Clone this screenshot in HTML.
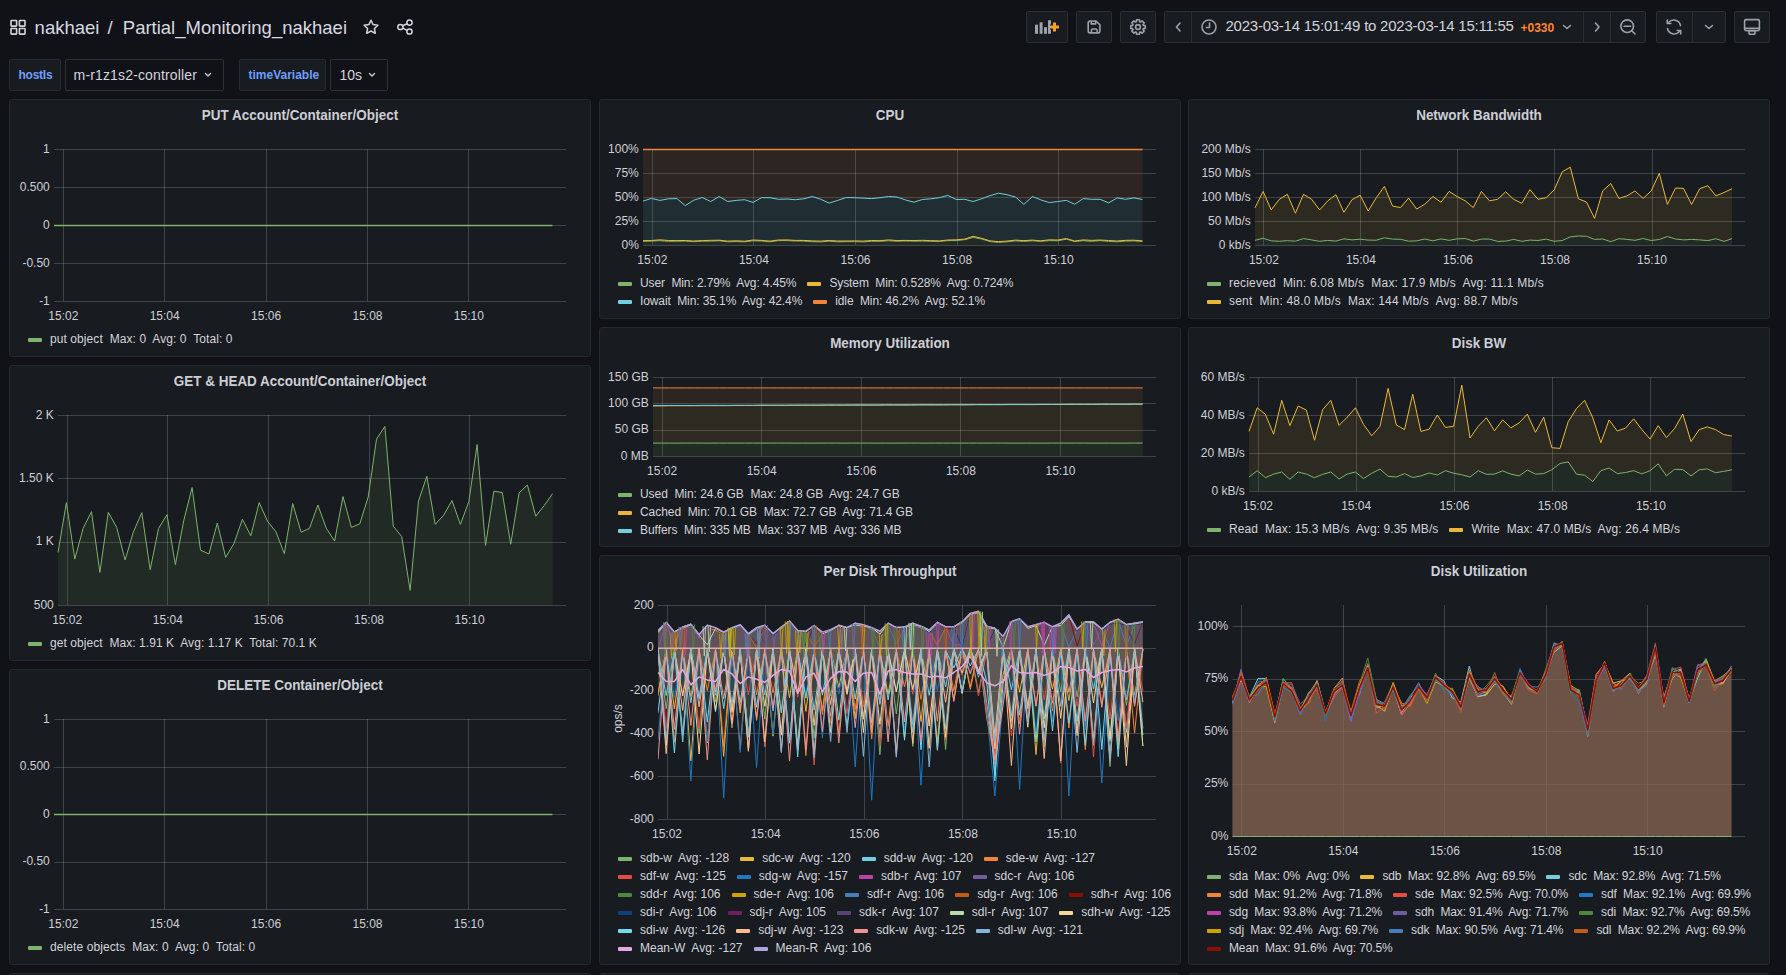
<!DOCTYPE html><html><head><meta charset="utf-8"><style>
*{box-sizing:border-box}
html,body{margin:0;padding:0;background:#111217;width:1786px;height:975px;overflow:hidden;font-family:'Liberation Sans', sans-serif;color:#d3d4dc}
.a{position:absolute}
.pn{position:absolute;background:#181b1f;border:1px solid #24272c;border-radius:3px}
.pt{position:absolute;text-align:center;font-size:15.4px;font-weight:700;line-height:18px;color:#ccced6;white-space:nowrap;transform:scaleX(0.875);transform-origin:50% 50%}
svg{position:absolute;left:0;top:0;overflow:visible}
.ax{font-family:'Liberation Sans', sans-serif;font-size:12px;fill:#cfd0d8}
.lg{position:absolute;font-size:12px;line-height:16px;white-space:pre;color:#d3d4dc}
.li{margin-right:11px}
.li i{display:inline-block;width:14px;height:4px;border-radius:1px;margin-right:8px;vertical-align:1px}
.btn{position:absolute;top:11px;height:32px;background:#181b1f;border:1px solid #2b2e34;border-radius:2px}
.vl{position:absolute;top:59px;height:32px;background:#181b1f;border:1px solid #26292e;border-radius:2px;color:#6e9fff;font-weight:700;font-size:12px;line-height:30px;white-space:nowrap}
.vs{position:absolute;top:59px;height:32px;background:#111217;border:1px solid #2c2f35;border-radius:2px;color:#d3d4dc;font-size:14px;line-height:30px;white-space:nowrap}
</style></head><body>
<svg width="1786" height="60" style="position:absolute;left:0;top:0">
<g fill="none" stroke="#d3d4dc" stroke-width="1.6">
<rect x="11" y="20.5" width="5.6" height="5.6" rx="0.6"/><rect x="19.4" y="20.5" width="5.6" height="5.6" rx="0.6"/>
<rect x="11" y="28.5" width="5.6" height="5.6" rx="0.6"/><rect x="19.4" y="28.5" width="5.6" height="5.6" rx="0.6"/>
</g>
<path d="M371 20.2 L373.1 24.6 L377.9 25.2 L374.4 28.5 L375.3 33.3 L371 31 L366.7 33.3 L367.6 28.5 L364.1 25.2 L368.9 24.6 Z" fill="none" stroke="#d3d4dc" stroke-width="1.5" stroke-linejoin="round"/>
<g fill="none" stroke="#d3d4dc" stroke-width="1.5"><circle cx="400.4" cy="27" r="2.6"/><circle cx="409.5" cy="22.6" r="2.6"/><circle cx="409.5" cy="31.5" r="2.6"/>
<path d="M402.8 25.8 L407.1 23.8 M402.8 28.2 L407.1 30.3"/></g>
</svg>
<div class="a" style="left:34.6px;top:16.6px;font-size:18.5px;line-height:22px;color:#d8d9e0;white-space:nowrap">nakhaei</div>
<div class="a" style="left:107.6px;top:16.6px;font-size:18.5px;line-height:22px;color:#d8d9e0">/</div>
<div class="a" style="left:122.8px;top:16.6px;font-size:18.5px;line-height:22px;color:#d8d9e0;white-space:nowrap">Partial_Monitoring_nakhaei</div>
<div class="btn" style="left:1026px;width:42px"></div>
<div class="btn" style="left:1076px;width:36px"></div>
<div class="btn" style="left:1120px;width:36px"></div>
<div class="btn" style="left:1164px;width:482px"></div>
<div class="btn" style="left:1656px;width:70px"></div>
<div class="btn" style="left:1734px;width:36px"></div>
<svg width="1786" height="60" style="position:absolute;left:0;top:0">
<g stroke="#2b2e34" stroke-width="1" shape-rendering="crispEdges">
<line x1="1191.5" x2="1191.5" y1="12" y2="42"/><line x1="1583.5" x2="1583.5" y1="12" y2="42"/><line x1="1610.5" x2="1610.5" y1="12" y2="42"/><line x1="1692.5" x2="1692.5" y1="12" y2="42"/>
</g>
<g fill="#9ca0aa">
<rect x="1035" y="24.7" width="3" height="9.1"/><rect x="1039.6" y="22.3" width="3" height="11.5"/><rect x="1044" y="27.2" width="3" height="6.6"/><rect x="1048" y="20.2" width="3" height="13.6"/>
</g>
<path d="M1054.5 22.5 V31.5 M1050 27 H1059" stroke="#181b1f" stroke-width="5"/><path d="M1054.5 22.5 V31.5 M1050 27 H1059" stroke="#f7a21f" stroke-width="3"/>
<g fill="none" stroke="#9ca0aa" stroke-width="1.6" stroke-linejoin="round">
<path d="M1090.2 21 H1096 L1099.9 24.9 V30.9 Q1099.9 32.9 1097.9 32.9 H1090.2 Q1088.2 32.9 1088.2 30.9 V23 Q1088.2 21 1090.2 21 Z"/><path d="M1091.2 21 V23.9 H1095.6 V21"/><path d="M1091.4 32.9 V30.3 Q1091.4 29 1092.7 29 H1095.9 Q1097.2 29 1097.2 30.3 V32.9"/>
</g>
<g fill="none" stroke="#9ca0aa" stroke-width="1.6">
<circle cx="1138" cy="27" r="2.4"/>
<path d="M1136.35 21.65 L1136.53 19.75 L1139.47 19.75 L1139.65 21.65 L1140.61 22.05 L1142.09 20.83 L1144.17 22.91 L1142.95 24.39 L1143.35 25.35 L1145.25 25.53 L1145.25 28.47 L1143.35 28.65 L1142.95 29.61 L1144.17 31.09 L1142.09 33.17 L1140.61 31.95 L1139.65 32.35 L1139.47 34.25 L1136.53 34.25 L1136.35 32.35 L1135.39 31.95 L1133.91 33.17 L1131.83 31.09 L1133.05 29.61 L1132.65 28.65 L1130.75 28.47 L1130.75 25.53 L1132.65 25.35 L1133.05 24.39 L1131.83 22.91 L1133.91 20.83 L1135.39 22.05 Z" stroke-linejoin="round"/>
</g>
<g fill="none" stroke="#9ca0aa" stroke-width="1.6" stroke-linecap="round" stroke-linejoin="round">
<path d="M1180 23 L1176.5 27 L1180 31"/>
<circle cx="1209" cy="27" r="7"/><path d="M1209.5 23 V27.5 H1206.5"/>
<path d="M1563.5 25.5 L1567 28.5 L1570.5 25.5"/>
<path d="M1595.5 23 L1599 27 L1595.5 31"/>
<circle cx="1627.2" cy="26.2" r="6.3"/><path d="M1624 26.2 H1630.6 M1631.8 30.8 L1635 34"/>
<path d="M1705.5 25.5 L1709 28.5 L1712.5 25.5"/>
<path d="M1680.5 25.5 A6.8 6.8 0 0 0 1668.6 22.5 M1667.5 28.5 A6.8 6.8 0 0 0 1679.4 31.5"/>
<path d="M1667.3 20 V23.5 H1670.8 M1680.7 34 V30.5 H1677.2"/>
<rect x="1744.6" y="19.6" width="14.8" height="11" rx="1.5"/><path d="M1744.6 28.2 H1759.4"/><rect x="1749" y="30.6" width="6" height="3.6" rx="0.8"/>
</g>
</svg>
<div class="a" style="left:1225.5px;top:16.3px;font-size:15px;line-height:20px;letter-spacing:-0.24px;color:#d3d4dc;white-space:nowrap">2023-03-14 15:01:49 to 2023-03-14 15:11:55</div>
<div class="a" style="left:1520.5px;top:18.5px;font-size:12px;line-height:18px;color:#ff8833;font-weight:700;white-space:nowrap">+0330</div>
<div class="vl" style="left:9px;width:52px;padding-left:8.5px;letter-spacing:-0.25px">hostIs</div>
<div class="vs" style="left:65px;width:159px;padding-left:7.6px;letter-spacing:0.15px">m-r1z1s2-controller</div>
<div class="vl" style="left:239px;width:87px;padding-left:8.5px">timeVariable</div>
<div class="vs" style="left:330px;width:58px;padding-left:8.5px">10s</div>
<svg width="400" height="100" style="position:absolute;left:0;top:0"><g fill="none" stroke="#c8c9d0" stroke-width="1.4" stroke-linecap="round" stroke-linejoin="round">
<path d="M205.5 73.5 L208 76 L210.5 73.5"/><path d="M369.5 73.5 L372 76 L374.5 73.5"/></g></svg>
<div class="pn" style="left:9px;top:99px;width:582px;height:258px"></div>
<div class="pt" style="left:9px;top:105.8px;width:582px">PUT Account/Container/Object</div>
<svg width="1786" height="975"><g stroke="rgba(204,204,220,0.22)" stroke-width="1"><line x1="54" x2="566" y1="149.5" y2="149.5" /><line x1="54" x2="566" y1="187.5" y2="187.5" /><line x1="54" x2="566" y1="225.5" y2="225.5" /><line x1="54" x2="566" y1="263.5" y2="263.5" /><line x1="54" x2="566" y1="301.5" y2="301.5" /><line x1="63.5" x2="63.5" y1="149" y2="301" /><line x1="164.5" x2="164.5" y1="149" y2="301" /><line x1="266.5" x2="266.5" y1="149" y2="301" /><line x1="367.5" x2="367.5" y1="149" y2="301" /><line x1="468.5" x2="468.5" y1="149" y2="301" /></g><g class="ax"><text x="49.8" y="152.5" text-anchor="end">1</text><text x="49.8" y="190.5" text-anchor="end">0.500</text><text x="49.8" y="228.5" text-anchor="end">0</text><text x="49.8" y="266.5" text-anchor="end">-0.50</text><text x="49.8" y="304.5" text-anchor="end">-1</text><text x="63.3" y="319.9" text-anchor="middle">15:02</text><text x="164.7" y="319.9" text-anchor="middle">15:04</text><text x="266.1" y="319.9" text-anchor="middle">15:06</text><text x="367.5" y="319.9" text-anchor="middle">15:08</text><text x="468.8" y="319.9" text-anchor="middle">15:10</text></g><path d="M54 225.5 L62.4 225.5 L70.9 225.5 L79.3 225.5 L87.8 225.5 L96.2 225.5 L104.7 225.5 L113.1 225.5 L121.6 225.5 L130 225.5 L138.5 225.5 L146.9 225.5 L155.4 225.5 L163.8 225.5 L172.3 225.5 L180.7 225.5 L189.2 225.5 L197.6 225.5 L206.1 225.5 L214.5 225.5 L223 225.5 L231.4 225.5 L239.9 225.5 L248.3 225.5 L256.8 225.5 L265.2 225.5 L273.7 225.5 L282.1 225.5 L290.6 225.5 L299 225.5 L307.5 225.5 L315.9 225.5 L324.4 225.5 L332.8 225.5 L341.3 225.5 L349.7 225.5 L358.2 225.5 L366.6 225.5 L375.1 225.5 L383.5 225.5 L392 225.5 L400.4 225.5 L408.9 225.5 L417.3 225.5 L425.7 225.5 L434.2 225.5 L442.6 225.5 L451.1 225.5 L459.5 225.5 L468 225.5 L476.4 225.5 L484.9 225.5 L493.3 225.5 L501.8 225.5 L510.2 225.5 L518.7 225.5 L527.1 225.5 L535.6 225.5 L544 225.5 L552.5 225.5" fill="none" stroke="#7EB26D" stroke-width="1.5" stroke-linejoin="round"/></svg>
<div class="lg" style="left:28px;top:330.5px;letter-spacing:0.08px"><span class="li"><i style="background:#7EB26D"></i>put object  Max: 0  Avg: 0  Total: 0</span></div>
<div class="pn" style="left:9px;top:365px;width:582px;height:296px"></div>
<div class="pt" style="left:9px;top:371.8px;width:582px">GET &amp; HEAD Account/Container/Object</div>
<svg width="1786" height="975"><g stroke="rgba(204,204,220,0.22)" stroke-width="1"><line x1="58" x2="566" y1="415.5" y2="415.5" /><line x1="58" x2="566" y1="478.5" y2="478.5" /><line x1="58" x2="566" y1="542.5" y2="542.5" /><line x1="58" x2="566" y1="605.5" y2="605.5" /><line x1="67.5" x2="67.5" y1="415" y2="605" /><line x1="167.5" x2="167.5" y1="415" y2="605" /><line x1="268.5" x2="268.5" y1="415" y2="605" /><line x1="369.5" x2="369.5" y1="415" y2="605" /><line x1="469.5" x2="469.5" y1="415" y2="605" /></g><g class="ax"><text x="53.8" y="418.5" text-anchor="end">2 K</text><text x="53.8" y="481.8" text-anchor="end">1.50 K</text><text x="53.8" y="545.2" text-anchor="end">1 K</text><text x="53.8" y="608.5" text-anchor="end">500</text><text x="67.2" y="623.9" text-anchor="middle">15:02</text><text x="167.8" y="623.9" text-anchor="middle">15:04</text><text x="268.4" y="623.9" text-anchor="middle">15:06</text><text x="369" y="623.9" text-anchor="middle">15:08</text><text x="469.6" y="623.9" text-anchor="middle">15:10</text></g><path d="M58 552.5 L66.4 502.6 L74.8 559.1 L83.1 528.3 L91.5 511.7 L99.9 572.4 L108.3 512.3 L116.7 527.4 L125.1 560 L133.4 531.9 L141.8 512.6 L150.2 569.7 L158.6 528.3 L167 514.7 L175.4 564.6 L183.7 520.7 L192.1 487.5 L200.5 550.1 L208.9 554 L217.3 523.1 L225.7 557.3 L234 543.4 L242.4 519.2 L250.8 535.8 L259.2 502.6 L267.6 521.3 L276 531.9 L284.3 553.7 L292.7 503.5 L301.1 532.2 L309.5 528.3 L317.9 505 L326.3 528.3 L334.6 541 L343 496.5 L351.4 527.4 L359.8 523.8 L368.2 497.1 L376.5 439.1 L384.9 426.4 L393.3 526.2 L401.7 536.5 L410.1 590.3 L418.5 501.1 L426.8 476.3 L435.2 524.4 L443.6 515.3 L452 500.5 L460.4 524.4 L468.8 501.7 L477.1 444.5 L485.5 545.5 L493.9 491.1 L502.3 492.6 L510.7 544.3 L519.1 492.9 L527.4 485 L535.8 516.2 L544.2 505.6 L552.6 493.5 L552.6 605.5 L544.2 605.5 L535.8 605.5 L527.4 605.5 L519.1 605.5 L510.7 605.5 L502.3 605.5 L493.9 605.5 L485.5 605.5 L477.1 605.5 L468.8 605.5 L460.4 605.5 L452 605.5 L443.6 605.5 L435.2 605.5 L426.8 605.5 L418.5 605.5 L410.1 605.5 L401.7 605.5 L393.3 605.5 L384.9 605.5 L376.5 605.5 L368.2 605.5 L359.8 605.5 L351.4 605.5 L343 605.5 L334.6 605.5 L326.3 605.5 L317.9 605.5 L309.5 605.5 L301.1 605.5 L292.7 605.5 L284.3 605.5 L276 605.5 L267.6 605.5 L259.2 605.5 L250.8 605.5 L242.4 605.5 L234 605.5 L225.7 605.5 L217.3 605.5 L208.9 605.5 L200.5 605.5 L192.1 605.5 L183.7 605.5 L175.4 605.5 L167 605.5 L158.6 605.5 L150.2 605.5 L141.8 605.5 L133.4 605.5 L125.1 605.5 L116.7 605.5 L108.3 605.5 L99.9 605.5 L91.5 605.5 L83.1 605.5 L74.8 605.5 L66.4 605.5 L58 605.5 Z" fill="#7EB26D" fill-opacity="0.1" stroke="none"/><path d="M58 552.5 L66.4 502.6 L74.8 559.1 L83.1 528.3 L91.5 511.7 L99.9 572.4 L108.3 512.3 L116.7 527.4 L125.1 560 L133.4 531.9 L141.8 512.6 L150.2 569.7 L158.6 528.3 L167 514.7 L175.4 564.6 L183.7 520.7 L192.1 487.5 L200.5 550.1 L208.9 554 L217.3 523.1 L225.7 557.3 L234 543.4 L242.4 519.2 L250.8 535.8 L259.2 502.6 L267.6 521.3 L276 531.9 L284.3 553.7 L292.7 503.5 L301.1 532.2 L309.5 528.3 L317.9 505 L326.3 528.3 L334.6 541 L343 496.5 L351.4 527.4 L359.8 523.8 L368.2 497.1 L376.5 439.1 L384.9 426.4 L393.3 526.2 L401.7 536.5 L410.1 590.3 L418.5 501.1 L426.8 476.3 L435.2 524.4 L443.6 515.3 L452 500.5 L460.4 524.4 L468.8 501.7 L477.1 444.5 L485.5 545.5 L493.9 491.1 L502.3 492.6 L510.7 544.3 L519.1 492.9 L527.4 485 L535.8 516.2 L544.2 505.6 L552.6 493.5" fill="none" stroke="#7EB26D" stroke-width="1" stroke-linejoin="round"/></svg>
<div class="lg" style="left:28px;top:634.5px;letter-spacing:0.06px"><span class="li"><i style="background:#7EB26D"></i>get object  Max: 1.91 K  Avg: 1.17 K  Total: 70.1 K</span></div>
<div class="pn" style="left:9px;top:669px;width:582px;height:296px"></div>
<div class="pt" style="left:9px;top:675.8px;width:582px">DELETE Container/Object</div>
<svg width="1786" height="975"><g stroke="rgba(204,204,220,0.22)" stroke-width="1"><line x1="54" x2="566" y1="719.5" y2="719.5" /><line x1="54" x2="566" y1="767.5" y2="767.5" /><line x1="54" x2="566" y1="814.5" y2="814.5" /><line x1="54" x2="566" y1="862.5" y2="862.5" /><line x1="54" x2="566" y1="909.5" y2="909.5" /><line x1="63.5" x2="63.5" y1="719" y2="909" /><line x1="164.5" x2="164.5" y1="719" y2="909" /><line x1="266.5" x2="266.5" y1="719" y2="909" /><line x1="367.5" x2="367.5" y1="719" y2="909" /><line x1="468.5" x2="468.5" y1="719" y2="909" /></g><g class="ax"><text x="49.8" y="722.5" text-anchor="end">1</text><text x="49.8" y="770" text-anchor="end">0.500</text><text x="49.8" y="817.5" text-anchor="end">0</text><text x="49.8" y="865" text-anchor="end">-0.50</text><text x="49.8" y="912.5" text-anchor="end">-1</text><text x="63.3" y="927.9" text-anchor="middle">15:02</text><text x="164.7" y="927.9" text-anchor="middle">15:04</text><text x="266.1" y="927.9" text-anchor="middle">15:06</text><text x="367.5" y="927.9" text-anchor="middle">15:08</text><text x="468.8" y="927.9" text-anchor="middle">15:10</text></g><path d="M54 814.5 L62.4 814.5 L70.9 814.5 L79.3 814.5 L87.8 814.5 L96.2 814.5 L104.7 814.5 L113.1 814.5 L121.6 814.5 L130 814.5 L138.5 814.5 L146.9 814.5 L155.4 814.5 L163.8 814.5 L172.3 814.5 L180.7 814.5 L189.2 814.5 L197.6 814.5 L206.1 814.5 L214.5 814.5 L223 814.5 L231.4 814.5 L239.9 814.5 L248.3 814.5 L256.8 814.5 L265.2 814.5 L273.7 814.5 L282.1 814.5 L290.6 814.5 L299 814.5 L307.5 814.5 L315.9 814.5 L324.4 814.5 L332.8 814.5 L341.3 814.5 L349.7 814.5 L358.2 814.5 L366.6 814.5 L375.1 814.5 L383.5 814.5 L392 814.5 L400.4 814.5 L408.9 814.5 L417.3 814.5 L425.7 814.5 L434.2 814.5 L442.6 814.5 L451.1 814.5 L459.5 814.5 L468 814.5 L476.4 814.5 L484.9 814.5 L493.3 814.5 L501.8 814.5 L510.2 814.5 L518.7 814.5 L527.1 814.5 L535.6 814.5 L544 814.5 L552.5 814.5" fill="none" stroke="#7EB26D" stroke-width="1.5" stroke-linejoin="round"/></svg>
<div class="lg" style="left:28px;top:938.5px;letter-spacing:0.09px"><span class="li"><i style="background:#7EB26D"></i>delete objects  Max: 0  Avg: 0  Total: 0</span></div>
<div class="pn" style="left:599px;top:99px;width:582px;height:220px"></div>
<div class="pt" style="left:599px;top:105.8px;width:582px">CPU</div>
<svg width="1786" height="975"><g stroke="rgba(204,204,220,0.22)" stroke-width="1"><line x1="643" x2="1156" y1="149.5" y2="149.5" /><line x1="643" x2="1156" y1="173.5" y2="173.5" /><line x1="643" x2="1156" y1="197.5" y2="197.5" /><line x1="643" x2="1156" y1="221.5" y2="221.5" /><line x1="643" x2="1156" y1="245.5" y2="245.5" /><line x1="652.5" x2="652.5" y1="149" y2="245" /><line x1="753.5" x2="753.5" y1="149" y2="245" /><line x1="855.5" x2="855.5" y1="149" y2="245" /><line x1="957.5" x2="957.5" y1="149" y2="245" /><line x1="1058.5" x2="1058.5" y1="149" y2="245" /></g><g class="ax"><text x="638.8" y="152.5" text-anchor="end">100%</text><text x="638.8" y="176.5" text-anchor="end">75%</text><text x="638.8" y="200.5" text-anchor="end">50%</text><text x="638.8" y="224.5" text-anchor="end">25%</text><text x="638.8" y="248.5" text-anchor="end">0%</text><text x="652.3" y="263.9" text-anchor="middle">15:02</text><text x="753.9" y="263.9" text-anchor="middle">15:04</text><text x="855.5" y="263.9" text-anchor="middle">15:06</text><text x="957.1" y="263.9" text-anchor="middle">15:08</text><text x="1058.6" y="263.9" text-anchor="middle">15:10</text></g><path d="M643 241.3 L651.5 241.1 L659.9 240.7 L668.4 241.3 L676.9 241.2 L685.3 241.1 L693.8 241.7 L702.3 241.2 L710.7 241.1 L719.2 240.8 L727.7 241.8 L736.1 241.5 L744.6 241.8 L753 240.8 L761.5 241 L770 241.8 L778.4 240.6 L786.9 240.6 L795.4 241 L803.8 241.1 L812.3 241.7 L820.8 241.9 L829.2 241.2 L837.7 241.8 L846.2 241.6 L854.6 241.6 L863.1 241.9 L871.6 241.3 L880 241.3 L888.5 240.8 L897 241.2 L905.4 241 L913.9 241.2 L922.4 241 L930.8 241.3 L939.3 241.5 L947.8 240.6 L956.2 240.6 L964.7 239.7 L973.1 237.4 L981.6 239 L990.1 241.6 L998.5 242.4 L1007 241.8 L1015.5 240.9 L1023.9 241.4 L1032.4 240.8 L1040.9 241.4 L1049.3 240.6 L1057.8 240.8 L1066.3 239.2 L1074.7 241.6 L1083.2 240.7 L1091.7 241.3 L1100.1 240.6 L1108.6 241.4 L1117.1 241.8 L1125.5 241.1 L1134 240.9 L1142.5 241.5 L1142.5 245.5 L1134 245.5 L1125.5 245.5 L1117.1 245.5 L1108.6 245.5 L1100.1 245.5 L1091.7 245.5 L1083.2 245.5 L1074.7 245.5 L1066.3 245.5 L1057.8 245.5 L1049.3 245.5 L1040.9 245.5 L1032.4 245.5 L1023.9 245.5 L1015.5 245.5 L1007 245.5 L998.5 245.5 L990.1 245.5 L981.6 245.5 L973.1 245.5 L964.7 245.5 L956.2 245.5 L947.8 245.5 L939.3 245.5 L930.8 245.5 L922.4 245.5 L913.9 245.5 L905.4 245.5 L897 245.5 L888.5 245.5 L880 245.5 L871.6 245.5 L863.1 245.5 L854.6 245.5 L846.2 245.5 L837.7 245.5 L829.2 245.5 L820.8 245.5 L812.3 245.5 L803.8 245.5 L795.4 245.5 L786.9 245.5 L778.4 245.5 L770 245.5 L761.5 245.5 L753 245.5 L744.6 245.5 L736.1 245.5 L727.7 245.5 L719.2 245.5 L710.7 245.5 L702.3 245.5 L693.8 245.5 L685.3 245.5 L676.9 245.5 L668.4 245.5 L659.9 245.5 L651.5 245.5 L643 245.5 Z" fill="#7EB26D" fill-opacity="0.1" stroke="none"/><path d="M643 240.7 L651.5 240.5 L659.9 239.8 L668.4 240.5 L676.9 240.6 L685.3 240.5 L693.8 241 L702.3 240.6 L710.7 240.3 L719.2 240.2 L727.7 241.1 L736.1 240.8 L744.6 241.2 L753 240 L761.5 240.4 L770 241.1 L778.4 240 L786.9 239.9 L795.4 240.4 L803.8 240.4 L812.3 240.9 L820.8 241.1 L829.2 240.5 L837.7 241 L846.2 241 L854.6 240.9 L863.1 241.1 L871.6 240.5 L880 240.7 L888.5 239.9 L897 240.6 L905.4 240.4 L913.9 240.5 L922.4 240.3 L930.8 240.6 L939.3 240.9 L947.8 240 L956.2 239.8 L964.7 239.1 L973.1 236.3 L981.6 238.3 L990.1 240.9 L998.5 241.6 L1007 241.1 L1015.5 240.1 L1023.9 240.6 L1032.4 240.1 L1040.9 240.8 L1049.3 239.8 L1057.8 240 L1066.3 238.5 L1074.7 241 L1083.2 239.9 L1091.7 240.4 L1100.1 240 L1108.6 240.5 L1117.1 241 L1125.5 240.3 L1134 240.2 L1142.5 240.9 L1142.5 241.5 L1134 240.9 L1125.5 241.1 L1117.1 241.8 L1108.6 241.4 L1100.1 240.6 L1091.7 241.3 L1083.2 240.7 L1074.7 241.6 L1066.3 239.2 L1057.8 240.8 L1049.3 240.6 L1040.9 241.4 L1032.4 240.8 L1023.9 241.4 L1015.5 240.9 L1007 241.8 L998.5 242.4 L990.1 241.6 L981.6 239 L973.1 237.4 L964.7 239.7 L956.2 240.6 L947.8 240.6 L939.3 241.5 L930.8 241.3 L922.4 241 L913.9 241.2 L905.4 241 L897 241.2 L888.5 240.8 L880 241.3 L871.6 241.3 L863.1 241.9 L854.6 241.6 L846.2 241.6 L837.7 241.8 L829.2 241.2 L820.8 241.9 L812.3 241.7 L803.8 241.1 L795.4 241 L786.9 240.6 L778.4 240.6 L770 241.8 L761.5 241 L753 240.8 L744.6 241.8 L736.1 241.5 L727.7 241.8 L719.2 240.8 L710.7 241.1 L702.3 241.2 L693.8 241.7 L685.3 241.1 L676.9 241.2 L668.4 241.3 L659.9 240.7 L651.5 241.1 L643 241.3 Z" fill="#EAB839" fill-opacity="0.1" stroke="none"/><path d="M643 201.1 L651.5 198.4 L659.9 200.4 L668.4 198.8 L676.9 198.6 L685.3 205.6 L693.8 200.2 L702.3 197.5 L710.7 201.5 L719.2 196.5 L727.7 201.5 L736.1 200.4 L744.6 199.7 L753 202.4 L761.5 197.7 L770 197.7 L778.4 199.3 L786.9 199 L795.4 199.7 L803.8 198.8 L812.3 196.5 L820.8 199.3 L829.2 203.1 L837.7 200.4 L846.2 197.5 L854.6 197.7 L863.1 198.1 L871.6 198.6 L880 197.7 L888.5 196.5 L897 197 L905.4 199.9 L913.9 202.2 L922.4 199.5 L930.8 198.8 L939.3 197.7 L947.8 195.4 L956.2 199.5 L964.7 199.3 L973.1 201.5 L981.6 198.8 L990.1 195.6 L998.5 193.2 L1007 194.7 L1015.5 197 L1023.9 204.4 L1032.4 196.5 L1040.9 199.9 L1049.3 202.6 L1057.8 201.5 L1066.3 200.4 L1074.7 204.2 L1083.2 198.6 L1091.7 199.3 L1100.1 199.3 L1108.6 202.9 L1117.1 197.9 L1125.5 199.3 L1134 197.9 L1142.5 199.5 L1142.5 240.9 L1134 240.2 L1125.5 240.3 L1117.1 241 L1108.6 240.5 L1100.1 240 L1091.7 240.4 L1083.2 239.9 L1074.7 241 L1066.3 238.5 L1057.8 240 L1049.3 239.8 L1040.9 240.8 L1032.4 240.1 L1023.9 240.6 L1015.5 240.1 L1007 241.1 L998.5 241.6 L990.1 240.9 L981.6 238.3 L973.1 236.3 L964.7 239.1 L956.2 239.8 L947.8 240 L939.3 240.9 L930.8 240.6 L922.4 240.3 L913.9 240.5 L905.4 240.4 L897 240.6 L888.5 239.9 L880 240.7 L871.6 240.5 L863.1 241.1 L854.6 240.9 L846.2 241 L837.7 241 L829.2 240.5 L820.8 241.1 L812.3 240.9 L803.8 240.4 L795.4 240.4 L786.9 239.9 L778.4 240 L770 241.1 L761.5 240.4 L753 240 L744.6 241.2 L736.1 240.8 L727.7 241.1 L719.2 240.2 L710.7 240.3 L702.3 240.6 L693.8 241 L685.3 240.5 L676.9 240.6 L668.4 240.5 L659.9 239.8 L651.5 240.5 L643 240.7 Z" fill="#6ED0E0" fill-opacity="0.1" stroke="none"/><path d="M643 149.5 L651.5 149.5 L659.9 149.5 L668.4 149.5 L676.9 149.5 L685.3 149.5 L693.8 149.5 L702.3 149.5 L710.7 149.5 L719.2 149.5 L727.7 149.5 L736.1 149.5 L744.6 149.5 L753 149.5 L761.5 149.5 L770 149.5 L778.4 149.5 L786.9 149.5 L795.4 149.5 L803.8 149.5 L812.3 149.5 L820.8 149.5 L829.2 149.5 L837.7 149.5 L846.2 149.5 L854.6 149.5 L863.1 149.5 L871.6 149.5 L880 149.5 L888.5 149.5 L897 149.5 L905.4 149.5 L913.9 149.5 L922.4 149.5 L930.8 149.5 L939.3 149.5 L947.8 149.5 L956.2 149.5 L964.7 149.5 L973.1 149.5 L981.6 149.5 L990.1 149.5 L998.5 149.5 L1007 149.5 L1015.5 149.5 L1023.9 149.5 L1032.4 149.5 L1040.9 149.5 L1049.3 149.5 L1057.8 149.5 L1066.3 149.5 L1074.7 149.5 L1083.2 149.5 L1091.7 149.5 L1100.1 149.5 L1108.6 149.5 L1117.1 149.5 L1125.5 149.5 L1134 149.5 L1142.5 149.5 L1142.5 199.5 L1134 197.9 L1125.5 199.3 L1117.1 197.9 L1108.6 202.9 L1100.1 199.3 L1091.7 199.3 L1083.2 198.6 L1074.7 204.2 L1066.3 200.4 L1057.8 201.5 L1049.3 202.6 L1040.9 199.9 L1032.4 196.5 L1023.9 204.4 L1015.5 197 L1007 194.7 L998.5 193.2 L990.1 195.6 L981.6 198.8 L973.1 201.5 L964.7 199.3 L956.2 199.5 L947.8 195.4 L939.3 197.7 L930.8 198.8 L922.4 199.5 L913.9 202.2 L905.4 199.9 L897 197 L888.5 196.5 L880 197.7 L871.6 198.6 L863.1 198.1 L854.6 197.7 L846.2 197.5 L837.7 200.4 L829.2 203.1 L820.8 199.3 L812.3 196.5 L803.8 198.8 L795.4 199.7 L786.9 199 L778.4 199.3 L770 197.7 L761.5 197.7 L753 202.4 L744.6 199.7 L736.1 200.4 L727.7 201.5 L719.2 196.5 L710.7 201.5 L702.3 197.5 L693.8 200.2 L685.3 205.6 L676.9 198.6 L668.4 198.8 L659.9 200.4 L651.5 198.4 L643 201.1 Z" fill="#EF843C" fill-opacity="0.1" stroke="none"/><path d="M643 241.3 L651.5 241.1 L659.9 240.7 L668.4 241.3 L676.9 241.2 L685.3 241.1 L693.8 241.7 L702.3 241.2 L710.7 241.1 L719.2 240.8 L727.7 241.8 L736.1 241.5 L744.6 241.8 L753 240.8 L761.5 241 L770 241.8 L778.4 240.6 L786.9 240.6 L795.4 241 L803.8 241.1 L812.3 241.7 L820.8 241.9 L829.2 241.2 L837.7 241.8 L846.2 241.6 L854.6 241.6 L863.1 241.9 L871.6 241.3 L880 241.3 L888.5 240.8 L897 241.2 L905.4 241 L913.9 241.2 L922.4 241 L930.8 241.3 L939.3 241.5 L947.8 240.6 L956.2 240.6 L964.7 239.7 L973.1 237.4 L981.6 239 L990.1 241.6 L998.5 242.4 L1007 241.8 L1015.5 240.9 L1023.9 241.4 L1032.4 240.8 L1040.9 241.4 L1049.3 240.6 L1057.8 240.8 L1066.3 239.2 L1074.7 241.6 L1083.2 240.7 L1091.7 241.3 L1100.1 240.6 L1108.6 241.4 L1117.1 241.8 L1125.5 241.1 L1134 240.9 L1142.5 241.5" fill="none" stroke="#7EB26D" stroke-width="1" stroke-linejoin="round"/><path d="M643 240.7 L651.5 240.5 L659.9 239.8 L668.4 240.5 L676.9 240.6 L685.3 240.5 L693.8 241 L702.3 240.6 L710.7 240.3 L719.2 240.2 L727.7 241.1 L736.1 240.8 L744.6 241.2 L753 240 L761.5 240.4 L770 241.1 L778.4 240 L786.9 239.9 L795.4 240.4 L803.8 240.4 L812.3 240.9 L820.8 241.1 L829.2 240.5 L837.7 241 L846.2 241 L854.6 240.9 L863.1 241.1 L871.6 240.5 L880 240.7 L888.5 239.9 L897 240.6 L905.4 240.4 L913.9 240.5 L922.4 240.3 L930.8 240.6 L939.3 240.9 L947.8 240 L956.2 239.8 L964.7 239.1 L973.1 236.3 L981.6 238.3 L990.1 240.9 L998.5 241.6 L1007 241.1 L1015.5 240.1 L1023.9 240.6 L1032.4 240.1 L1040.9 240.8 L1049.3 239.8 L1057.8 240 L1066.3 238.5 L1074.7 241 L1083.2 239.9 L1091.7 240.4 L1100.1 240 L1108.6 240.5 L1117.1 241 L1125.5 240.3 L1134 240.2 L1142.5 240.9" fill="none" stroke="#EAB839" stroke-width="1" stroke-linejoin="round"/><path d="M643 201.1 L651.5 198.4 L659.9 200.4 L668.4 198.8 L676.9 198.6 L685.3 205.6 L693.8 200.2 L702.3 197.5 L710.7 201.5 L719.2 196.5 L727.7 201.5 L736.1 200.4 L744.6 199.7 L753 202.4 L761.5 197.7 L770 197.7 L778.4 199.3 L786.9 199 L795.4 199.7 L803.8 198.8 L812.3 196.5 L820.8 199.3 L829.2 203.1 L837.7 200.4 L846.2 197.5 L854.6 197.7 L863.1 198.1 L871.6 198.6 L880 197.7 L888.5 196.5 L897 197 L905.4 199.9 L913.9 202.2 L922.4 199.5 L930.8 198.8 L939.3 197.7 L947.8 195.4 L956.2 199.5 L964.7 199.3 L973.1 201.5 L981.6 198.8 L990.1 195.6 L998.5 193.2 L1007 194.7 L1015.5 197 L1023.9 204.4 L1032.4 196.5 L1040.9 199.9 L1049.3 202.6 L1057.8 201.5 L1066.3 200.4 L1074.7 204.2 L1083.2 198.6 L1091.7 199.3 L1100.1 199.3 L1108.6 202.9 L1117.1 197.9 L1125.5 199.3 L1134 197.9 L1142.5 199.5" fill="none" stroke="#6ED0E0" stroke-width="1" stroke-linejoin="round"/><path d="M643 149.5 L651.5 149.5 L659.9 149.5 L668.4 149.5 L676.9 149.5 L685.3 149.5 L693.8 149.5 L702.3 149.5 L710.7 149.5 L719.2 149.5 L727.7 149.5 L736.1 149.5 L744.6 149.5 L753 149.5 L761.5 149.5 L770 149.5 L778.4 149.5 L786.9 149.5 L795.4 149.5 L803.8 149.5 L812.3 149.5 L820.8 149.5 L829.2 149.5 L837.7 149.5 L846.2 149.5 L854.6 149.5 L863.1 149.5 L871.6 149.5 L880 149.5 L888.5 149.5 L897 149.5 L905.4 149.5 L913.9 149.5 L922.4 149.5 L930.8 149.5 L939.3 149.5 L947.8 149.5 L956.2 149.5 L964.7 149.5 L973.1 149.5 L981.6 149.5 L990.1 149.5 L998.5 149.5 L1007 149.5 L1015.5 149.5 L1023.9 149.5 L1032.4 149.5 L1040.9 149.5 L1049.3 149.5 L1057.8 149.5 L1066.3 149.5 L1074.7 149.5 L1083.2 149.5 L1091.7 149.5 L1100.1 149.5 L1108.6 149.5 L1117.1 149.5 L1125.5 149.5 L1134 149.5 L1142.5 149.5" fill="none" stroke="#EF843C" stroke-width="1.5" stroke-linejoin="round"/></svg>
<div class="lg" style="left:618px;top:275px;letter-spacing:-0.1px"><span class="li"><i style="background:#7EB26D"></i>User  Min: 2.79%  Avg: 4.45%</span><span class="li"><i style="background:#EAB839"></i>System  Min: 0.528%  Avg: 0.724%</span></div>
<div class="lg" style="left:618px;top:293px;letter-spacing:-0.1px"><span class="li"><i style="background:#6ED0E0"></i>Iowait  Min: 35.1%  Avg: 42.4%</span><span class="li"><i style="background:#EF843C"></i>idle  Min: 46.2%  Avg: 52.1%</span></div>
<div class="pn" style="left:1188px;top:99px;width:582px;height:220px"></div>
<div class="pt" style="left:1188px;top:105.8px;width:582px">Network Bandwidth</div>
<svg width="1786" height="975"><g stroke="rgba(204,204,220,0.22)" stroke-width="1"><line x1="1255" x2="1745" y1="149.5" y2="149.5" /><line x1="1255" x2="1745" y1="173.5" y2="173.5" /><line x1="1255" x2="1745" y1="197.5" y2="197.5" /><line x1="1255" x2="1745" y1="221.5" y2="221.5" /><line x1="1255" x2="1745" y1="245.5" y2="245.5" /><line x1="1263.5" x2="1263.5" y1="149" y2="245" /><line x1="1360.5" x2="1360.5" y1="149" y2="245" /><line x1="1457.5" x2="1457.5" y1="149" y2="245" /><line x1="1554.5" x2="1554.5" y1="149" y2="245" /><line x1="1652.5" x2="1652.5" y1="149" y2="245" /></g><g class="ax"><text x="1250.8" y="152.5" text-anchor="end">200 Mb/s</text><text x="1250.8" y="176.5" text-anchor="end">150 Mb/s</text><text x="1250.8" y="200.5" text-anchor="end">100 Mb/s</text><text x="1250.8" y="224.5" text-anchor="end">50 Mb/s</text><text x="1250.8" y="248.5" text-anchor="end">0 kb/s</text><text x="1263.9" y="263.9" text-anchor="middle">15:02</text><text x="1360.9" y="263.9" text-anchor="middle">15:04</text><text x="1458" y="263.9" text-anchor="middle">15:06</text><text x="1555" y="263.9" text-anchor="middle">15:08</text><text x="1652" y="263.9" text-anchor="middle">15:10</text></g><path d="M1255 240.3 L1263.1 238.3 L1271.2 240.8 L1279.3 241.3 L1287.3 240.7 L1295.4 241.2 L1303.5 238.6 L1311.6 239.9 L1319.7 241.3 L1327.8 240.4 L1335.9 241.1 L1343.9 238.8 L1352 239.9 L1360.1 239.2 L1368.2 240.1 L1376.3 240.2 L1384.4 237.8 L1392.5 239.1 L1400.5 239.3 L1408.6 241.2 L1416.7 240.8 L1424.8 239 L1432.9 240.8 L1441 238.9 L1449.1 240.3 L1457.1 238.9 L1465.2 238.5 L1473.3 241.1 L1481.4 239.1 L1489.5 239.1 L1497.6 241.4 L1505.7 241.1 L1513.7 239.4 L1521.8 241.3 L1529.9 240.1 L1538 240.5 L1546.1 239.1 L1554.2 241.3 L1562.3 240.5 L1570.3 236.9 L1578.4 236 L1586.5 236.3 L1594.6 239.4 L1602.7 239 L1610.8 241.7 L1618.9 238.7 L1626.9 239.4 L1635 240.3 L1643.1 238.5 L1651.2 240.5 L1659.3 239.5 L1667.4 236.5 L1675.5 239 L1683.5 239.9 L1691.6 239.4 L1699.7 239.9 L1707.8 240.6 L1715.9 238.7 L1724 241.4 L1732.1 238.6 L1732.1 245.5 L1724 245.5 L1715.9 245.5 L1707.8 245.5 L1699.7 245.5 L1691.6 245.5 L1683.5 245.5 L1675.5 245.5 L1667.4 245.5 L1659.3 245.5 L1651.2 245.5 L1643.1 245.5 L1635 245.5 L1626.9 245.5 L1618.9 245.5 L1610.8 245.5 L1602.7 245.5 L1594.6 245.5 L1586.5 245.5 L1578.4 245.5 L1570.3 245.5 L1562.3 245.5 L1554.2 245.5 L1546.1 245.5 L1538 245.5 L1529.9 245.5 L1521.8 245.5 L1513.7 245.5 L1505.7 245.5 L1497.6 245.5 L1489.5 245.5 L1481.4 245.5 L1473.3 245.5 L1465.2 245.5 L1457.1 245.5 L1449.1 245.5 L1441 245.5 L1432.9 245.5 L1424.8 245.5 L1416.7 245.5 L1408.6 245.5 L1400.5 245.5 L1392.5 245.5 L1384.4 245.5 L1376.3 245.5 L1368.2 245.5 L1360.1 245.5 L1352 245.5 L1343.9 245.5 L1335.9 245.5 L1327.8 245.5 L1319.7 245.5 L1311.6 245.5 L1303.5 245.5 L1295.4 245.5 L1287.3 245.5 L1279.3 245.5 L1271.2 245.5 L1263.1 245.5 L1255 245.5 Z" fill="#7EB26D" fill-opacity="0.1" stroke="none"/><path d="M1255 207.8 L1263.1 191.4 L1271.2 209.9 L1279.3 199.3 L1287.3 194.3 L1295.4 213.2 L1303.5 194.3 L1311.6 199.3 L1319.7 209.9 L1327.8 200.8 L1335.9 194.7 L1343.9 212.3 L1352 199.7 L1360.1 195.2 L1368.2 211 L1376.3 197.7 L1384.4 186.4 L1392.5 206 L1400.5 207.6 L1408.6 198.1 L1416.7 209 L1424.8 204.2 L1432.9 196.5 L1441 202.2 L1449.1 191.4 L1457.1 196.5 L1465.2 200.8 L1473.3 207.6 L1481.4 191.4 L1489.5 200.8 L1497.6 199.3 L1505.7 191.8 L1513.7 199.3 L1521.8 203.3 L1529.9 189.6 L1538 199.3 L1546.1 197.7 L1554.2 189.8 L1562.3 171.7 L1570.3 167.2 L1578.4 198.8 L1586.5 202 L1594.6 218.4 L1602.7 190.9 L1610.8 183.5 L1618.9 198.4 L1626.9 195.9 L1635 190.9 L1643.1 198.4 L1651.2 190.9 L1659.3 173.3 L1667.4 204.4 L1675.5 188 L1683.5 188.4 L1691.6 204.4 L1699.7 188.7 L1707.8 185.7 L1715.9 195.9 L1724 192.5 L1732.1 188.7 L1732.1 238.6 L1724 241.4 L1715.9 238.7 L1707.8 240.6 L1699.7 239.9 L1691.6 239.4 L1683.5 239.9 L1675.5 239 L1667.4 236.5 L1659.3 239.5 L1651.2 240.5 L1643.1 238.5 L1635 240.3 L1626.9 239.4 L1618.9 238.7 L1610.8 241.7 L1602.7 239 L1594.6 239.4 L1586.5 236.3 L1578.4 236 L1570.3 236.9 L1562.3 240.5 L1554.2 241.3 L1546.1 239.1 L1538 240.5 L1529.9 240.1 L1521.8 241.3 L1513.7 239.4 L1505.7 241.1 L1497.6 241.4 L1489.5 239.1 L1481.4 239.1 L1473.3 241.1 L1465.2 238.5 L1457.1 238.9 L1449.1 240.3 L1441 238.9 L1432.9 240.8 L1424.8 239 L1416.7 240.8 L1408.6 241.2 L1400.5 239.3 L1392.5 239.1 L1384.4 237.8 L1376.3 240.2 L1368.2 240.1 L1360.1 239.2 L1352 239.9 L1343.9 238.8 L1335.9 241.1 L1327.8 240.4 L1319.7 241.3 L1311.6 239.9 L1303.5 238.6 L1295.4 241.2 L1287.3 240.7 L1279.3 241.3 L1271.2 240.8 L1263.1 238.3 L1255 240.3 Z" fill="#EAB839" fill-opacity="0.1" stroke="none"/><path d="M1255 240.3 L1263.1 238.3 L1271.2 240.8 L1279.3 241.3 L1287.3 240.7 L1295.4 241.2 L1303.5 238.6 L1311.6 239.9 L1319.7 241.3 L1327.8 240.4 L1335.9 241.1 L1343.9 238.8 L1352 239.9 L1360.1 239.2 L1368.2 240.1 L1376.3 240.2 L1384.4 237.8 L1392.5 239.1 L1400.5 239.3 L1408.6 241.2 L1416.7 240.8 L1424.8 239 L1432.9 240.8 L1441 238.9 L1449.1 240.3 L1457.1 238.9 L1465.2 238.5 L1473.3 241.1 L1481.4 239.1 L1489.5 239.1 L1497.6 241.4 L1505.7 241.1 L1513.7 239.4 L1521.8 241.3 L1529.9 240.1 L1538 240.5 L1546.1 239.1 L1554.2 241.3 L1562.3 240.5 L1570.3 236.9 L1578.4 236 L1586.5 236.3 L1594.6 239.4 L1602.7 239 L1610.8 241.7 L1618.9 238.7 L1626.9 239.4 L1635 240.3 L1643.1 238.5 L1651.2 240.5 L1659.3 239.5 L1667.4 236.5 L1675.5 239 L1683.5 239.9 L1691.6 239.4 L1699.7 239.9 L1707.8 240.6 L1715.9 238.7 L1724 241.4 L1732.1 238.6" fill="none" stroke="#7EB26D" stroke-width="1" stroke-linejoin="round"/><path d="M1255 207.8 L1263.1 191.4 L1271.2 209.9 L1279.3 199.3 L1287.3 194.3 L1295.4 213.2 L1303.5 194.3 L1311.6 199.3 L1319.7 209.9 L1327.8 200.8 L1335.9 194.7 L1343.9 212.3 L1352 199.7 L1360.1 195.2 L1368.2 211 L1376.3 197.7 L1384.4 186.4 L1392.5 206 L1400.5 207.6 L1408.6 198.1 L1416.7 209 L1424.8 204.2 L1432.9 196.5 L1441 202.2 L1449.1 191.4 L1457.1 196.5 L1465.2 200.8 L1473.3 207.6 L1481.4 191.4 L1489.5 200.8 L1497.6 199.3 L1505.7 191.8 L1513.7 199.3 L1521.8 203.3 L1529.9 189.6 L1538 199.3 L1546.1 197.7 L1554.2 189.8 L1562.3 171.7 L1570.3 167.2 L1578.4 198.8 L1586.5 202 L1594.6 218.4 L1602.7 190.9 L1610.8 183.5 L1618.9 198.4 L1626.9 195.9 L1635 190.9 L1643.1 198.4 L1651.2 190.9 L1659.3 173.3 L1667.4 204.4 L1675.5 188 L1683.5 188.4 L1691.6 204.4 L1699.7 188.7 L1707.8 185.7 L1715.9 195.9 L1724 192.5 L1732.1 188.7" fill="none" stroke="#EAB839" stroke-width="1" stroke-linejoin="round"/></svg>
<div class="lg" style="left:1207px;top:275px;letter-spacing:0.19px"><span class="li"><i style="background:#7EB26D"></i>recieved  Min: 6.08 Mb/s  Max: 17.9 Mb/s  Avg: 11.1 Mb/s</span></div>
<div class="lg" style="left:1207px;top:293px;letter-spacing:0.19px"><span class="li"><i style="background:#EAB839"></i>sent  Min: 48.0 Mb/s  Max: 144 Mb/s  Avg: 88.7 Mb/s</span></div>
<div class="pn" style="left:599px;top:327px;width:582px;height:220px"></div>
<div class="pt" style="left:599px;top:333.8px;width:582px">Memory Utilization</div>
<svg width="1786" height="975"><g stroke="rgba(204,204,220,0.22)" stroke-width="1"><line x1="653" x2="1156" y1="377.5" y2="377.5" /><line x1="653" x2="1156" y1="403.5" y2="403.5" /><line x1="653" x2="1156" y1="430.5" y2="430.5" /><line x1="653" x2="1156" y1="456.5" y2="456.5" /><line x1="662.5" x2="662.5" y1="377" y2="456" /><line x1="761.5" x2="761.5" y1="377" y2="456" /><line x1="861.5" x2="861.5" y1="377" y2="456" /><line x1="960.5" x2="960.5" y1="377" y2="456" /><line x1="1060.5" x2="1060.5" y1="377" y2="456" /></g><g class="ax"><text x="648.8" y="380.5" text-anchor="end">150 GB</text><text x="648.8" y="406.8" text-anchor="end">100 GB</text><text x="648.8" y="433.2" text-anchor="end">50 GB</text><text x="648.8" y="459.5" text-anchor="end">0 MB</text><text x="662.1" y="474.9" text-anchor="middle">15:02</text><text x="761.7" y="474.9" text-anchor="middle">15:04</text><text x="861.3" y="474.9" text-anchor="middle">15:06</text><text x="960.9" y="474.9" text-anchor="middle">15:08</text><text x="1060.5" y="474.9" text-anchor="middle">15:10</text></g><path d="M653 443.1 L661.3 443.1 L669.6 443.1 L677.9 443.1 L686.2 443.1 L694.5 443.1 L702.8 443.1 L711.1 443.1 L719.4 443.1 L727.7 443.1 L736 443.1 L744.3 443.1 L752.6 443.1 L760.9 443.1 L769.2 443.1 L777.5 443.1 L785.8 443.1 L794.1 443.1 L802.4 443.1 L810.7 443.1 L819 443.1 L827.3 443.1 L835.6 443.1 L843.9 443.1 L852.2 443.1 L860.5 443.1 L868.8 443.1 L877.1 443.1 L885.4 443.1 L893.7 443.1 L902 443.1 L910.3 443.1 L918.6 443.1 L926.9 443.1 L935.2 443.1 L943.5 443.1 L951.8 443.1 L960.1 443.1 L968.4 443.1 L976.7 443.1 L985 443.1 L993.3 443.1 L1001.6 443.1 L1009.9 443.1 L1018.2 443.1 L1026.5 443.1 L1034.8 443.1 L1043.1 443.1 L1051.4 443.1 L1059.7 443.1 L1068 443.1 L1076.3 443.1 L1084.6 443.1 L1092.9 443.1 L1101.2 443.1 L1109.5 443.1 L1117.8 443.1 L1126.1 443.1 L1134.4 443.1 L1142.7 443.1 L1142.7 456.5 L1134.4 456.5 L1126.1 456.5 L1117.8 456.5 L1109.5 456.5 L1101.2 456.5 L1092.9 456.5 L1084.6 456.5 L1076.3 456.5 L1068 456.5 L1059.7 456.5 L1051.4 456.5 L1043.1 456.5 L1034.8 456.5 L1026.5 456.5 L1018.2 456.5 L1009.9 456.5 L1001.6 456.5 L993.3 456.5 L985 456.5 L976.7 456.5 L968.4 456.5 L960.1 456.5 L951.8 456.5 L943.5 456.5 L935.2 456.5 L926.9 456.5 L918.6 456.5 L910.3 456.5 L902 456.5 L893.7 456.5 L885.4 456.5 L877.1 456.5 L868.8 456.5 L860.5 456.5 L852.2 456.5 L843.9 456.5 L835.6 456.5 L827.3 456.5 L819 456.5 L810.7 456.5 L802.4 456.5 L794.1 456.5 L785.8 456.5 L777.5 456.5 L769.2 456.5 L760.9 456.5 L752.6 456.5 L744.3 456.5 L736 456.5 L727.7 456.5 L719.4 456.5 L711.1 456.5 L702.8 456.5 L694.5 456.5 L686.2 456.5 L677.9 456.5 L669.6 456.5 L661.3 456.5 L653 456.5 Z" fill="#7EB26D" fill-opacity="0.1" stroke="none"/><path d="M653 405.8 L661.3 405.8 L669.6 405.7 L677.9 405.7 L686.2 405.7 L694.5 405.7 L702.8 405.6 L711.1 405.6 L719.4 405.6 L727.7 405.6 L736 405.5 L744.3 405.5 L752.6 405.5 L760.9 405.4 L769.2 405.4 L777.5 405.4 L785.8 405.4 L794.1 405.3 L802.4 405.3 L810.7 405.3 L819 405.3 L827.3 405.2 L835.6 405.2 L843.9 405.2 L852.2 405.1 L860.5 405.1 L868.8 405.1 L877.1 405.1 L885.4 405 L893.7 405 L902 405 L910.3 405 L918.6 404.9 L926.9 404.9 L935.2 404.9 L943.5 404.9 L951.8 404.8 L960.1 404.8 L968.4 404.8 L976.7 404.7 L985 404.7 L993.3 404.7 L1001.6 404.7 L1009.9 404.6 L1018.2 404.6 L1026.5 404.6 L1034.8 404.6 L1043.1 404.5 L1051.4 404.5 L1059.7 404.5 L1068 404.4 L1076.3 404.4 L1084.6 404.4 L1092.9 404.4 L1101.2 404.3 L1109.5 404.3 L1117.8 404.3 L1126.1 404.3 L1134.4 404.2 L1142.7 404.2 L1142.7 443.1 L1134.4 443.1 L1126.1 443.1 L1117.8 443.1 L1109.5 443.1 L1101.2 443.1 L1092.9 443.1 L1084.6 443.1 L1076.3 443.1 L1068 443.1 L1059.7 443.1 L1051.4 443.1 L1043.1 443.1 L1034.8 443.1 L1026.5 443.1 L1018.2 443.1 L1009.9 443.1 L1001.6 443.1 L993.3 443.1 L985 443.1 L976.7 443.1 L968.4 443.1 L960.1 443.1 L951.8 443.1 L943.5 443.1 L935.2 443.1 L926.9 443.1 L918.6 443.1 L910.3 443.1 L902 443.1 L893.7 443.1 L885.4 443.1 L877.1 443.1 L868.8 443.1 L860.5 443.1 L852.2 443.1 L843.9 443.1 L835.6 443.1 L827.3 443.1 L819 443.1 L810.7 443.1 L802.4 443.1 L794.1 443.1 L785.8 443.1 L777.5 443.1 L769.2 443.1 L760.9 443.1 L752.6 443.1 L744.3 443.1 L736 443.1 L727.7 443.1 L719.4 443.1 L711.1 443.1 L702.8 443.1 L694.5 443.1 L686.2 443.1 L677.9 443.1 L669.6 443.1 L661.3 443.1 L653 443.1 Z" fill="#EAB839" fill-opacity="0.1" stroke="none"/><path d="M653 405.6 L661.3 405.6 L669.6 405.5 L677.9 405.5 L686.2 405.5 L694.5 405.5 L702.8 405.4 L711.1 405.4 L719.4 405.4 L727.7 405.4 L736 405.3 L744.3 405.3 L752.6 405.3 L760.9 405.2 L769.2 405.2 L777.5 405.2 L785.8 405.2 L794.1 405.1 L802.4 405.1 L810.7 405.1 L819 405.1 L827.3 405 L835.6 405 L843.9 405 L852.2 404.9 L860.5 404.9 L868.8 404.9 L877.1 404.9 L885.4 404.8 L893.7 404.8 L902 404.8 L910.3 404.8 L918.6 404.7 L926.9 404.7 L935.2 404.7 L943.5 404.7 L951.8 404.6 L960.1 404.6 L968.4 404.6 L976.7 404.5 L985 404.5 L993.3 404.5 L1001.6 404.5 L1009.9 404.4 L1018.2 404.4 L1026.5 404.4 L1034.8 404.4 L1043.1 404.3 L1051.4 404.3 L1059.7 404.3 L1068 404.2 L1076.3 404.2 L1084.6 404.2 L1092.9 404.2 L1101.2 404.1 L1109.5 404.1 L1117.8 404.1 L1126.1 404.1 L1134.4 404 L1142.7 404 L1142.7 404.2 L1134.4 404.2 L1126.1 404.3 L1117.8 404.3 L1109.5 404.3 L1101.2 404.3 L1092.9 404.4 L1084.6 404.4 L1076.3 404.4 L1068 404.4 L1059.7 404.5 L1051.4 404.5 L1043.1 404.5 L1034.8 404.6 L1026.5 404.6 L1018.2 404.6 L1009.9 404.6 L1001.6 404.7 L993.3 404.7 L985 404.7 L976.7 404.7 L968.4 404.8 L960.1 404.8 L951.8 404.8 L943.5 404.9 L935.2 404.9 L926.9 404.9 L918.6 404.9 L910.3 405 L902 405 L893.7 405 L885.4 405 L877.1 405.1 L868.8 405.1 L860.5 405.1 L852.2 405.1 L843.9 405.2 L835.6 405.2 L827.3 405.2 L819 405.3 L810.7 405.3 L802.4 405.3 L794.1 405.3 L785.8 405.4 L777.5 405.4 L769.2 405.4 L760.9 405.4 L752.6 405.5 L744.3 405.5 L736 405.5 L727.7 405.6 L719.4 405.6 L711.1 405.6 L702.8 405.6 L694.5 405.7 L686.2 405.7 L677.9 405.7 L669.6 405.7 L661.3 405.8 L653 405.8 Z" fill="#6ED0E0" fill-opacity="0.1" stroke="none"/><path d="M653 387.9 L661.3 387.9 L669.6 387.9 L677.9 387.9 L686.2 387.9 L694.5 387.9 L702.8 387.9 L711.1 387.9 L719.4 387.9 L727.7 387.9 L736 387.9 L744.3 387.9 L752.6 387.9 L760.9 387.9 L769.2 387.9 L777.5 387.9 L785.8 387.9 L794.1 387.9 L802.4 387.9 L810.7 387.9 L819 387.9 L827.3 387.9 L835.6 387.9 L843.9 387.9 L852.2 387.9 L860.5 387.9 L868.8 387.9 L877.1 387.9 L885.4 387.9 L893.7 387.9 L902 387.9 L910.3 387.9 L918.6 387.9 L926.9 387.9 L935.2 387.9 L943.5 387.9 L951.8 387.9 L960.1 387.9 L968.4 387.9 L976.7 387.9 L985 387.9 L993.3 387.9 L1001.6 387.9 L1009.9 387.9 L1018.2 387.9 L1026.5 387.9 L1034.8 387.9 L1043.1 387.9 L1051.4 387.9 L1059.7 387.9 L1068 387.9 L1076.3 387.9 L1084.6 387.9 L1092.9 387.9 L1101.2 387.9 L1109.5 387.9 L1117.8 387.9 L1126.1 387.9 L1134.4 387.9 L1142.7 387.9 L1142.7 404 L1134.4 404 L1126.1 404.1 L1117.8 404.1 L1109.5 404.1 L1101.2 404.1 L1092.9 404.2 L1084.6 404.2 L1076.3 404.2 L1068 404.2 L1059.7 404.3 L1051.4 404.3 L1043.1 404.3 L1034.8 404.4 L1026.5 404.4 L1018.2 404.4 L1009.9 404.4 L1001.6 404.5 L993.3 404.5 L985 404.5 L976.7 404.5 L968.4 404.6 L960.1 404.6 L951.8 404.6 L943.5 404.7 L935.2 404.7 L926.9 404.7 L918.6 404.7 L910.3 404.8 L902 404.8 L893.7 404.8 L885.4 404.8 L877.1 404.9 L868.8 404.9 L860.5 404.9 L852.2 404.9 L843.9 405 L835.6 405 L827.3 405 L819 405.1 L810.7 405.1 L802.4 405.1 L794.1 405.1 L785.8 405.2 L777.5 405.2 L769.2 405.2 L760.9 405.2 L752.6 405.3 L744.3 405.3 L736 405.3 L727.7 405.4 L719.4 405.4 L711.1 405.4 L702.8 405.4 L694.5 405.5 L686.2 405.5 L677.9 405.5 L669.6 405.5 L661.3 405.6 L653 405.6 Z" fill="#EF843C" fill-opacity="0.1" stroke="none"/><path d="M653 443.1 L661.3 443.1 L669.6 443.1 L677.9 443.1 L686.2 443.1 L694.5 443.1 L702.8 443.1 L711.1 443.1 L719.4 443.1 L727.7 443.1 L736 443.1 L744.3 443.1 L752.6 443.1 L760.9 443.1 L769.2 443.1 L777.5 443.1 L785.8 443.1 L794.1 443.1 L802.4 443.1 L810.7 443.1 L819 443.1 L827.3 443.1 L835.6 443.1 L843.9 443.1 L852.2 443.1 L860.5 443.1 L868.8 443.1 L877.1 443.1 L885.4 443.1 L893.7 443.1 L902 443.1 L910.3 443.1 L918.6 443.1 L926.9 443.1 L935.2 443.1 L943.5 443.1 L951.8 443.1 L960.1 443.1 L968.4 443.1 L976.7 443.1 L985 443.1 L993.3 443.1 L1001.6 443.1 L1009.9 443.1 L1018.2 443.1 L1026.5 443.1 L1034.8 443.1 L1043.1 443.1 L1051.4 443.1 L1059.7 443.1 L1068 443.1 L1076.3 443.1 L1084.6 443.1 L1092.9 443.1 L1101.2 443.1 L1109.5 443.1 L1117.8 443.1 L1126.1 443.1 L1134.4 443.1 L1142.7 443.1" fill="none" stroke="#7EB26D" stroke-width="1" stroke-linejoin="round"/><path d="M653 405.8 L661.3 405.8 L669.6 405.7 L677.9 405.7 L686.2 405.7 L694.5 405.7 L702.8 405.6 L711.1 405.6 L719.4 405.6 L727.7 405.6 L736 405.5 L744.3 405.5 L752.6 405.5 L760.9 405.4 L769.2 405.4 L777.5 405.4 L785.8 405.4 L794.1 405.3 L802.4 405.3 L810.7 405.3 L819 405.3 L827.3 405.2 L835.6 405.2 L843.9 405.2 L852.2 405.1 L860.5 405.1 L868.8 405.1 L877.1 405.1 L885.4 405 L893.7 405 L902 405 L910.3 405 L918.6 404.9 L926.9 404.9 L935.2 404.9 L943.5 404.9 L951.8 404.8 L960.1 404.8 L968.4 404.8 L976.7 404.7 L985 404.7 L993.3 404.7 L1001.6 404.7 L1009.9 404.6 L1018.2 404.6 L1026.5 404.6 L1034.8 404.6 L1043.1 404.5 L1051.4 404.5 L1059.7 404.5 L1068 404.4 L1076.3 404.4 L1084.6 404.4 L1092.9 404.4 L1101.2 404.3 L1109.5 404.3 L1117.8 404.3 L1126.1 404.3 L1134.4 404.2 L1142.7 404.2" fill="none" stroke="#EAB839" stroke-width="1" stroke-linejoin="round"/><path d="M653 405.6 L661.3 405.6 L669.6 405.5 L677.9 405.5 L686.2 405.5 L694.5 405.5 L702.8 405.4 L711.1 405.4 L719.4 405.4 L727.7 405.4 L736 405.3 L744.3 405.3 L752.6 405.3 L760.9 405.2 L769.2 405.2 L777.5 405.2 L785.8 405.2 L794.1 405.1 L802.4 405.1 L810.7 405.1 L819 405.1 L827.3 405 L835.6 405 L843.9 405 L852.2 404.9 L860.5 404.9 L868.8 404.9 L877.1 404.9 L885.4 404.8 L893.7 404.8 L902 404.8 L910.3 404.8 L918.6 404.7 L926.9 404.7 L935.2 404.7 L943.5 404.7 L951.8 404.6 L960.1 404.6 L968.4 404.6 L976.7 404.5 L985 404.5 L993.3 404.5 L1001.6 404.5 L1009.9 404.4 L1018.2 404.4 L1026.5 404.4 L1034.8 404.4 L1043.1 404.3 L1051.4 404.3 L1059.7 404.3 L1068 404.2 L1076.3 404.2 L1084.6 404.2 L1092.9 404.2 L1101.2 404.1 L1109.5 404.1 L1117.8 404.1 L1126.1 404.1 L1134.4 404 L1142.7 404" fill="none" stroke="#6ED0E0" stroke-width="1" stroke-linejoin="round"/><path d="M653 387.9 L661.3 387.9 L669.6 387.9 L677.9 387.9 L686.2 387.9 L694.5 387.9 L702.8 387.9 L711.1 387.9 L719.4 387.9 L727.7 387.9 L736 387.9 L744.3 387.9 L752.6 387.9 L760.9 387.9 L769.2 387.9 L777.5 387.9 L785.8 387.9 L794.1 387.9 L802.4 387.9 L810.7 387.9 L819 387.9 L827.3 387.9 L835.6 387.9 L843.9 387.9 L852.2 387.9 L860.5 387.9 L868.8 387.9 L877.1 387.9 L885.4 387.9 L893.7 387.9 L902 387.9 L910.3 387.9 L918.6 387.9 L926.9 387.9 L935.2 387.9 L943.5 387.9 L951.8 387.9 L960.1 387.9 L968.4 387.9 L976.7 387.9 L985 387.9 L993.3 387.9 L1001.6 387.9 L1009.9 387.9 L1018.2 387.9 L1026.5 387.9 L1034.8 387.9 L1043.1 387.9 L1051.4 387.9 L1059.7 387.9 L1068 387.9 L1076.3 387.9 L1084.6 387.9 L1092.9 387.9 L1101.2 387.9 L1109.5 387.9 L1117.8 387.9 L1126.1 387.9 L1134.4 387.9 L1142.7 387.9" fill="none" stroke="#EF843C" stroke-width="1" stroke-linejoin="round"/></svg>
<div class="lg" style="left:618px;top:486px;letter-spacing:-0.05px"><span class="li"><i style="background:#7EB26D"></i>Used  Min: 24.6 GB  Max: 24.8 GB  Avg: 24.7 GB</span></div>
<div class="lg" style="left:618px;top:504px;letter-spacing:-0.05px"><span class="li"><i style="background:#EAB839"></i>Cached  Min: 70.1 GB  Max: 72.7 GB  Avg: 71.4 GB</span></div>
<div class="lg" style="left:618px;top:522px;letter-spacing:-0.05px"><span class="li"><i style="background:#6ED0E0"></i>Buffers  Min: 335 MB  Max: 337 MB  Avg: 336 MB</span></div>
<div class="pn" style="left:1188px;top:327px;width:582px;height:220px"></div>
<div class="pt" style="left:1188px;top:333.8px;width:582px">Disk BW</div>
<svg width="1786" height="975"><g stroke="rgba(204,204,220,0.22)" stroke-width="1"><line x1="1249" x2="1745" y1="377.5" y2="377.5" /><line x1="1249" x2="1745" y1="415.5" y2="415.5" /><line x1="1249" x2="1745" y1="453.5" y2="453.5" /><line x1="1249" x2="1745" y1="491.5" y2="491.5" /><line x1="1258.5" x2="1258.5" y1="377" y2="491" /><line x1="1356.5" x2="1356.5" y1="377" y2="491" /><line x1="1454.5" x2="1454.5" y1="377" y2="491" /><line x1="1552.5" x2="1552.5" y1="377" y2="491" /><line x1="1650.5" x2="1650.5" y1="377" y2="491" /></g><g class="ax"><text x="1244.8" y="380.5" text-anchor="end">60 MB/s</text><text x="1244.8" y="418.5" text-anchor="end">40 MB/s</text><text x="1244.8" y="456.5" text-anchor="end">20 MB/s</text><text x="1244.8" y="494.5" text-anchor="end">0 kB/s</text><text x="1258" y="509.9" text-anchor="middle">15:02</text><text x="1356.2" y="509.9" text-anchor="middle">15:04</text><text x="1454.4" y="509.9" text-anchor="middle">15:06</text><text x="1552.7" y="509.9" text-anchor="middle">15:08</text><text x="1650.9" y="509.9" text-anchor="middle">15:10</text></g><path d="M1249 477 L1257.2 470.7 L1265.4 477.7 L1273.6 474.1 L1281.7 472 L1289.9 479.3 L1298.1 472 L1306.3 474.1 L1314.5 477.7 L1322.7 474.3 L1330.8 472 L1339 479 L1347.2 474.1 L1355.4 472 L1363.6 478.6 L1371.8 473.2 L1380 469.1 L1388.1 476.3 L1396.3 477 L1404.5 473.6 L1412.7 477.5 L1420.9 475.9 L1429.1 473 L1437.3 475 L1445.4 470.7 L1453.6 473.2 L1461.8 474.8 L1470 477 L1478.2 470.7 L1486.4 474.3 L1494.5 474.1 L1502.7 470.9 L1510.9 474.1 L1519.1 475.9 L1527.3 470 L1535.5 474.1 L1543.7 473.6 L1551.8 469.8 L1560 463.5 L1568.2 461.9 L1576.4 474.1 L1584.6 475.2 L1592.8 481.5 L1600.9 470.7 L1609.1 468 L1617.3 473.6 L1625.5 472.5 L1633.7 470.7 L1641.9 473.9 L1650.1 470.7 L1658.2 463.9 L1666.4 475.9 L1674.6 469.3 L1682.8 469.6 L1691 475.9 L1699.2 469.8 L1707.3 468.9 L1715.5 472.7 L1723.7 471.4 L1731.9 469.8 L1731.9 491.5 L1723.7 491.5 L1715.5 491.5 L1707.3 491.5 L1699.2 491.5 L1691 491.5 L1682.8 491.5 L1674.6 491.5 L1666.4 491.5 L1658.2 491.5 L1650.1 491.5 L1641.9 491.5 L1633.7 491.5 L1625.5 491.5 L1617.3 491.5 L1609.1 491.5 L1600.9 491.5 L1592.8 491.5 L1584.6 491.5 L1576.4 491.5 L1568.2 491.5 L1560 491.5 L1551.8 491.5 L1543.7 491.5 L1535.5 491.5 L1527.3 491.5 L1519.1 491.5 L1510.9 491.5 L1502.7 491.5 L1494.5 491.5 L1486.4 491.5 L1478.2 491.5 L1470 491.5 L1461.8 491.5 L1453.6 491.5 L1445.4 491.5 L1437.3 491.5 L1429.1 491.5 L1420.9 491.5 L1412.7 491.5 L1404.5 491.5 L1396.3 491.5 L1388.1 491.5 L1380 491.5 L1371.8 491.5 L1363.6 491.5 L1355.4 491.5 L1347.2 491.5 L1339 491.5 L1330.8 491.5 L1322.7 491.5 L1314.5 491.5 L1306.3 491.5 L1298.1 491.5 L1289.9 491.5 L1281.7 491.5 L1273.6 491.5 L1265.4 491.5 L1257.2 491.5 L1249 491.5 Z" fill="#7EB26D" fill-opacity="0.1" stroke="none"/><path d="M1249 431.4 L1257.2 407.8 L1265.4 414.3 L1273.6 434.2 L1281.7 400.3 L1289.9 425.6 L1298.1 406 L1306.3 410 L1314.5 440.2 L1322.7 409.6 L1330.8 400.3 L1339 425.4 L1347.2 417.2 L1355.4 407.8 L1363.6 424.5 L1371.8 435.7 L1380 426.3 L1388.1 388.4 L1396.3 424.9 L1404.5 429.6 L1412.7 394.2 L1420.9 431.4 L1429.1 429.2 L1437.3 415 L1445.4 427.4 L1453.6 426.3 L1461.8 385.2 L1470 438 L1478.2 426.3 L1486.4 417.7 L1494.5 430.8 L1502.7 419.9 L1510.9 427.8 L1519.1 422.9 L1527.3 414.1 L1535.5 432.3 L1543.7 417.2 L1551.8 447.7 L1560 448.4 L1568.2 421.7 L1576.4 408.7 L1584.6 400.3 L1592.8 417.9 L1600.9 442.7 L1609.1 419.9 L1617.3 431 L1625.5 428.1 L1633.7 418.8 L1641.9 429.6 L1650.1 439.1 L1658.2 425.6 L1666.4 437.5 L1674.6 428.5 L1682.8 414.1 L1691 441.6 L1699.2 429.6 L1707.3 426.9 L1715.5 429.6 L1723.7 434.6 L1731.9 436 L1731.9 469.8 L1723.7 471.4 L1715.5 472.7 L1707.3 468.9 L1699.2 469.8 L1691 475.9 L1682.8 469.6 L1674.6 469.3 L1666.4 475.9 L1658.2 463.9 L1650.1 470.7 L1641.9 473.9 L1633.7 470.7 L1625.5 472.5 L1617.3 473.6 L1609.1 468 L1600.9 470.7 L1592.8 481.5 L1584.6 475.2 L1576.4 474.1 L1568.2 461.9 L1560 463.5 L1551.8 469.8 L1543.7 473.6 L1535.5 474.1 L1527.3 470 L1519.1 475.9 L1510.9 474.1 L1502.7 470.9 L1494.5 474.1 L1486.4 474.3 L1478.2 470.7 L1470 477 L1461.8 474.8 L1453.6 473.2 L1445.4 470.7 L1437.3 475 L1429.1 473 L1420.9 475.9 L1412.7 477.5 L1404.5 473.6 L1396.3 477 L1388.1 476.3 L1380 469.1 L1371.8 473.2 L1363.6 478.6 L1355.4 472 L1347.2 474.1 L1339 479 L1330.8 472 L1322.7 474.3 L1314.5 477.7 L1306.3 474.1 L1298.1 472 L1289.9 479.3 L1281.7 472 L1273.6 474.1 L1265.4 477.7 L1257.2 470.7 L1249 477 Z" fill="#EAB839" fill-opacity="0.1" stroke="none"/><path d="M1249 477 L1257.2 470.7 L1265.4 477.7 L1273.6 474.1 L1281.7 472 L1289.9 479.3 L1298.1 472 L1306.3 474.1 L1314.5 477.7 L1322.7 474.3 L1330.8 472 L1339 479 L1347.2 474.1 L1355.4 472 L1363.6 478.6 L1371.8 473.2 L1380 469.1 L1388.1 476.3 L1396.3 477 L1404.5 473.6 L1412.7 477.5 L1420.9 475.9 L1429.1 473 L1437.3 475 L1445.4 470.7 L1453.6 473.2 L1461.8 474.8 L1470 477 L1478.2 470.7 L1486.4 474.3 L1494.5 474.1 L1502.7 470.9 L1510.9 474.1 L1519.1 475.9 L1527.3 470 L1535.5 474.1 L1543.7 473.6 L1551.8 469.8 L1560 463.5 L1568.2 461.9 L1576.4 474.1 L1584.6 475.2 L1592.8 481.5 L1600.9 470.7 L1609.1 468 L1617.3 473.6 L1625.5 472.5 L1633.7 470.7 L1641.9 473.9 L1650.1 470.7 L1658.2 463.9 L1666.4 475.9 L1674.6 469.3 L1682.8 469.6 L1691 475.9 L1699.2 469.8 L1707.3 468.9 L1715.5 472.7 L1723.7 471.4 L1731.9 469.8" fill="none" stroke="#7EB26D" stroke-width="1" stroke-linejoin="round"/><path d="M1249 431.4 L1257.2 407.8 L1265.4 414.3 L1273.6 434.2 L1281.7 400.3 L1289.9 425.6 L1298.1 406 L1306.3 410 L1314.5 440.2 L1322.7 409.6 L1330.8 400.3 L1339 425.4 L1347.2 417.2 L1355.4 407.8 L1363.6 424.5 L1371.8 435.7 L1380 426.3 L1388.1 388.4 L1396.3 424.9 L1404.5 429.6 L1412.7 394.2 L1420.9 431.4 L1429.1 429.2 L1437.3 415 L1445.4 427.4 L1453.6 426.3 L1461.8 385.2 L1470 438 L1478.2 426.3 L1486.4 417.7 L1494.5 430.8 L1502.7 419.9 L1510.9 427.8 L1519.1 422.9 L1527.3 414.1 L1535.5 432.3 L1543.7 417.2 L1551.8 447.7 L1560 448.4 L1568.2 421.7 L1576.4 408.7 L1584.6 400.3 L1592.8 417.9 L1600.9 442.7 L1609.1 419.9 L1617.3 431 L1625.5 428.1 L1633.7 418.8 L1641.9 429.6 L1650.1 439.1 L1658.2 425.6 L1666.4 437.5 L1674.6 428.5 L1682.8 414.1 L1691 441.6 L1699.2 429.6 L1707.3 426.9 L1715.5 429.6 L1723.7 434.6 L1731.9 436" fill="none" stroke="#EAB839" stroke-width="1" stroke-linejoin="round"/></svg>
<div class="lg" style="left:1207px;top:521px;letter-spacing:0.1px"><span class="li"><i style="background:#7EB26D"></i>Read  Max: 15.3 MB/s  Avg: 9.35 MB/s</span><span class="li"><i style="background:#EAB839"></i>Write  Max: 47.0 MB/s  Avg: 26.4 MB/s</span></div>
<div class="pn" style="left:599px;top:555px;width:582px;height:410px"></div>
<div class="pt" style="left:599px;top:561.8px;width:582px">Per Disk Throughput</div>
<svg width="1786" height="975"><g stroke="rgba(204,204,220,0.22)" stroke-width="1"><line x1="658" x2="1156" y1="605.5" y2="605.5" /><line x1="658" x2="1156" y1="648.5" y2="648.5" /><line x1="658" x2="1156" y1="691.5" y2="691.5" /><line x1="658" x2="1156" y1="733.5" y2="733.5" /><line x1="658" x2="1156" y1="776.5" y2="776.5" /><line x1="658" x2="1156" y1="819.5" y2="819.5" /><line x1="667.5" x2="667.5" y1="605" y2="819" /><line x1="765.5" x2="765.5" y1="605" y2="819" /><line x1="864.5" x2="864.5" y1="605" y2="819" /><line x1="962.5" x2="962.5" y1="605" y2="819" /><line x1="1061.5" x2="1061.5" y1="605" y2="819" /></g><g class="ax"><text x="653.8" y="608.5" text-anchor="end">200</text><text x="653.8" y="651.3" text-anchor="end">0</text><text x="653.8" y="694.1" text-anchor="end">-200</text><text x="653.8" y="736.9" text-anchor="end">-400</text><text x="653.8" y="779.7" text-anchor="end">-600</text><text x="653.8" y="822.5" text-anchor="end">-800</text><text x="667" y="837.9" text-anchor="middle">15:02</text><text x="765.7" y="837.9" text-anchor="middle">15:04</text><text x="864.3" y="837.9" text-anchor="middle">15:06</text><text x="962.9" y="837.9" text-anchor="middle">15:08</text><text x="1061.5" y="837.9" text-anchor="middle">15:10</text></g><clipPath id="cp6"><rect x="658" y="605.5" width="498" height="214.0"/></clipPath><g clip-path="url(#cp6)"><path d="M658 649.8 L666.2 708.7 L674.4 648.4 L682.7 733.9 L690.9 649.2 L699.1 733.4 L707.3 648.9 L715.5 701.5 L723.7 649.9 L732 728 L740.2 648.6 L748.4 736 L756.6 649.3 L764.8 719.1 L773 648.8 L781.3 712.2 L789.5 650.1 L797.7 745.6 L805.9 650.6 L814.1 738.2 L822.4 650.8 L830.6 695.7 L838.8 650.6 L847 694.7 L855.2 650.7 L863.4 705.6 L871.7 650.6 L879.9 754.7 L888.1 650.4 L896.3 713.9 L904.5 649.4 L912.8 746.4 L921 648.3 L929.2 747.8 L937.4 649.3 L945.6 749.5 L953.8 648.4 L962.1 691.3 L970.3 648.6 L978.5 692.7 L986.7 650.2 L994.9 763.8 L1003.1 648.6 L1011.4 721.6 L1019.6 649.3 L1027.8 719.4 L1036 650.5 L1044.2 746.8 L1052.5 650.4 L1060.7 691.4 L1068.9 648.8 L1077.1 696.8 L1085.3 650.6 L1093.5 745.5 L1101.8 648.6 L1110 766.5 L1118.2 649 L1126.4 705.3 L1134.6 648.8 L1142.9 746.1 L1142.9 648.3 L1134.6 648.3 L1126.4 648.3 L1118.2 648.3 L1110 648.3 L1101.8 648.3 L1093.5 648.3 L1085.3 648.3 L1077.1 648.3 L1068.9 648.3 L1060.7 648.3 L1052.5 648.3 L1044.2 648.3 L1036 648.3 L1027.8 648.3 L1019.6 648.3 L1011.4 648.3 L1003.1 648.3 L994.9 648.3 L986.7 648.3 L978.5 648.3 L970.3 648.3 L962.1 648.3 L953.8 648.3 L945.6 648.3 L937.4 648.3 L929.2 648.3 L921 648.3 L912.8 648.3 L904.5 648.3 L896.3 648.3 L888.1 648.3 L879.9 648.3 L871.7 648.3 L863.4 648.3 L855.2 648.3 L847 648.3 L838.8 648.3 L830.6 648.3 L822.4 648.3 L814.1 648.3 L805.9 648.3 L797.7 648.3 L789.5 648.3 L781.3 648.3 L773 648.3 L764.8 648.3 L756.6 648.3 L748.4 648.3 L740.2 648.3 L732 648.3 L723.7 648.3 L715.5 648.3 L707.3 648.3 L699.1 648.3 L690.9 648.3 L682.7 648.3 L674.4 648.3 L666.2 648.3 L658 648.3 Z" fill="#7EB26D" fill-opacity="0.05" stroke="none"/><path d="M658 693.7 L666.2 649.3 L674.4 709 L682.7 649.8 L690.9 760.9 L699.1 648.4 L707.3 742.8 L715.5 648.7 L723.7 756.4 L732 649.7 L740.2 712.9 L748.4 649 L756.6 718.1 L764.8 649.4 L773 736.1 L781.3 648.6 L789.5 697.7 L797.7 649.5 L805.9 711.4 L814.1 650.5 L822.4 710.9 L830.6 649.2 L838.8 687.5 L847 649.5 L855.2 718.6 L863.4 649.5 L871.7 732.8 L879.9 650.8 L888.1 694.2 L896.3 648.7 L904.5 737.9 L912.8 648.5 L921 721.5 L929.2 650.5 L937.4 743.1 L945.6 648.4 L953.8 700.3 L962.1 648.8 L970.3 687.1 L978.5 649.5 L986.7 713.9 L994.9 756.4 L1003.1 674.5 L1011.4 648.5 L1019.6 692.3 L1027.8 649 L1036 754.6 L1044.2 650.1 L1052.5 689.2 L1060.7 650.7 L1068.9 700.6 L1077.1 650.2 L1085.3 726.6 L1093.5 650.1 L1101.8 687.7 L1110 649.7 L1118.2 749.1 L1126.4 649.8 L1134.6 695.1 L1142.9 649.4 L1142.9 648.3 L1134.6 648.3 L1126.4 648.3 L1118.2 648.3 L1110 648.3 L1101.8 648.3 L1093.5 648.3 L1085.3 648.3 L1077.1 648.3 L1068.9 648.3 L1060.7 648.3 L1052.5 648.3 L1044.2 648.3 L1036 648.3 L1027.8 648.3 L1019.6 648.3 L1011.4 648.3 L1003.1 648.3 L994.9 648.3 L986.7 648.3 L978.5 648.3 L970.3 648.3 L962.1 648.3 L953.8 648.3 L945.6 648.3 L937.4 648.3 L929.2 648.3 L921 648.3 L912.8 648.3 L904.5 648.3 L896.3 648.3 L888.1 648.3 L879.9 648.3 L871.7 648.3 L863.4 648.3 L855.2 648.3 L847 648.3 L838.8 648.3 L830.6 648.3 L822.4 648.3 L814.1 648.3 L805.9 648.3 L797.7 648.3 L789.5 648.3 L781.3 648.3 L773 648.3 L764.8 648.3 L756.6 648.3 L748.4 648.3 L740.2 648.3 L732 648.3 L723.7 648.3 L715.5 648.3 L707.3 648.3 L699.1 648.3 L690.9 648.3 L682.7 648.3 L674.4 648.3 L666.2 648.3 L658 648.3 Z" fill="#EAB839" fill-opacity="0.05" stroke="none"/><path d="M658 650 L666.2 695.6 L674.4 650.4 L682.7 742 L690.9 648.9 L699.1 697.4 L707.3 649.4 L715.5 711.8 L723.7 650.1 L732 707.2 L740.2 650.3 L748.4 736.7 L756.6 648.5 L764.8 746.4 L773 649.8 L781.3 712.8 L789.5 649.4 L797.7 757 L805.9 649.8 L814.1 710.2 L822.4 650 L830.6 716.2 L838.8 649.8 L847 726.5 L855.2 649.6 L863.4 718.4 L871.7 648.8 L879.9 737.2 L888.1 650.5 L896.3 691.5 L904.5 649.4 L912.8 732.5 L921 649 L929.2 695.4 L937.4 649.8 L945.6 686.9 L953.8 648.5 L962.1 693.3 L970.3 649 L978.5 674 L986.7 650 L994.9 780.8 L1003.1 649.1 L1011.4 689.7 L1019.6 649.1 L1027.8 705.7 L1036 649.8 L1044.2 718.7 L1052.5 649.6 L1060.7 760.5 L1068.9 649.2 L1077.1 721.3 L1085.3 648.3 L1093.5 689.2 L1101.8 648.5 L1110 741.5 L1118.2 648.9 L1126.4 732.4 L1134.6 648.5 L1142.9 735.1 L1142.9 648.3 L1134.6 648.3 L1126.4 648.3 L1118.2 648.3 L1110 648.3 L1101.8 648.3 L1093.5 648.3 L1085.3 648.3 L1077.1 648.3 L1068.9 648.3 L1060.7 648.3 L1052.5 648.3 L1044.2 648.3 L1036 648.3 L1027.8 648.3 L1019.6 648.3 L1011.4 648.3 L1003.1 648.3 L994.9 648.3 L986.7 648.3 L978.5 648.3 L970.3 648.3 L962.1 648.3 L953.8 648.3 L945.6 648.3 L937.4 648.3 L929.2 648.3 L921 648.3 L912.8 648.3 L904.5 648.3 L896.3 648.3 L888.1 648.3 L879.9 648.3 L871.7 648.3 L863.4 648.3 L855.2 648.3 L847 648.3 L838.8 648.3 L830.6 648.3 L822.4 648.3 L814.1 648.3 L805.9 648.3 L797.7 648.3 L789.5 648.3 L781.3 648.3 L773 648.3 L764.8 648.3 L756.6 648.3 L748.4 648.3 L740.2 648.3 L732 648.3 L723.7 648.3 L715.5 648.3 L707.3 648.3 L699.1 648.3 L690.9 648.3 L682.7 648.3 L674.4 648.3 L666.2 648.3 L658 648.3 Z" fill="#6ED0E0" fill-opacity="0.05" stroke="none"/><path d="M658 695.9 L666.2 648.9 L674.4 742.2 L682.7 649.8 L690.9 696.4 L699.1 650.1 L707.3 690.5 L715.5 650.5 L723.7 746.6 L732 649.9 L740.2 749.4 L748.4 649.1 L756.6 694.7 L764.8 650.4 L773 692.9 L781.3 649.3 L789.5 743.2 L797.7 650.1 L805.9 755.6 L814.1 649.2 L822.4 714.4 L830.6 650.6 L838.8 734.3 L847 650.1 L855.2 709.7 L863.4 650.2 L871.7 739.1 L879.9 649.2 L888.1 726.3 L896.3 650.6 L904.5 686.8 L912.8 649.5 L921 699.3 L929.2 649.5 L937.4 748.6 L945.6 649.8 L953.8 690.8 L962.1 648.5 L970.3 689.5 L978.5 649.4 L986.7 718.1 L994.9 759.9 L1003.1 696.6 L1011.4 650.2 L1019.6 723.7 L1027.8 649.2 L1036 706.3 L1044.2 650 L1052.5 711.1 L1060.7 649.4 L1068.9 728.1 L1077.1 649 L1085.3 749.7 L1093.5 650.2 L1101.8 704.7 L1110 650.2 L1118.2 739.6 L1126.4 648.8 L1134.6 733.1 L1142.9 649.3 L1142.9 648.3 L1134.6 648.3 L1126.4 648.3 L1118.2 648.3 L1110 648.3 L1101.8 648.3 L1093.5 648.3 L1085.3 648.3 L1077.1 648.3 L1068.9 648.3 L1060.7 648.3 L1052.5 648.3 L1044.2 648.3 L1036 648.3 L1027.8 648.3 L1019.6 648.3 L1011.4 648.3 L1003.1 648.3 L994.9 648.3 L986.7 648.3 L978.5 648.3 L970.3 648.3 L962.1 648.3 L953.8 648.3 L945.6 648.3 L937.4 648.3 L929.2 648.3 L921 648.3 L912.8 648.3 L904.5 648.3 L896.3 648.3 L888.1 648.3 L879.9 648.3 L871.7 648.3 L863.4 648.3 L855.2 648.3 L847 648.3 L838.8 648.3 L830.6 648.3 L822.4 648.3 L814.1 648.3 L805.9 648.3 L797.7 648.3 L789.5 648.3 L781.3 648.3 L773 648.3 L764.8 648.3 L756.6 648.3 L748.4 648.3 L740.2 648.3 L732 648.3 L723.7 648.3 L715.5 648.3 L707.3 648.3 L699.1 648.3 L690.9 648.3 L682.7 648.3 L674.4 648.3 L666.2 648.3 L658 648.3 Z" fill="#EF843C" fill-opacity="0.05" stroke="none"/><path d="M658 649.5 L666.2 728.5 L674.4 650.8 L682.7 694 L690.9 650.7 L699.1 729 L707.3 650.5 L715.5 688.8 L723.7 649.9 L732 724.3 L740.2 649.9 L748.4 694.9 L756.6 649 L764.8 746.6 L773 649.5 L781.3 735.3 L789.5 649.6 L797.7 697.2 L805.9 650.3 L814.1 765 L822.4 648.3 L830.6 723.1 L838.8 648.5 L847 713.9 L855.2 649.9 L863.4 707 L871.7 649.2 L879.9 744.4 L888.1 648.5 L896.3 755.4 L904.5 650.3 L912.8 694.2 L921 650.5 L929.2 724.7 L937.4 650.2 L945.6 739.8 L953.8 649 L962.1 674.9 L970.3 649.4 L978.5 696 L986.7 648.8 L994.9 761.6 L1003.1 648.6 L1011.4 736 L1019.6 650.8 L1027.8 716.1 L1036 650.4 L1044.2 700.1 L1052.5 649.4 L1060.7 763.1 L1068.9 649.7 L1077.1 706.3 L1085.3 648.8 L1093.5 757 L1101.8 650.6 L1110 718.9 L1118.2 648.9 L1126.4 728.2 L1134.6 650.6 L1142.9 690.7 L1142.9 648.3 L1134.6 648.3 L1126.4 648.3 L1118.2 648.3 L1110 648.3 L1101.8 648.3 L1093.5 648.3 L1085.3 648.3 L1077.1 648.3 L1068.9 648.3 L1060.7 648.3 L1052.5 648.3 L1044.2 648.3 L1036 648.3 L1027.8 648.3 L1019.6 648.3 L1011.4 648.3 L1003.1 648.3 L994.9 648.3 L986.7 648.3 L978.5 648.3 L970.3 648.3 L962.1 648.3 L953.8 648.3 L945.6 648.3 L937.4 648.3 L929.2 648.3 L921 648.3 L912.8 648.3 L904.5 648.3 L896.3 648.3 L888.1 648.3 L879.9 648.3 L871.7 648.3 L863.4 648.3 L855.2 648.3 L847 648.3 L838.8 648.3 L830.6 648.3 L822.4 648.3 L814.1 648.3 L805.9 648.3 L797.7 648.3 L789.5 648.3 L781.3 648.3 L773 648.3 L764.8 648.3 L756.6 648.3 L748.4 648.3 L740.2 648.3 L732 648.3 L723.7 648.3 L715.5 648.3 L707.3 648.3 L699.1 648.3 L690.9 648.3 L682.7 648.3 L674.4 648.3 L666.2 648.3 L658 648.3 Z" fill="#E24D42" fill-opacity="0.05" stroke="none"/><path d="M658 739.6 L666.2 648.5 L674.4 697.9 L682.7 648.4 L690.9 781 L699.1 650.6 L707.3 741.8 L715.5 649.7 L723.7 798.1 L732 649.7 L740.2 752.6 L748.4 648.9 L756.6 767.6 L764.8 649.8 L773 734.4 L781.3 648.9 L789.5 743.7 L797.7 649 L805.9 694.9 L814.1 650.6 L822.4 738.1 L830.6 649.8 L838.8 694.1 L847 649.4 L855.2 766.9 L863.4 648.4 L871.7 800.2 L879.9 650.4 L888.1 739.3 L896.3 649.5 L904.5 731.7 L912.8 650.4 L921 785.3 L929.2 649.8 L937.4 690.8 L945.6 649.1 L953.8 667.6 L962.1 648.3 L970.3 673.8 L978.5 649.4 L986.7 711.5 L994.9 796 L1003.1 698.9 L1011.4 648.9 L1019.6 789.5 L1027.8 648.8 L1036 734.3 L1044.2 649.8 L1052.5 721.9 L1060.7 648.7 L1068.9 796 L1077.1 648.8 L1085.3 729.9 L1093.5 649.3 L1101.8 783.1 L1110 650.7 L1118.2 720.6 L1126.4 650.1 L1134.6 699.4 L1142.9 649.8 L1142.9 648.3 L1134.6 648.3 L1126.4 648.3 L1118.2 648.3 L1110 648.3 L1101.8 648.3 L1093.5 648.3 L1085.3 648.3 L1077.1 648.3 L1068.9 648.3 L1060.7 648.3 L1052.5 648.3 L1044.2 648.3 L1036 648.3 L1027.8 648.3 L1019.6 648.3 L1011.4 648.3 L1003.1 648.3 L994.9 648.3 L986.7 648.3 L978.5 648.3 L970.3 648.3 L962.1 648.3 L953.8 648.3 L945.6 648.3 L937.4 648.3 L929.2 648.3 L921 648.3 L912.8 648.3 L904.5 648.3 L896.3 648.3 L888.1 648.3 L879.9 648.3 L871.7 648.3 L863.4 648.3 L855.2 648.3 L847 648.3 L838.8 648.3 L830.6 648.3 L822.4 648.3 L814.1 648.3 L805.9 648.3 L797.7 648.3 L789.5 648.3 L781.3 648.3 L773 648.3 L764.8 648.3 L756.6 648.3 L748.4 648.3 L740.2 648.3 L732 648.3 L723.7 648.3 L715.5 648.3 L707.3 648.3 L699.1 648.3 L690.9 648.3 L682.7 648.3 L674.4 648.3 L666.2 648.3 L658 648.3 Z" fill="#1F78C1" fill-opacity="0.05" stroke="none"/><path d="M658 630.3 L666.2 623.5 L674.4 643.8 L682.7 627 L690.9 624.1 L699.1 638.3 L707.3 626.7 L715.5 627.5 L723.7 632.7 L732 628.4 L740.2 626.2 L748.4 634 L756.6 629.7 L764.8 625.3 L773 634.6 L781.3 628 L789.5 621.1 L797.7 631.5 L805.9 631.4 L814.1 625.5 L822.4 633.3 L830.6 630 L838.8 625.7 L847 628 L855.2 624.4 L863.4 625.3 L871.7 629.1 L879.9 630.9 L888.1 625.5 L896.3 627.8 L904.5 627.2 L912.8 625.1 L921 628.1 L929.2 630.6 L937.4 622.3 L945.6 627.6 L953.8 645 L962.1 644.5 L970.3 614.2 L978.5 613.2 L986.7 626.8 L994.9 627.8 L1003.1 637 L1011.4 621.4 L1019.6 618.5 L1027.8 626.6 L1036 626.9 L1044.2 622.6 L1052.5 628.2 L1060.7 623 L1068.9 616.7 L1077.1 630.8 L1085.3 621.4 L1093.5 622.2 L1101.8 646.1 L1110 622.1 L1118.2 620.7 L1126.4 624.5 L1134.6 623.8 L1142.9 622.3 L1142.9 648.3 L1134.6 648.3 L1126.4 648.3 L1118.2 648.3 L1110 648.3 L1101.8 648.3 L1093.5 648.3 L1085.3 648.3 L1077.1 648.3 L1068.9 648.3 L1060.7 648.3 L1052.5 648.3 L1044.2 648.3 L1036 648.3 L1027.8 648.3 L1019.6 648.3 L1011.4 648.3 L1003.1 648.3 L994.9 648.3 L986.7 648.3 L978.5 648.3 L970.3 648.3 L962.1 648.3 L953.8 648.3 L945.6 648.3 L937.4 648.3 L929.2 648.3 L921 648.3 L912.8 648.3 L904.5 648.3 L896.3 648.3 L888.1 648.3 L879.9 648.3 L871.7 648.3 L863.4 648.3 L855.2 648.3 L847 648.3 L838.8 648.3 L830.6 648.3 L822.4 648.3 L814.1 648.3 L805.9 648.3 L797.7 648.3 L789.5 648.3 L781.3 648.3 L773 648.3 L764.8 648.3 L756.6 648.3 L748.4 648.3 L740.2 648.3 L732 648.3 L723.7 648.3 L715.5 648.3 L707.3 648.3 L699.1 648.3 L690.9 648.3 L682.7 648.3 L674.4 648.3 L666.2 648.3 L658 648.3 Z" fill="#BA43A9" fill-opacity="0.1" stroke="none"/><path d="M658 648 L666.2 623.9 L674.4 632.6 L682.7 626.8 L690.9 624.2 L699.1 635.2 L707.3 625.7 L715.5 627.8 L723.7 633.3 L732 627.5 L740.2 624.6 L748.4 635.5 L756.6 629 L764.8 625.6 L773 634.4 L781.3 628.7 L789.5 621.2 L797.7 631.2 L805.9 631.7 L814.1 625.4 L822.4 632.5 L830.6 631.5 L838.8 625.3 L847 629.5 L855.2 623.1 L863.4 624.8 L871.7 627.4 L879.9 632 L888.1 625.2 L896.3 643.3 L904.5 629.4 L912.8 625.3 L921 626.6 L929.2 630 L937.4 622.7 L945.6 627.7 L953.8 626.4 L962.1 621.8 L970.3 613.1 L978.5 611.2 L986.7 628.2 L994.9 629.1 L1003.1 638.3 L1011.4 621.4 L1019.6 619.1 L1027.8 627.7 L1036 625.1 L1044.2 622.6 L1052.5 628.5 L1060.7 623.1 L1068.9 616.7 L1077.1 629.2 L1085.3 623.3 L1093.5 644.9 L1101.8 629 L1110 622.2 L1118.2 620.2 L1126.4 624.5 L1134.6 623.2 L1142.9 621.3 L1142.9 648.3 L1134.6 648.3 L1126.4 648.3 L1118.2 648.3 L1110 648.3 L1101.8 648.3 L1093.5 648.3 L1085.3 648.3 L1077.1 648.3 L1068.9 648.3 L1060.7 648.3 L1052.5 648.3 L1044.2 648.3 L1036 648.3 L1027.8 648.3 L1019.6 648.3 L1011.4 648.3 L1003.1 648.3 L994.9 648.3 L986.7 648.3 L978.5 648.3 L970.3 648.3 L962.1 648.3 L953.8 648.3 L945.6 648.3 L937.4 648.3 L929.2 648.3 L921 648.3 L912.8 648.3 L904.5 648.3 L896.3 648.3 L888.1 648.3 L879.9 648.3 L871.7 648.3 L863.4 648.3 L855.2 648.3 L847 648.3 L838.8 648.3 L830.6 648.3 L822.4 648.3 L814.1 648.3 L805.9 648.3 L797.7 648.3 L789.5 648.3 L781.3 648.3 L773 648.3 L764.8 648.3 L756.6 648.3 L748.4 648.3 L740.2 648.3 L732 648.3 L723.7 648.3 L715.5 648.3 L707.3 648.3 L699.1 648.3 L690.9 648.3 L682.7 648.3 L674.4 648.3 L666.2 648.3 L658 648.3 Z" fill="#705DA0" fill-opacity="0.1" stroke="none"/><path d="M658 633.4 L666.2 623.3 L674.4 632.8 L682.7 626.6 L690.9 624.7 L699.1 635.4 L707.3 625.2 L715.5 627.8 L723.7 632.1 L732 627.6 L740.2 626 L748.4 634.5 L756.6 628.2 L764.8 625.8 L773 633.6 L781.3 627.9 L789.5 620.7 L797.7 631.8 L805.9 632 L814.1 625.8 L822.4 633.6 L830.6 631.3 L838.8 625.5 L847 627.4 L855.2 624.5 L863.4 625.7 L871.7 627.8 L879.9 647.5 L888.1 622.8 L896.3 627.6 L904.5 643.8 L912.8 623.3 L921 626.8 L929.2 631.2 L937.4 644.2 L945.6 627.4 L953.8 626.5 L962.1 621.9 L970.3 614 L978.5 611.3 L986.7 625.8 L994.9 628.6 L1003.1 636.2 L1011.4 622.6 L1019.6 619.1 L1027.8 627.4 L1036 625.6 L1044.2 622.1 L1052.5 627.1 L1060.7 624.8 L1068.9 616.3 L1077.1 628.9 L1085.3 623 L1093.5 622.5 L1101.8 630.6 L1110 622.6 L1118.2 619.4 L1126.4 625.9 L1134.6 623.9 L1142.9 624.2 L1142.9 648.3 L1134.6 648.3 L1126.4 648.3 L1118.2 648.3 L1110 648.3 L1101.8 648.3 L1093.5 648.3 L1085.3 648.3 L1077.1 648.3 L1068.9 648.3 L1060.7 648.3 L1052.5 648.3 L1044.2 648.3 L1036 648.3 L1027.8 648.3 L1019.6 648.3 L1011.4 648.3 L1003.1 648.3 L994.9 648.3 L986.7 648.3 L978.5 648.3 L970.3 648.3 L962.1 648.3 L953.8 648.3 L945.6 648.3 L937.4 648.3 L929.2 648.3 L921 648.3 L912.8 648.3 L904.5 648.3 L896.3 648.3 L888.1 648.3 L879.9 648.3 L871.7 648.3 L863.4 648.3 L855.2 648.3 L847 648.3 L838.8 648.3 L830.6 648.3 L822.4 648.3 L814.1 648.3 L805.9 648.3 L797.7 648.3 L789.5 648.3 L781.3 648.3 L773 648.3 L764.8 648.3 L756.6 648.3 L748.4 648.3 L740.2 648.3 L732 648.3 L723.7 648.3 L715.5 648.3 L707.3 648.3 L699.1 648.3 L690.9 648.3 L682.7 648.3 L674.4 648.3 L666.2 648.3 L658 648.3 Z" fill="#508642" fill-opacity="0.1" stroke="none"/><path d="M658 632.3 L666.2 623.2 L674.4 631.7 L682.7 626.9 L690.9 624.2 L699.1 635.1 L707.3 627.3 L715.5 630.3 L723.7 634.1 L732 627.7 L740.2 626.3 L748.4 633.4 L756.6 627.6 L764.8 628.1 L773 633.4 L781.3 628.7 L789.5 621.3 L797.7 631 L805.9 631.6 L814.1 627 L822.4 631.8 L830.6 631.9 L838.8 624.9 L847 627.8 L855.2 623.1 L863.4 625.4 L871.7 628.4 L879.9 630.8 L888.1 623.2 L896.3 628.9 L904.5 627.2 L912.8 622.9 L921 627.8 L929.2 631.3 L937.4 623 L945.6 626.8 L953.8 626.9 L962.1 623.1 L970.3 613.2 L978.5 613 L986.7 626.3 L994.9 628 L1003.1 636.5 L1011.4 623.2 L1019.6 619.4 L1027.8 627.8 L1036 624.6 L1044.2 622.4 L1052.5 627.3 L1060.7 624.5 L1068.9 615.3 L1077.1 629.8 L1085.3 623.1 L1093.5 622.1 L1101.8 628.8 L1110 623.1 L1118.2 619.2 L1126.4 624.5 L1134.6 622.9 L1142.9 622.5 L1142.9 648.3 L1134.6 648.3 L1126.4 648.3 L1118.2 648.3 L1110 648.3 L1101.8 648.3 L1093.5 648.3 L1085.3 648.3 L1077.1 648.3 L1068.9 648.3 L1060.7 648.3 L1052.5 648.3 L1044.2 648.3 L1036 648.3 L1027.8 648.3 L1019.6 648.3 L1011.4 648.3 L1003.1 648.3 L994.9 648.3 L986.7 648.3 L978.5 648.3 L970.3 648.3 L962.1 648.3 L953.8 648.3 L945.6 648.3 L937.4 648.3 L929.2 648.3 L921 648.3 L912.8 648.3 L904.5 648.3 L896.3 648.3 L888.1 648.3 L879.9 648.3 L871.7 648.3 L863.4 648.3 L855.2 648.3 L847 648.3 L838.8 648.3 L830.6 648.3 L822.4 648.3 L814.1 648.3 L805.9 648.3 L797.7 648.3 L789.5 648.3 L781.3 648.3 L773 648.3 L764.8 648.3 L756.6 648.3 L748.4 648.3 L740.2 648.3 L732 648.3 L723.7 648.3 L715.5 648.3 L707.3 648.3 L699.1 648.3 L690.9 648.3 L682.7 648.3 L674.4 648.3 L666.2 648.3 L658 648.3 Z" fill="#CCA300" fill-opacity="0.1" stroke="none"/><path d="M658 632.3 L666.2 622.4 L674.4 632.5 L682.7 627.3 L690.9 624 L699.1 636.1 L707.3 626.7 L715.5 628.3 L723.7 632.3 L732 627.6 L740.2 625.9 L748.4 633.5 L756.6 627.3 L764.8 625.2 L773 634.4 L781.3 627 L789.5 623 L797.7 632.8 L805.9 631.7 L814.1 626.3 L822.4 633.9 L830.6 629.3 L838.8 626.3 L847 627.4 L855.2 624.2 L863.4 624.6 L871.7 630.2 L879.9 632.1 L888.1 623.2 L896.3 629 L904.5 626.7 L912.8 623.3 L921 626.9 L929.2 631.9 L937.4 623 L945.6 627.7 L953.8 626.4 L962.1 622.4 L970.3 613.8 L978.5 611.9 L986.7 626 L994.9 628.1 L1003.1 636.9 L1011.4 622.5 L1019.6 619.9 L1027.8 627.2 L1036 624.3 L1044.2 623.2 L1052.5 626.6 L1060.7 624 L1068.9 647.2 L1077.1 629.2 L1085.3 622.2 L1093.5 622.4 L1101.8 629.3 L1110 647.7 L1118.2 619.6 L1126.4 645.9 L1134.6 624.4 L1142.9 622.4 L1142.9 648.3 L1134.6 648.3 L1126.4 648.3 L1118.2 648.3 L1110 648.3 L1101.8 648.3 L1093.5 648.3 L1085.3 648.3 L1077.1 648.3 L1068.9 648.3 L1060.7 648.3 L1052.5 648.3 L1044.2 648.3 L1036 648.3 L1027.8 648.3 L1019.6 648.3 L1011.4 648.3 L1003.1 648.3 L994.9 648.3 L986.7 648.3 L978.5 648.3 L970.3 648.3 L962.1 648.3 L953.8 648.3 L945.6 648.3 L937.4 648.3 L929.2 648.3 L921 648.3 L912.8 648.3 L904.5 648.3 L896.3 648.3 L888.1 648.3 L879.9 648.3 L871.7 648.3 L863.4 648.3 L855.2 648.3 L847 648.3 L838.8 648.3 L830.6 648.3 L822.4 648.3 L814.1 648.3 L805.9 648.3 L797.7 648.3 L789.5 648.3 L781.3 648.3 L773 648.3 L764.8 648.3 L756.6 648.3 L748.4 648.3 L740.2 648.3 L732 648.3 L723.7 648.3 L715.5 648.3 L707.3 648.3 L699.1 648.3 L690.9 648.3 L682.7 648.3 L674.4 648.3 L666.2 648.3 L658 648.3 Z" fill="#447EBC" fill-opacity="0.1" stroke="none"/><path d="M658 630.4 L666.2 622 L674.4 632.9 L682.7 627.4 L690.9 624 L699.1 634.6 L707.3 625.2 L715.5 629.5 L723.7 632 L732 628.1 L740.2 625.1 L748.4 634 L756.6 648.1 L764.8 625.2 L773 633.3 L781.3 626.9 L789.5 621.4 L797.7 630.7 L805.9 631.7 L814.1 646.7 L822.4 634.1 L830.6 631.2 L838.8 625.2 L847 627.7 L855.2 624 L863.4 626.9 L871.7 627.5 L879.9 633.2 L888.1 623.6 L896.3 628.2 L904.5 627.6 L912.8 622.9 L921 627.3 L929.2 630.8 L937.4 645.8 L945.6 628 L953.8 626.6 L962.1 621.8 L970.3 614.6 L978.5 612.9 L986.7 627.4 L994.9 629.1 L1003.1 637.3 L1011.4 621.8 L1019.6 618.9 L1027.8 626.6 L1036 624.3 L1044.2 622.3 L1052.5 626.5 L1060.7 622.9 L1068.9 614.7 L1077.1 630.3 L1085.3 623.1 L1093.5 622.7 L1101.8 628.9 L1110 622.3 L1118.2 622.2 L1126.4 624.7 L1134.6 624 L1142.9 622 L1142.9 648.3 L1134.6 648.3 L1126.4 648.3 L1118.2 648.3 L1110 648.3 L1101.8 648.3 L1093.5 648.3 L1085.3 648.3 L1077.1 648.3 L1068.9 648.3 L1060.7 648.3 L1052.5 648.3 L1044.2 648.3 L1036 648.3 L1027.8 648.3 L1019.6 648.3 L1011.4 648.3 L1003.1 648.3 L994.9 648.3 L986.7 648.3 L978.5 648.3 L970.3 648.3 L962.1 648.3 L953.8 648.3 L945.6 648.3 L937.4 648.3 L929.2 648.3 L921 648.3 L912.8 648.3 L904.5 648.3 L896.3 648.3 L888.1 648.3 L879.9 648.3 L871.7 648.3 L863.4 648.3 L855.2 648.3 L847 648.3 L838.8 648.3 L830.6 648.3 L822.4 648.3 L814.1 648.3 L805.9 648.3 L797.7 648.3 L789.5 648.3 L781.3 648.3 L773 648.3 L764.8 648.3 L756.6 648.3 L748.4 648.3 L740.2 648.3 L732 648.3 L723.7 648.3 L715.5 648.3 L707.3 648.3 L699.1 648.3 L690.9 648.3 L682.7 648.3 L674.4 648.3 L666.2 648.3 L658 648.3 Z" fill="#C15C17" fill-opacity="0.1" stroke="none"/><path d="M658 631.6 L666.2 623.1 L674.4 632.7 L682.7 628.1 L690.9 624.5 L699.1 635.5 L707.3 626.2 L715.5 627.6 L723.7 632.5 L732 628.4 L740.2 624.4 L748.4 634.5 L756.6 627.5 L764.8 626 L773 633.7 L781.3 626.9 L789.5 622.6 L797.7 631.1 L805.9 633.1 L814.1 627.1 L822.4 634.3 L830.6 630.2 L838.8 625 L847 628.5 L855.2 623.5 L863.4 627.1 L871.7 627.4 L879.9 631.8 L888.1 624.8 L896.3 627.8 L904.5 627.8 L912.8 624.5 L921 626.6 L929.2 630.3 L937.4 623.1 L945.6 628.1 L953.8 628.9 L962.1 621.6 L970.3 613.5 L978.5 612.2 L986.7 627.3 L994.9 629.8 L1003.1 637.9 L1011.4 622.8 L1019.6 618.4 L1027.8 626.5 L1036 625 L1044.2 622 L1052.5 626.5 L1060.7 624.2 L1068.9 614.8 L1077.1 646 L1085.3 621.5 L1093.5 621.6 L1101.8 629.1 L1110 622.8 L1118.2 618.9 L1126.4 624.6 L1134.6 624 L1142.9 623.8 L1142.9 648.3 L1134.6 648.3 L1126.4 648.3 L1118.2 648.3 L1110 648.3 L1101.8 648.3 L1093.5 648.3 L1085.3 648.3 L1077.1 648.3 L1068.9 648.3 L1060.7 648.3 L1052.5 648.3 L1044.2 648.3 L1036 648.3 L1027.8 648.3 L1019.6 648.3 L1011.4 648.3 L1003.1 648.3 L994.9 648.3 L986.7 648.3 L978.5 648.3 L970.3 648.3 L962.1 648.3 L953.8 648.3 L945.6 648.3 L937.4 648.3 L929.2 648.3 L921 648.3 L912.8 648.3 L904.5 648.3 L896.3 648.3 L888.1 648.3 L879.9 648.3 L871.7 648.3 L863.4 648.3 L855.2 648.3 L847 648.3 L838.8 648.3 L830.6 648.3 L822.4 648.3 L814.1 648.3 L805.9 648.3 L797.7 648.3 L789.5 648.3 L781.3 648.3 L773 648.3 L764.8 648.3 L756.6 648.3 L748.4 648.3 L740.2 648.3 L732 648.3 L723.7 648.3 L715.5 648.3 L707.3 648.3 L699.1 648.3 L690.9 648.3 L682.7 648.3 L674.4 648.3 L666.2 648.3 L658 648.3 Z" fill="#890F02" fill-opacity="0.1" stroke="none"/><path d="M658 631.6 L666.2 623.5 L674.4 632.5 L682.7 628 L690.9 625.5 L699.1 634.3 L707.3 626.7 L715.5 627.6 L723.7 632.7 L732 628 L740.2 625 L748.4 634.9 L756.6 628.2 L764.8 625.5 L773 636.3 L781.3 627.6 L789.5 622 L797.7 630.4 L805.9 645.2 L814.1 625.9 L822.4 632.7 L830.6 629.4 L838.8 626.4 L847 628.4 L855.2 625.3 L863.4 626.2 L871.7 627.9 L879.9 631.2 L888.1 623.2 L896.3 628.2 L904.5 627.2 L912.8 623.9 L921 625.7 L929.2 633.2 L937.4 622 L945.6 626.8 L953.8 627.3 L962.1 646.8 L970.3 613.4 L978.5 611 L986.7 647 L994.9 629.4 L1003.1 637.9 L1011.4 623.5 L1019.6 619.1 L1027.8 628 L1036 624.3 L1044.2 622.7 L1052.5 626.6 L1060.7 623 L1068.9 614.9 L1077.1 629.1 L1085.3 621.4 L1093.5 621.9 L1101.8 630.4 L1110 624.1 L1118.2 622.9 L1126.4 625.9 L1134.6 624.7 L1142.9 623.8 L1142.9 648.3 L1134.6 648.3 L1126.4 648.3 L1118.2 648.3 L1110 648.3 L1101.8 648.3 L1093.5 648.3 L1085.3 648.3 L1077.1 648.3 L1068.9 648.3 L1060.7 648.3 L1052.5 648.3 L1044.2 648.3 L1036 648.3 L1027.8 648.3 L1019.6 648.3 L1011.4 648.3 L1003.1 648.3 L994.9 648.3 L986.7 648.3 L978.5 648.3 L970.3 648.3 L962.1 648.3 L953.8 648.3 L945.6 648.3 L937.4 648.3 L929.2 648.3 L921 648.3 L912.8 648.3 L904.5 648.3 L896.3 648.3 L888.1 648.3 L879.9 648.3 L871.7 648.3 L863.4 648.3 L855.2 648.3 L847 648.3 L838.8 648.3 L830.6 648.3 L822.4 648.3 L814.1 648.3 L805.9 648.3 L797.7 648.3 L789.5 648.3 L781.3 648.3 L773 648.3 L764.8 648.3 L756.6 648.3 L748.4 648.3 L740.2 648.3 L732 648.3 L723.7 648.3 L715.5 648.3 L707.3 648.3 L699.1 648.3 L690.9 648.3 L682.7 648.3 L674.4 648.3 L666.2 648.3 L658 648.3 Z" fill="#0A437C" fill-opacity="0.1" stroke="none"/><path d="M658 630.3 L666.2 622.1 L674.4 632 L682.7 628.3 L690.9 625.1 L699.1 634.6 L707.3 627.3 L715.5 628.9 L723.7 634.1 L732 627.8 L740.2 624.4 L748.4 633.6 L756.6 643.6 L764.8 625.3 L773 635.1 L781.3 626.7 L789.5 622 L797.7 631.1 L805.9 631.7 L814.1 625.8 L822.4 632.2 L830.6 630.4 L838.8 627.2 L847 628.2 L855.2 623.8 L863.4 624.4 L871.7 627.4 L879.9 632 L888.1 624.1 L896.3 627.5 L904.5 629.3 L912.8 625.4 L921 626.1 L929.2 629.9 L937.4 621.9 L945.6 626.8 L953.8 627.5 L962.1 621.4 L970.3 614 L978.5 611.8 L986.7 626.4 L994.9 628.6 L1003.1 637.4 L1011.4 622.6 L1019.6 618.8 L1027.8 627 L1036 624.6 L1044.2 622.3 L1052.5 627.9 L1060.7 623.1 L1068.9 614.6 L1077.1 631.1 L1085.3 623.1 L1093.5 622 L1101.8 629.8 L1110 622.9 L1118.2 619.8 L1126.4 626.5 L1134.6 643.8 L1142.9 621.5 L1142.9 648.3 L1134.6 648.3 L1126.4 648.3 L1118.2 648.3 L1110 648.3 L1101.8 648.3 L1093.5 648.3 L1085.3 648.3 L1077.1 648.3 L1068.9 648.3 L1060.7 648.3 L1052.5 648.3 L1044.2 648.3 L1036 648.3 L1027.8 648.3 L1019.6 648.3 L1011.4 648.3 L1003.1 648.3 L994.9 648.3 L986.7 648.3 L978.5 648.3 L970.3 648.3 L962.1 648.3 L953.8 648.3 L945.6 648.3 L937.4 648.3 L929.2 648.3 L921 648.3 L912.8 648.3 L904.5 648.3 L896.3 648.3 L888.1 648.3 L879.9 648.3 L871.7 648.3 L863.4 648.3 L855.2 648.3 L847 648.3 L838.8 648.3 L830.6 648.3 L822.4 648.3 L814.1 648.3 L805.9 648.3 L797.7 648.3 L789.5 648.3 L781.3 648.3 L773 648.3 L764.8 648.3 L756.6 648.3 L748.4 648.3 L740.2 648.3 L732 648.3 L723.7 648.3 L715.5 648.3 L707.3 648.3 L699.1 648.3 L690.9 648.3 L682.7 648.3 L674.4 648.3 L666.2 648.3 L658 648.3 Z" fill="#6D1F62" fill-opacity="0.1" stroke="none"/><path d="M658 630.4 L666.2 623.1 L674.4 633 L682.7 628 L690.9 625.6 L699.1 634.3 L707.3 624.9 L715.5 645.7 L723.7 634.1 L732 628.5 L740.2 625.7 L748.4 634 L756.6 627.7 L764.8 643.3 L773 634.8 L781.3 626.9 L789.5 623.2 L797.7 630.7 L805.9 632.7 L814.1 625.4 L822.4 632.5 L830.6 631.9 L838.8 625.7 L847 628 L855.2 624.1 L863.4 625.9 L871.7 628.2 L879.9 631.2 L888.1 623.3 L896.3 629.6 L904.5 627.7 L912.8 623.4 L921 627.2 L929.2 630 L937.4 622.1 L945.6 626.7 L953.8 626.8 L962.1 622.2 L970.3 613.3 L978.5 611.4 L986.7 626.6 L994.9 628.2 L1003.1 637 L1011.4 622.8 L1019.6 619.6 L1027.8 627.3 L1036 624.7 L1044.2 622 L1052.5 628 L1060.7 622.9 L1068.9 614.8 L1077.1 629.5 L1085.3 623.7 L1093.5 624.8 L1101.8 628.9 L1110 623 L1118.2 620.1 L1126.4 625.2 L1134.6 625.2 L1142.9 621.9 L1142.9 648.3 L1134.6 648.3 L1126.4 648.3 L1118.2 648.3 L1110 648.3 L1101.8 648.3 L1093.5 648.3 L1085.3 648.3 L1077.1 648.3 L1068.9 648.3 L1060.7 648.3 L1052.5 648.3 L1044.2 648.3 L1036 648.3 L1027.8 648.3 L1019.6 648.3 L1011.4 648.3 L1003.1 648.3 L994.9 648.3 L986.7 648.3 L978.5 648.3 L970.3 648.3 L962.1 648.3 L953.8 648.3 L945.6 648.3 L937.4 648.3 L929.2 648.3 L921 648.3 L912.8 648.3 L904.5 648.3 L896.3 648.3 L888.1 648.3 L879.9 648.3 L871.7 648.3 L863.4 648.3 L855.2 648.3 L847 648.3 L838.8 648.3 L830.6 648.3 L822.4 648.3 L814.1 648.3 L805.9 648.3 L797.7 648.3 L789.5 648.3 L781.3 648.3 L773 648.3 L764.8 648.3 L756.6 648.3 L748.4 648.3 L740.2 648.3 L732 648.3 L723.7 648.3 L715.5 648.3 L707.3 648.3 L699.1 648.3 L690.9 648.3 L682.7 648.3 L674.4 648.3 L666.2 648.3 L658 648.3 Z" fill="#584477" fill-opacity="0.1" stroke="none"/><path d="M658 632.3 L666.2 623.1 L674.4 631.8 L682.7 628.3 L690.9 624.9 L699.1 635.1 L707.3 644.7 L715.5 628.3 L723.7 632.5 L732 628.4 L740.2 624.8 L748.4 634.7 L756.6 628.3 L764.8 625.2 L773 633.8 L781.3 627.1 L789.5 621 L797.7 630.5 L805.9 631.6 L814.1 625.2 L822.4 634 L830.6 630.5 L838.8 625.8 L847 627.6 L855.2 625.1 L863.4 626.3 L871.7 627.5 L879.9 634.1 L888.1 623.6 L896.3 627.3 L904.5 627.2 L912.8 624.8 L921 626.3 L929.2 631.6 L937.4 623 L945.6 626.5 L953.8 626.8 L962.1 622.2 L970.3 614.4 L978.5 612.4 L986.7 627.8 L994.9 628.8 L1003.1 647.4 L1011.4 621.9 L1019.6 618.8 L1027.8 628.4 L1036 625.4 L1044.2 645.3 L1052.5 626.4 L1060.7 625.7 L1068.9 616.5 L1077.1 629 L1085.3 622.2 L1093.5 622.6 L1101.8 629.1 L1110 622.5 L1118.2 619 L1126.4 624.4 L1134.6 623.9 L1142.9 622.2 L1142.9 648.3 L1134.6 648.3 L1126.4 648.3 L1118.2 648.3 L1110 648.3 L1101.8 648.3 L1093.5 648.3 L1085.3 648.3 L1077.1 648.3 L1068.9 648.3 L1060.7 648.3 L1052.5 648.3 L1044.2 648.3 L1036 648.3 L1027.8 648.3 L1019.6 648.3 L1011.4 648.3 L1003.1 648.3 L994.9 648.3 L986.7 648.3 L978.5 648.3 L970.3 648.3 L962.1 648.3 L953.8 648.3 L945.6 648.3 L937.4 648.3 L929.2 648.3 L921 648.3 L912.8 648.3 L904.5 648.3 L896.3 648.3 L888.1 648.3 L879.9 648.3 L871.7 648.3 L863.4 648.3 L855.2 648.3 L847 648.3 L838.8 648.3 L830.6 648.3 L822.4 648.3 L814.1 648.3 L805.9 648.3 L797.7 648.3 L789.5 648.3 L781.3 648.3 L773 648.3 L764.8 648.3 L756.6 648.3 L748.4 648.3 L740.2 648.3 L732 648.3 L723.7 648.3 L715.5 648.3 L707.3 648.3 L699.1 648.3 L690.9 648.3 L682.7 648.3 L674.4 648.3 L666.2 648.3 L658 648.3 Z" fill="#B7DBAB" fill-opacity="0.1" stroke="none"/><path d="M658 650 L666.2 745.2 L674.4 650.4 L682.7 696 L690.9 649.9 L699.1 754 L707.3 650.8 L715.5 710.7 L723.7 649.8 L732 712.4 L740.2 649.7 L748.4 750.1 L756.6 650.3 L764.8 706.3 L773 649.9 L781.3 734.5 L789.5 648.5 L797.7 748.9 L805.9 649 L814.1 755 L822.4 650.5 L830.6 732.5 L838.8 648.7 L847 693.8 L855.2 649.6 L863.4 732.5 L871.7 650.2 L879.9 724.3 L888.1 650.3 L896.3 691.6 L904.5 648.8 L912.8 689.6 L921 649.6 L929.2 726.1 L937.4 650.7 L945.6 737.2 L953.8 648.3 L962.1 693.4 L970.3 648.4 L978.5 670.8 L986.7 648.7 L994.9 736.6 L1003.1 648.8 L1011.4 728.8 L1019.6 650.3 L1027.8 727.2 L1036 649.1 L1044.2 727.9 L1052.5 649.8 L1060.7 718.3 L1068.9 648.8 L1077.1 732.6 L1085.3 648.4 L1093.5 703 L1101.8 648.5 L1110 739.3 L1118.2 648.5 L1126.4 765.6 L1134.6 649.1 L1142.9 746.1 L1142.9 648.3 L1134.6 648.3 L1126.4 648.3 L1118.2 648.3 L1110 648.3 L1101.8 648.3 L1093.5 648.3 L1085.3 648.3 L1077.1 648.3 L1068.9 648.3 L1060.7 648.3 L1052.5 648.3 L1044.2 648.3 L1036 648.3 L1027.8 648.3 L1019.6 648.3 L1011.4 648.3 L1003.1 648.3 L994.9 648.3 L986.7 648.3 L978.5 648.3 L970.3 648.3 L962.1 648.3 L953.8 648.3 L945.6 648.3 L937.4 648.3 L929.2 648.3 L921 648.3 L912.8 648.3 L904.5 648.3 L896.3 648.3 L888.1 648.3 L879.9 648.3 L871.7 648.3 L863.4 648.3 L855.2 648.3 L847 648.3 L838.8 648.3 L830.6 648.3 L822.4 648.3 L814.1 648.3 L805.9 648.3 L797.7 648.3 L789.5 648.3 L781.3 648.3 L773 648.3 L764.8 648.3 L756.6 648.3 L748.4 648.3 L740.2 648.3 L732 648.3 L723.7 648.3 L715.5 648.3 L707.3 648.3 L699.1 648.3 L690.9 648.3 L682.7 648.3 L674.4 648.3 L666.2 648.3 L658 648.3 Z" fill="#F4D598" fill-opacity="0.05" stroke="none"/><path d="M658 712.7 L666.2 650.2 L674.4 753 L682.7 650.5 L690.9 702.7 L699.1 649.4 L707.3 722.2 L715.5 650.7 L723.7 708.7 L732 650.5 L740.2 702.5 L748.4 650.4 L756.6 707.1 L764.8 650.4 L773 710.8 L781.3 648.6 L789.5 742.9 L797.7 649.2 L805.9 698.2 L814.1 650.5 L822.4 695.2 L830.6 649.9 L838.8 720.2 L847 649.3 L855.2 699.1 L863.4 650.6 L871.7 723 L879.9 650.6 L888.1 699.8 L896.3 649.9 L904.5 740.2 L912.8 648.6 L921 749.7 L929.2 649.2 L937.4 750.3 L945.6 650.2 L953.8 667.8 L962.1 648.8 L970.3 665.9 L978.5 649.4 L986.7 681.6 L994.9 775.7 L1003.1 684.2 L1011.4 650.3 L1019.6 715.1 L1027.8 650.5 L1036 741.9 L1044.2 648.8 L1052.5 730.9 L1060.7 649.5 L1068.9 723.2 L1077.1 648.8 L1085.3 745.4 L1093.5 648.6 L1101.8 749.5 L1110 650 L1118.2 756.7 L1126.4 650.4 L1134.6 704.4 L1142.9 649.1 L1142.9 648.3 L1134.6 648.3 L1126.4 648.3 L1118.2 648.3 L1110 648.3 L1101.8 648.3 L1093.5 648.3 L1085.3 648.3 L1077.1 648.3 L1068.9 648.3 L1060.7 648.3 L1052.5 648.3 L1044.2 648.3 L1036 648.3 L1027.8 648.3 L1019.6 648.3 L1011.4 648.3 L1003.1 648.3 L994.9 648.3 L986.7 648.3 L978.5 648.3 L970.3 648.3 L962.1 648.3 L953.8 648.3 L945.6 648.3 L937.4 648.3 L929.2 648.3 L921 648.3 L912.8 648.3 L904.5 648.3 L896.3 648.3 L888.1 648.3 L879.9 648.3 L871.7 648.3 L863.4 648.3 L855.2 648.3 L847 648.3 L838.8 648.3 L830.6 648.3 L822.4 648.3 L814.1 648.3 L805.9 648.3 L797.7 648.3 L789.5 648.3 L781.3 648.3 L773 648.3 L764.8 648.3 L756.6 648.3 L748.4 648.3 L740.2 648.3 L732 648.3 L723.7 648.3 L715.5 648.3 L707.3 648.3 L699.1 648.3 L690.9 648.3 L682.7 648.3 L674.4 648.3 L666.2 648.3 L658 648.3 Z" fill="#70DBED" fill-opacity="0.05" stroke="none"/><path d="M658 648.8 L666.2 753.6 L674.4 649.6 L682.7 710.3 L690.9 648.9 L699.1 706.8 L707.3 650.6 L715.5 692 L723.7 650.5 L732 723.6 L740.2 650.9 L748.4 751.3 L756.6 649.4 L764.8 742 L773 649 L781.3 751.3 L789.5 650 L797.7 692.5 L805.9 648.7 L814.1 725.5 L822.4 649.5 L830.6 704.4 L838.8 650.1 L847 690.5 L855.2 649.3 L863.4 719.3 L871.7 650 L879.9 703.2 L888.1 649.2 L896.3 753.2 L904.5 648.9 L912.8 743.5 L921 649.4 L929.2 748.4 L937.4 650.3 L945.6 702.2 L953.8 648.9 L962.1 673.1 L970.3 648.5 L978.5 672.6 L986.7 649.5 L994.9 748.8 L1003.1 649.2 L1011.4 765.5 L1019.6 649.5 L1027.8 708.8 L1036 650.2 L1044.2 758.5 L1052.5 649.4 L1060.7 760.9 L1068.9 649 L1077.1 735.7 L1085.3 649.1 L1093.5 739.9 L1101.8 648.5 L1110 758.4 L1118.2 650.6 L1126.4 747.2 L1134.6 648.7 L1142.9 702.2 L1142.9 648.3 L1134.6 648.3 L1126.4 648.3 L1118.2 648.3 L1110 648.3 L1101.8 648.3 L1093.5 648.3 L1085.3 648.3 L1077.1 648.3 L1068.9 648.3 L1060.7 648.3 L1052.5 648.3 L1044.2 648.3 L1036 648.3 L1027.8 648.3 L1019.6 648.3 L1011.4 648.3 L1003.1 648.3 L994.9 648.3 L986.7 648.3 L978.5 648.3 L970.3 648.3 L962.1 648.3 L953.8 648.3 L945.6 648.3 L937.4 648.3 L929.2 648.3 L921 648.3 L912.8 648.3 L904.5 648.3 L896.3 648.3 L888.1 648.3 L879.9 648.3 L871.7 648.3 L863.4 648.3 L855.2 648.3 L847 648.3 L838.8 648.3 L830.6 648.3 L822.4 648.3 L814.1 648.3 L805.9 648.3 L797.7 648.3 L789.5 648.3 L781.3 648.3 L773 648.3 L764.8 648.3 L756.6 648.3 L748.4 648.3 L740.2 648.3 L732 648.3 L723.7 648.3 L715.5 648.3 L707.3 648.3 L699.1 648.3 L690.9 648.3 L682.7 648.3 L674.4 648.3 L666.2 648.3 L658 648.3 Z" fill="#F9BA8F" fill-opacity="0.05" stroke="none"/><path d="M658 759.4 L666.2 649.4 L674.4 729.3 L682.7 649.3 L690.9 725.5 L699.1 649.5 L707.3 759.8 L715.5 649.6 L723.7 698.6 L732 650.4 L740.2 709.2 L748.4 649 L756.6 720.3 L764.8 649.2 L773 707.5 L781.3 649.6 L789.5 761.1 L797.7 649.1 L805.9 749.6 L814.1 648.6 L822.4 731.5 L830.6 648.6 L838.8 743 L847 650.3 L855.2 727.7 L863.4 649.7 L871.7 730.2 L879.9 650.5 L888.1 741.8 L896.3 648.8 L904.5 721.9 L912.8 649.2 L921 742.1 L929.2 650.1 L937.4 721.2 L945.6 648.8 L953.8 701.5 L962.1 649 L970.3 673.6 L978.5 649 L986.7 702.9 L994.9 760.6 L1003.1 705.1 L1011.4 649.4 L1019.6 734.2 L1027.8 649.4 L1036 705.6 L1044.2 648.4 L1052.5 703.2 L1060.7 648.6 L1068.9 692.3 L1077.1 649.3 L1085.3 720.8 L1093.5 650.1 L1101.8 707.3 L1110 648.3 L1118.2 741.2 L1126.4 649.9 L1134.6 706.3 L1142.9 649.3 L1142.9 648.3 L1134.6 648.3 L1126.4 648.3 L1118.2 648.3 L1110 648.3 L1101.8 648.3 L1093.5 648.3 L1085.3 648.3 L1077.1 648.3 L1068.9 648.3 L1060.7 648.3 L1052.5 648.3 L1044.2 648.3 L1036 648.3 L1027.8 648.3 L1019.6 648.3 L1011.4 648.3 L1003.1 648.3 L994.9 648.3 L986.7 648.3 L978.5 648.3 L970.3 648.3 L962.1 648.3 L953.8 648.3 L945.6 648.3 L937.4 648.3 L929.2 648.3 L921 648.3 L912.8 648.3 L904.5 648.3 L896.3 648.3 L888.1 648.3 L879.9 648.3 L871.7 648.3 L863.4 648.3 L855.2 648.3 L847 648.3 L838.8 648.3 L830.6 648.3 L822.4 648.3 L814.1 648.3 L805.9 648.3 L797.7 648.3 L789.5 648.3 L781.3 648.3 L773 648.3 L764.8 648.3 L756.6 648.3 L748.4 648.3 L740.2 648.3 L732 648.3 L723.7 648.3 L715.5 648.3 L707.3 648.3 L699.1 648.3 L690.9 648.3 L682.7 648.3 L674.4 648.3 L666.2 648.3 L658 648.3 Z" fill="#F29191" fill-opacity="0.05" stroke="none"/><path d="M658 649.1 L666.2 740.3 L674.4 648.8 L682.7 735.4 L690.9 648.9 L699.1 699 L707.3 650.8 L715.5 695.2 L723.7 650.7 L732 703.7 L740.2 649.1 L748.4 737.4 L756.6 649.5 L764.8 694.8 L773 650.1 L781.3 752.6 L789.5 649 L797.7 750.8 L805.9 650.6 L814.1 757.6 L822.4 650.7 L830.6 741.5 L838.8 650.4 L847 732.5 L855.2 650.6 L863.4 756.4 L871.7 648.3 L879.9 704.3 L888.1 649 L896.3 757.2 L904.5 649.6 L912.8 724.8 L921 648.5 L929.2 766.9 L937.4 649.9 L945.6 729 L953.8 648.3 L962.1 691.7 L970.3 649 L978.5 677.3 L986.7 648.9 L994.9 741.8 L1003.1 649.4 L1011.4 716.1 L1019.6 649.2 L1027.8 723.3 L1036 649.8 L1044.2 740.9 L1052.5 650.4 L1060.7 706.3 L1068.9 650.7 L1077.1 752.5 L1085.3 650.2 L1093.5 742.5 L1101.8 649.6 L1110 761.3 L1118.2 650.9 L1126.4 700 L1134.6 650.5 L1142.9 728.6 L1142.9 648.3 L1134.6 648.3 L1126.4 648.3 L1118.2 648.3 L1110 648.3 L1101.8 648.3 L1093.5 648.3 L1085.3 648.3 L1077.1 648.3 L1068.9 648.3 L1060.7 648.3 L1052.5 648.3 L1044.2 648.3 L1036 648.3 L1027.8 648.3 L1019.6 648.3 L1011.4 648.3 L1003.1 648.3 L994.9 648.3 L986.7 648.3 L978.5 648.3 L970.3 648.3 L962.1 648.3 L953.8 648.3 L945.6 648.3 L937.4 648.3 L929.2 648.3 L921 648.3 L912.8 648.3 L904.5 648.3 L896.3 648.3 L888.1 648.3 L879.9 648.3 L871.7 648.3 L863.4 648.3 L855.2 648.3 L847 648.3 L838.8 648.3 L830.6 648.3 L822.4 648.3 L814.1 648.3 L805.9 648.3 L797.7 648.3 L789.5 648.3 L781.3 648.3 L773 648.3 L764.8 648.3 L756.6 648.3 L748.4 648.3 L740.2 648.3 L732 648.3 L723.7 648.3 L715.5 648.3 L707.3 648.3 L699.1 648.3 L690.9 648.3 L682.7 648.3 L674.4 648.3 L666.2 648.3 L658 648.3 Z" fill="#82B5D8" fill-opacity="0.05" stroke="none"/><path d="M658 672.5 L666.2 681.4 L674.4 681.4 L682.7 669.5 L690.9 684.9 L699.1 676.9 L707.3 679.9 L715.5 681.4 L723.7 669.5 L732 673.9 L740.2 683.5 L748.4 676.9 L756.6 679.3 L764.8 682.3 L773 675.4 L781.3 669.5 L789.5 671 L797.7 693.3 L805.9 676.9 L814.1 673.3 L822.4 691.8 L830.6 678.4 L838.8 671.6 L847 671.9 L855.2 681.4 L863.4 673.3 L871.7 672.5 L879.9 694.2 L888.1 671 L896.3 669.5 L904.5 672.5 L912.8 673.9 L921 673.9 L929.2 676.9 L937.4 676.3 L945.6 677.8 L953.8 672.5 L962.1 666.5 L970.3 656.1 L978.5 671 L986.7 682.9 L994.9 685.8 L1003.1 681.4 L1011.4 665.6 L1019.6 672.5 L1027.8 673.3 L1036 672.5 L1044.2 675.4 L1052.5 672.5 L1060.7 666.5 L1068.9 667.4 L1077.1 671 L1085.3 669.5 L1093.5 677.5 L1101.8 672.5 L1110 670.4 L1118.2 669.5 L1126.4 671.9 L1134.6 668 L1142.9 666.5 L1142.9 648.3 L1134.6 648.3 L1126.4 648.3 L1118.2 648.3 L1110 648.3 L1101.8 648.3 L1093.5 648.3 L1085.3 648.3 L1077.1 648.3 L1068.9 648.3 L1060.7 648.3 L1052.5 648.3 L1044.2 648.3 L1036 648.3 L1027.8 648.3 L1019.6 648.3 L1011.4 648.3 L1003.1 648.3 L994.9 648.3 L986.7 648.3 L978.5 648.3 L970.3 648.3 L962.1 648.3 L953.8 648.3 L945.6 648.3 L937.4 648.3 L929.2 648.3 L921 648.3 L912.8 648.3 L904.5 648.3 L896.3 648.3 L888.1 648.3 L879.9 648.3 L871.7 648.3 L863.4 648.3 L855.2 648.3 L847 648.3 L838.8 648.3 L830.6 648.3 L822.4 648.3 L814.1 648.3 L805.9 648.3 L797.7 648.3 L789.5 648.3 L781.3 648.3 L773 648.3 L764.8 648.3 L756.6 648.3 L748.4 648.3 L740.2 648.3 L732 648.3 L723.7 648.3 L715.5 648.3 L707.3 648.3 L699.1 648.3 L690.9 648.3 L682.7 648.3 L674.4 648.3 L666.2 648.3 L658 648.3 Z" fill="#E5A8E2" fill-opacity="0.05" stroke="none"/><path d="M658 630.6 L666.2 622.3 L674.4 632.1 L682.7 627.1 L690.9 624.1 L699.1 634.5 L707.3 625.3 L715.5 627.6 L723.7 632.1 L732 627.6 L740.2 624.7 L748.4 633.6 L756.6 627.6 L764.8 625.3 L773 633.6 L781.3 627.1 L789.5 621.1 L797.7 630.6 L805.9 631.2 L814.1 625.6 L822.4 632.1 L830.6 629.7 L838.8 625.3 L847 627.6 L855.2 623.2 L863.4 624.7 L871.7 627.6 L879.9 631.2 L888.1 623.2 L896.3 627.6 L904.5 627.1 L912.8 623.2 L921 626.2 L929.2 630 L937.4 622.3 L945.6 626.8 L953.8 626.8 L962.1 621.7 L970.3 613.4 L978.5 611.3 L986.7 626.2 L994.9 628.2 L1003.1 636.6 L1011.4 621.7 L1019.6 618.7 L1027.8 626.8 L1036 624.7 L1044.2 622.3 L1052.5 626.8 L1060.7 623.2 L1068.9 614.9 L1077.1 629.1 L1085.3 621.7 L1093.5 621.7 L1101.8 629.1 L1110 622.3 L1118.2 619.3 L1126.4 624.7 L1134.6 623.2 L1142.9 621.7 L1142.9 648.3 L1134.6 648.3 L1126.4 648.3 L1118.2 648.3 L1110 648.3 L1101.8 648.3 L1093.5 648.3 L1085.3 648.3 L1077.1 648.3 L1068.9 648.3 L1060.7 648.3 L1052.5 648.3 L1044.2 648.3 L1036 648.3 L1027.8 648.3 L1019.6 648.3 L1011.4 648.3 L1003.1 648.3 L994.9 648.3 L986.7 648.3 L978.5 648.3 L970.3 648.3 L962.1 648.3 L953.8 648.3 L945.6 648.3 L937.4 648.3 L929.2 648.3 L921 648.3 L912.8 648.3 L904.5 648.3 L896.3 648.3 L888.1 648.3 L879.9 648.3 L871.7 648.3 L863.4 648.3 L855.2 648.3 L847 648.3 L838.8 648.3 L830.6 648.3 L822.4 648.3 L814.1 648.3 L805.9 648.3 L797.7 648.3 L789.5 648.3 L781.3 648.3 L773 648.3 L764.8 648.3 L756.6 648.3 L748.4 648.3 L740.2 648.3 L732 648.3 L723.7 648.3 L715.5 648.3 L707.3 648.3 L699.1 648.3 L690.9 648.3 L682.7 648.3 L674.4 648.3 L666.2 648.3 L658 648.3 Z" fill="#AEA2E0" fill-opacity="0.1" stroke="none"/><path d="M658 649.8 L666.2 708.7 L674.4 648.4 L682.7 733.9 L690.9 649.2 L699.1 733.4 L707.3 648.9 L715.5 701.5 L723.7 649.9 L732 728 L740.2 648.6 L748.4 736 L756.6 649.3 L764.8 719.1 L773 648.8 L781.3 712.2 L789.5 650.1 L797.7 745.6 L805.9 650.6 L814.1 738.2 L822.4 650.8 L830.6 695.7 L838.8 650.6 L847 694.7 L855.2 650.7 L863.4 705.6 L871.7 650.6 L879.9 754.7 L888.1 650.4 L896.3 713.9 L904.5 649.4 L912.8 746.4 L921 648.3 L929.2 747.8 L937.4 649.3 L945.6 749.5 L953.8 648.4 L962.1 691.3 L970.3 648.6 L978.5 692.7 L986.7 650.2 L994.9 763.8 L1003.1 648.6 L1011.4 721.6 L1019.6 649.3 L1027.8 719.4 L1036 650.5 L1044.2 746.8 L1052.5 650.4 L1060.7 691.4 L1068.9 648.8 L1077.1 696.8 L1085.3 650.6 L1093.5 745.5 L1101.8 648.6 L1110 766.5 L1118.2 649 L1126.4 705.3 L1134.6 648.8 L1142.9 746.1" fill="none" stroke="#7EB26D" stroke-width="1" stroke-linejoin="round"/><path d="M658 693.7 L666.2 649.3 L674.4 709 L682.7 649.8 L690.9 760.9 L699.1 648.4 L707.3 742.8 L715.5 648.7 L723.7 756.4 L732 649.7 L740.2 712.9 L748.4 649 L756.6 718.1 L764.8 649.4 L773 736.1 L781.3 648.6 L789.5 697.7 L797.7 649.5 L805.9 711.4 L814.1 650.5 L822.4 710.9 L830.6 649.2 L838.8 687.5 L847 649.5 L855.2 718.6 L863.4 649.5 L871.7 732.8 L879.9 650.8 L888.1 694.2 L896.3 648.7 L904.5 737.9 L912.8 648.5 L921 721.5 L929.2 650.5 L937.4 743.1 L945.6 648.4 L953.8 700.3 L962.1 648.8 L970.3 687.1 L978.5 649.5 L986.7 713.9 L994.9 756.4 L1003.1 674.5 L1011.4 648.5 L1019.6 692.3 L1027.8 649 L1036 754.6 L1044.2 650.1 L1052.5 689.2 L1060.7 650.7 L1068.9 700.6 L1077.1 650.2 L1085.3 726.6 L1093.5 650.1 L1101.8 687.7 L1110 649.7 L1118.2 749.1 L1126.4 649.8 L1134.6 695.1 L1142.9 649.4" fill="none" stroke="#EAB839" stroke-width="1" stroke-linejoin="round"/><path d="M658 650 L666.2 695.6 L674.4 650.4 L682.7 742 L690.9 648.9 L699.1 697.4 L707.3 649.4 L715.5 711.8 L723.7 650.1 L732 707.2 L740.2 650.3 L748.4 736.7 L756.6 648.5 L764.8 746.4 L773 649.8 L781.3 712.8 L789.5 649.4 L797.7 757 L805.9 649.8 L814.1 710.2 L822.4 650 L830.6 716.2 L838.8 649.8 L847 726.5 L855.2 649.6 L863.4 718.4 L871.7 648.8 L879.9 737.2 L888.1 650.5 L896.3 691.5 L904.5 649.4 L912.8 732.5 L921 649 L929.2 695.4 L937.4 649.8 L945.6 686.9 L953.8 648.5 L962.1 693.3 L970.3 649 L978.5 674 L986.7 650 L994.9 780.8 L1003.1 649.1 L1011.4 689.7 L1019.6 649.1 L1027.8 705.7 L1036 649.8 L1044.2 718.7 L1052.5 649.6 L1060.7 760.5 L1068.9 649.2 L1077.1 721.3 L1085.3 648.3 L1093.5 689.2 L1101.8 648.5 L1110 741.5 L1118.2 648.9 L1126.4 732.4 L1134.6 648.5 L1142.9 735.1" fill="none" stroke="#6ED0E0" stroke-width="1" stroke-linejoin="round"/><path d="M658 695.9 L666.2 648.9 L674.4 742.2 L682.7 649.8 L690.9 696.4 L699.1 650.1 L707.3 690.5 L715.5 650.5 L723.7 746.6 L732 649.9 L740.2 749.4 L748.4 649.1 L756.6 694.7 L764.8 650.4 L773 692.9 L781.3 649.3 L789.5 743.2 L797.7 650.1 L805.9 755.6 L814.1 649.2 L822.4 714.4 L830.6 650.6 L838.8 734.3 L847 650.1 L855.2 709.7 L863.4 650.2 L871.7 739.1 L879.9 649.2 L888.1 726.3 L896.3 650.6 L904.5 686.8 L912.8 649.5 L921 699.3 L929.2 649.5 L937.4 748.6 L945.6 649.8 L953.8 690.8 L962.1 648.5 L970.3 689.5 L978.5 649.4 L986.7 718.1 L994.9 759.9 L1003.1 696.6 L1011.4 650.2 L1019.6 723.7 L1027.8 649.2 L1036 706.3 L1044.2 650 L1052.5 711.1 L1060.7 649.4 L1068.9 728.1 L1077.1 649 L1085.3 749.7 L1093.5 650.2 L1101.8 704.7 L1110 650.2 L1118.2 739.6 L1126.4 648.8 L1134.6 733.1 L1142.9 649.3" fill="none" stroke="#EF843C" stroke-width="1" stroke-linejoin="round"/><path d="M658 649.5 L666.2 728.5 L674.4 650.8 L682.7 694 L690.9 650.7 L699.1 729 L707.3 650.5 L715.5 688.8 L723.7 649.9 L732 724.3 L740.2 649.9 L748.4 694.9 L756.6 649 L764.8 746.6 L773 649.5 L781.3 735.3 L789.5 649.6 L797.7 697.2 L805.9 650.3 L814.1 765 L822.4 648.3 L830.6 723.1 L838.8 648.5 L847 713.9 L855.2 649.9 L863.4 707 L871.7 649.2 L879.9 744.4 L888.1 648.5 L896.3 755.4 L904.5 650.3 L912.8 694.2 L921 650.5 L929.2 724.7 L937.4 650.2 L945.6 739.8 L953.8 649 L962.1 674.9 L970.3 649.4 L978.5 696 L986.7 648.8 L994.9 761.6 L1003.1 648.6 L1011.4 736 L1019.6 650.8 L1027.8 716.1 L1036 650.4 L1044.2 700.1 L1052.5 649.4 L1060.7 763.1 L1068.9 649.7 L1077.1 706.3 L1085.3 648.8 L1093.5 757 L1101.8 650.6 L1110 718.9 L1118.2 648.9 L1126.4 728.2 L1134.6 650.6 L1142.9 690.7" fill="none" stroke="#E24D42" stroke-width="1" stroke-linejoin="round"/><path d="M658 739.6 L666.2 648.5 L674.4 697.9 L682.7 648.4 L690.9 781 L699.1 650.6 L707.3 741.8 L715.5 649.7 L723.7 798.1 L732 649.7 L740.2 752.6 L748.4 648.9 L756.6 767.6 L764.8 649.8 L773 734.4 L781.3 648.9 L789.5 743.7 L797.7 649 L805.9 694.9 L814.1 650.6 L822.4 738.1 L830.6 649.8 L838.8 694.1 L847 649.4 L855.2 766.9 L863.4 648.4 L871.7 800.2 L879.9 650.4 L888.1 739.3 L896.3 649.5 L904.5 731.7 L912.8 650.4 L921 785.3 L929.2 649.8 L937.4 690.8 L945.6 649.1 L953.8 667.6 L962.1 648.3 L970.3 673.8 L978.5 649.4 L986.7 711.5 L994.9 796 L1003.1 698.9 L1011.4 648.9 L1019.6 789.5 L1027.8 648.8 L1036 734.3 L1044.2 649.8 L1052.5 721.9 L1060.7 648.7 L1068.9 796 L1077.1 648.8 L1085.3 729.9 L1093.5 649.3 L1101.8 783.1 L1110 650.7 L1118.2 720.6 L1126.4 650.1 L1134.6 699.4 L1142.9 649.8" fill="none" stroke="#1F78C1" stroke-width="1" stroke-linejoin="round"/><path d="M658 630.3 L666.2 623.5 L674.4 643.8 L682.7 627 L690.9 624.1 L699.1 638.3 L707.3 626.7 L715.5 627.5 L723.7 632.7 L732 628.4 L740.2 626.2 L748.4 634 L756.6 629.7 L764.8 625.3 L773 634.6 L781.3 628 L789.5 621.1 L797.7 631.5 L805.9 631.4 L814.1 625.5 L822.4 633.3 L830.6 630 L838.8 625.7 L847 628 L855.2 624.4 L863.4 625.3 L871.7 629.1 L879.9 630.9 L888.1 625.5 L896.3 627.8 L904.5 627.2 L912.8 625.1 L921 628.1 L929.2 630.6 L937.4 622.3 L945.6 627.6 L953.8 645 L962.1 644.5 L970.3 614.2 L978.5 613.2 L986.7 626.8 L994.9 627.8 L1003.1 637 L1011.4 621.4 L1019.6 618.5 L1027.8 626.6 L1036 626.9 L1044.2 622.6 L1052.5 628.2 L1060.7 623 L1068.9 616.7 L1077.1 630.8 L1085.3 621.4 L1093.5 622.2 L1101.8 646.1 L1110 622.1 L1118.2 620.7 L1126.4 624.5 L1134.6 623.8 L1142.9 622.3" fill="none" stroke="#BA43A9" stroke-width="1" stroke-linejoin="round"/><path d="M658 648 L666.2 623.9 L674.4 632.6 L682.7 626.8 L690.9 624.2 L699.1 635.2 L707.3 625.7 L715.5 627.8 L723.7 633.3 L732 627.5 L740.2 624.6 L748.4 635.5 L756.6 629 L764.8 625.6 L773 634.4 L781.3 628.7 L789.5 621.2 L797.7 631.2 L805.9 631.7 L814.1 625.4 L822.4 632.5 L830.6 631.5 L838.8 625.3 L847 629.5 L855.2 623.1 L863.4 624.8 L871.7 627.4 L879.9 632 L888.1 625.2 L896.3 643.3 L904.5 629.4 L912.8 625.3 L921 626.6 L929.2 630 L937.4 622.7 L945.6 627.7 L953.8 626.4 L962.1 621.8 L970.3 613.1 L978.5 611.2 L986.7 628.2 L994.9 629.1 L1003.1 638.3 L1011.4 621.4 L1019.6 619.1 L1027.8 627.7 L1036 625.1 L1044.2 622.6 L1052.5 628.5 L1060.7 623.1 L1068.9 616.7 L1077.1 629.2 L1085.3 623.3 L1093.5 644.9 L1101.8 629 L1110 622.2 L1118.2 620.2 L1126.4 624.5 L1134.6 623.2 L1142.9 621.3" fill="none" stroke="#705DA0" stroke-width="1" stroke-linejoin="round"/><path d="M658 633.4 L666.2 623.3 L674.4 632.8 L682.7 626.6 L690.9 624.7 L699.1 635.4 L707.3 625.2 L715.5 627.8 L723.7 632.1 L732 627.6 L740.2 626 L748.4 634.5 L756.6 628.2 L764.8 625.8 L773 633.6 L781.3 627.9 L789.5 620.7 L797.7 631.8 L805.9 632 L814.1 625.8 L822.4 633.6 L830.6 631.3 L838.8 625.5 L847 627.4 L855.2 624.5 L863.4 625.7 L871.7 627.8 L879.9 647.5 L888.1 622.8 L896.3 627.6 L904.5 643.8 L912.8 623.3 L921 626.8 L929.2 631.2 L937.4 644.2 L945.6 627.4 L953.8 626.5 L962.1 621.9 L970.3 614 L978.5 611.3 L986.7 625.8 L994.9 628.6 L1003.1 636.2 L1011.4 622.6 L1019.6 619.1 L1027.8 627.4 L1036 625.6 L1044.2 622.1 L1052.5 627.1 L1060.7 624.8 L1068.9 616.3 L1077.1 628.9 L1085.3 623 L1093.5 622.5 L1101.8 630.6 L1110 622.6 L1118.2 619.4 L1126.4 625.9 L1134.6 623.9 L1142.9 624.2" fill="none" stroke="#508642" stroke-width="1" stroke-linejoin="round"/><path d="M658 632.3 L666.2 623.2 L674.4 631.7 L682.7 626.9 L690.9 624.2 L699.1 635.1 L707.3 627.3 L715.5 630.3 L723.7 634.1 L732 627.7 L740.2 626.3 L748.4 633.4 L756.6 627.6 L764.8 628.1 L773 633.4 L781.3 628.7 L789.5 621.3 L797.7 631 L805.9 631.6 L814.1 627 L822.4 631.8 L830.6 631.9 L838.8 624.9 L847 627.8 L855.2 623.1 L863.4 625.4 L871.7 628.4 L879.9 630.8 L888.1 623.2 L896.3 628.9 L904.5 627.2 L912.8 622.9 L921 627.8 L929.2 631.3 L937.4 623 L945.6 626.8 L953.8 626.9 L962.1 623.1 L970.3 613.2 L978.5 613 L986.7 626.3 L994.9 628 L1003.1 636.5 L1011.4 623.2 L1019.6 619.4 L1027.8 627.8 L1036 624.6 L1044.2 622.4 L1052.5 627.3 L1060.7 624.5 L1068.9 615.3 L1077.1 629.8 L1085.3 623.1 L1093.5 622.1 L1101.8 628.8 L1110 623.1 L1118.2 619.2 L1126.4 624.5 L1134.6 622.9 L1142.9 622.5" fill="none" stroke="#CCA300" stroke-width="1" stroke-linejoin="round"/><path d="M658 632.3 L666.2 622.4 L674.4 632.5 L682.7 627.3 L690.9 624 L699.1 636.1 L707.3 626.7 L715.5 628.3 L723.7 632.3 L732 627.6 L740.2 625.9 L748.4 633.5 L756.6 627.3 L764.8 625.2 L773 634.4 L781.3 627 L789.5 623 L797.7 632.8 L805.9 631.7 L814.1 626.3 L822.4 633.9 L830.6 629.3 L838.8 626.3 L847 627.4 L855.2 624.2 L863.4 624.6 L871.7 630.2 L879.9 632.1 L888.1 623.2 L896.3 629 L904.5 626.7 L912.8 623.3 L921 626.9 L929.2 631.9 L937.4 623 L945.6 627.7 L953.8 626.4 L962.1 622.4 L970.3 613.8 L978.5 611.9 L986.7 626 L994.9 628.1 L1003.1 636.9 L1011.4 622.5 L1019.6 619.9 L1027.8 627.2 L1036 624.3 L1044.2 623.2 L1052.5 626.6 L1060.7 624 L1068.9 647.2 L1077.1 629.2 L1085.3 622.2 L1093.5 622.4 L1101.8 629.3 L1110 647.7 L1118.2 619.6 L1126.4 645.9 L1134.6 624.4 L1142.9 622.4" fill="none" stroke="#447EBC" stroke-width="1" stroke-linejoin="round"/><path d="M658 630.4 L666.2 622 L674.4 632.9 L682.7 627.4 L690.9 624 L699.1 634.6 L707.3 625.2 L715.5 629.5 L723.7 632 L732 628.1 L740.2 625.1 L748.4 634 L756.6 648.1 L764.8 625.2 L773 633.3 L781.3 626.9 L789.5 621.4 L797.7 630.7 L805.9 631.7 L814.1 646.7 L822.4 634.1 L830.6 631.2 L838.8 625.2 L847 627.7 L855.2 624 L863.4 626.9 L871.7 627.5 L879.9 633.2 L888.1 623.6 L896.3 628.2 L904.5 627.6 L912.8 622.9 L921 627.3 L929.2 630.8 L937.4 645.8 L945.6 628 L953.8 626.6 L962.1 621.8 L970.3 614.6 L978.5 612.9 L986.7 627.4 L994.9 629.1 L1003.1 637.3 L1011.4 621.8 L1019.6 618.9 L1027.8 626.6 L1036 624.3 L1044.2 622.3 L1052.5 626.5 L1060.7 622.9 L1068.9 614.7 L1077.1 630.3 L1085.3 623.1 L1093.5 622.7 L1101.8 628.9 L1110 622.3 L1118.2 622.2 L1126.4 624.7 L1134.6 624 L1142.9 622" fill="none" stroke="#C15C17" stroke-width="1" stroke-linejoin="round"/><path d="M658 631.6 L666.2 623.1 L674.4 632.7 L682.7 628.1 L690.9 624.5 L699.1 635.5 L707.3 626.2 L715.5 627.6 L723.7 632.5 L732 628.4 L740.2 624.4 L748.4 634.5 L756.6 627.5 L764.8 626 L773 633.7 L781.3 626.9 L789.5 622.6 L797.7 631.1 L805.9 633.1 L814.1 627.1 L822.4 634.3 L830.6 630.2 L838.8 625 L847 628.5 L855.2 623.5 L863.4 627.1 L871.7 627.4 L879.9 631.8 L888.1 624.8 L896.3 627.8 L904.5 627.8 L912.8 624.5 L921 626.6 L929.2 630.3 L937.4 623.1 L945.6 628.1 L953.8 628.9 L962.1 621.6 L970.3 613.5 L978.5 612.2 L986.7 627.3 L994.9 629.8 L1003.1 637.9 L1011.4 622.8 L1019.6 618.4 L1027.8 626.5 L1036 625 L1044.2 622 L1052.5 626.5 L1060.7 624.2 L1068.9 614.8 L1077.1 646 L1085.3 621.5 L1093.5 621.6 L1101.8 629.1 L1110 622.8 L1118.2 618.9 L1126.4 624.6 L1134.6 624 L1142.9 623.8" fill="none" stroke="#890F02" stroke-width="1" stroke-linejoin="round"/><path d="M658 631.6 L666.2 623.5 L674.4 632.5 L682.7 628 L690.9 625.5 L699.1 634.3 L707.3 626.7 L715.5 627.6 L723.7 632.7 L732 628 L740.2 625 L748.4 634.9 L756.6 628.2 L764.8 625.5 L773 636.3 L781.3 627.6 L789.5 622 L797.7 630.4 L805.9 645.2 L814.1 625.9 L822.4 632.7 L830.6 629.4 L838.8 626.4 L847 628.4 L855.2 625.3 L863.4 626.2 L871.7 627.9 L879.9 631.2 L888.1 623.2 L896.3 628.2 L904.5 627.2 L912.8 623.9 L921 625.7 L929.2 633.2 L937.4 622 L945.6 626.8 L953.8 627.3 L962.1 646.8 L970.3 613.4 L978.5 611 L986.7 647 L994.9 629.4 L1003.1 637.9 L1011.4 623.5 L1019.6 619.1 L1027.8 628 L1036 624.3 L1044.2 622.7 L1052.5 626.6 L1060.7 623 L1068.9 614.9 L1077.1 629.1 L1085.3 621.4 L1093.5 621.9 L1101.8 630.4 L1110 624.1 L1118.2 622.9 L1126.4 625.9 L1134.6 624.7 L1142.9 623.8" fill="none" stroke="#0A437C" stroke-width="1" stroke-linejoin="round"/><path d="M658 630.3 L666.2 622.1 L674.4 632 L682.7 628.3 L690.9 625.1 L699.1 634.6 L707.3 627.3 L715.5 628.9 L723.7 634.1 L732 627.8 L740.2 624.4 L748.4 633.6 L756.6 643.6 L764.8 625.3 L773 635.1 L781.3 626.7 L789.5 622 L797.7 631.1 L805.9 631.7 L814.1 625.8 L822.4 632.2 L830.6 630.4 L838.8 627.2 L847 628.2 L855.2 623.8 L863.4 624.4 L871.7 627.4 L879.9 632 L888.1 624.1 L896.3 627.5 L904.5 629.3 L912.8 625.4 L921 626.1 L929.2 629.9 L937.4 621.9 L945.6 626.8 L953.8 627.5 L962.1 621.4 L970.3 614 L978.5 611.8 L986.7 626.4 L994.9 628.6 L1003.1 637.4 L1011.4 622.6 L1019.6 618.8 L1027.8 627 L1036 624.6 L1044.2 622.3 L1052.5 627.9 L1060.7 623.1 L1068.9 614.6 L1077.1 631.1 L1085.3 623.1 L1093.5 622 L1101.8 629.8 L1110 622.9 L1118.2 619.8 L1126.4 626.5 L1134.6 643.8 L1142.9 621.5" fill="none" stroke="#6D1F62" stroke-width="1" stroke-linejoin="round"/><path d="M658 630.4 L666.2 623.1 L674.4 633 L682.7 628 L690.9 625.6 L699.1 634.3 L707.3 624.9 L715.5 645.7 L723.7 634.1 L732 628.5 L740.2 625.7 L748.4 634 L756.6 627.7 L764.8 643.3 L773 634.8 L781.3 626.9 L789.5 623.2 L797.7 630.7 L805.9 632.7 L814.1 625.4 L822.4 632.5 L830.6 631.9 L838.8 625.7 L847 628 L855.2 624.1 L863.4 625.9 L871.7 628.2 L879.9 631.2 L888.1 623.3 L896.3 629.6 L904.5 627.7 L912.8 623.4 L921 627.2 L929.2 630 L937.4 622.1 L945.6 626.7 L953.8 626.8 L962.1 622.2 L970.3 613.3 L978.5 611.4 L986.7 626.6 L994.9 628.2 L1003.1 637 L1011.4 622.8 L1019.6 619.6 L1027.8 627.3 L1036 624.7 L1044.2 622 L1052.5 628 L1060.7 622.9 L1068.9 614.8 L1077.1 629.5 L1085.3 623.7 L1093.5 624.8 L1101.8 628.9 L1110 623 L1118.2 620.1 L1126.4 625.2 L1134.6 625.2 L1142.9 621.9" fill="none" stroke="#584477" stroke-width="1" stroke-linejoin="round"/><path d="M658 632.3 L666.2 623.1 L674.4 631.8 L682.7 628.3 L690.9 624.9 L699.1 635.1 L707.3 644.7 L715.5 628.3 L723.7 632.5 L732 628.4 L740.2 624.8 L748.4 634.7 L756.6 628.3 L764.8 625.2 L773 633.8 L781.3 627.1 L789.5 621 L797.7 630.5 L805.9 631.6 L814.1 625.2 L822.4 634 L830.6 630.5 L838.8 625.8 L847 627.6 L855.2 625.1 L863.4 626.3 L871.7 627.5 L879.9 634.1 L888.1 623.6 L896.3 627.3 L904.5 627.2 L912.8 624.8 L921 626.3 L929.2 631.6 L937.4 623 L945.6 626.5 L953.8 626.8 L962.1 622.2 L970.3 614.4 L978.5 612.4 L986.7 627.8 L994.9 628.8 L1003.1 647.4 L1011.4 621.9 L1019.6 618.8 L1027.8 628.4 L1036 625.4 L1044.2 645.3 L1052.5 626.4 L1060.7 625.7 L1068.9 616.5 L1077.1 629 L1085.3 622.2 L1093.5 622.6 L1101.8 629.1 L1110 622.5 L1118.2 619 L1126.4 624.4 L1134.6 623.9 L1142.9 622.2" fill="none" stroke="#B7DBAB" stroke-width="1" stroke-linejoin="round"/><path d="M658 650 L666.2 745.2 L674.4 650.4 L682.7 696 L690.9 649.9 L699.1 754 L707.3 650.8 L715.5 710.7 L723.7 649.8 L732 712.4 L740.2 649.7 L748.4 750.1 L756.6 650.3 L764.8 706.3 L773 649.9 L781.3 734.5 L789.5 648.5 L797.7 748.9 L805.9 649 L814.1 755 L822.4 650.5 L830.6 732.5 L838.8 648.7 L847 693.8 L855.2 649.6 L863.4 732.5 L871.7 650.2 L879.9 724.3 L888.1 650.3 L896.3 691.6 L904.5 648.8 L912.8 689.6 L921 649.6 L929.2 726.1 L937.4 650.7 L945.6 737.2 L953.8 648.3 L962.1 693.4 L970.3 648.4 L978.5 670.8 L986.7 648.7 L994.9 736.6 L1003.1 648.8 L1011.4 728.8 L1019.6 650.3 L1027.8 727.2 L1036 649.1 L1044.2 727.9 L1052.5 649.8 L1060.7 718.3 L1068.9 648.8 L1077.1 732.6 L1085.3 648.4 L1093.5 703 L1101.8 648.5 L1110 739.3 L1118.2 648.5 L1126.4 765.6 L1134.6 649.1 L1142.9 746.1" fill="none" stroke="#F4D598" stroke-width="1" stroke-linejoin="round"/><path d="M658 712.7 L666.2 650.2 L674.4 753 L682.7 650.5 L690.9 702.7 L699.1 649.4 L707.3 722.2 L715.5 650.7 L723.7 708.7 L732 650.5 L740.2 702.5 L748.4 650.4 L756.6 707.1 L764.8 650.4 L773 710.8 L781.3 648.6 L789.5 742.9 L797.7 649.2 L805.9 698.2 L814.1 650.5 L822.4 695.2 L830.6 649.9 L838.8 720.2 L847 649.3 L855.2 699.1 L863.4 650.6 L871.7 723 L879.9 650.6 L888.1 699.8 L896.3 649.9 L904.5 740.2 L912.8 648.6 L921 749.7 L929.2 649.2 L937.4 750.3 L945.6 650.2 L953.8 667.8 L962.1 648.8 L970.3 665.9 L978.5 649.4 L986.7 681.6 L994.9 775.7 L1003.1 684.2 L1011.4 650.3 L1019.6 715.1 L1027.8 650.5 L1036 741.9 L1044.2 648.8 L1052.5 730.9 L1060.7 649.5 L1068.9 723.2 L1077.1 648.8 L1085.3 745.4 L1093.5 648.6 L1101.8 749.5 L1110 650 L1118.2 756.7 L1126.4 650.4 L1134.6 704.4 L1142.9 649.1" fill="none" stroke="#70DBED" stroke-width="1" stroke-linejoin="round"/><path d="M658 648.8 L666.2 753.6 L674.4 649.6 L682.7 710.3 L690.9 648.9 L699.1 706.8 L707.3 650.6 L715.5 692 L723.7 650.5 L732 723.6 L740.2 650.9 L748.4 751.3 L756.6 649.4 L764.8 742 L773 649 L781.3 751.3 L789.5 650 L797.7 692.5 L805.9 648.7 L814.1 725.5 L822.4 649.5 L830.6 704.4 L838.8 650.1 L847 690.5 L855.2 649.3 L863.4 719.3 L871.7 650 L879.9 703.2 L888.1 649.2 L896.3 753.2 L904.5 648.9 L912.8 743.5 L921 649.4 L929.2 748.4 L937.4 650.3 L945.6 702.2 L953.8 648.9 L962.1 673.1 L970.3 648.5 L978.5 672.6 L986.7 649.5 L994.9 748.8 L1003.1 649.2 L1011.4 765.5 L1019.6 649.5 L1027.8 708.8 L1036 650.2 L1044.2 758.5 L1052.5 649.4 L1060.7 760.9 L1068.9 649 L1077.1 735.7 L1085.3 649.1 L1093.5 739.9 L1101.8 648.5 L1110 758.4 L1118.2 650.6 L1126.4 747.2 L1134.6 648.7 L1142.9 702.2" fill="none" stroke="#F9BA8F" stroke-width="1" stroke-linejoin="round"/><path d="M658 759.4 L666.2 649.4 L674.4 729.3 L682.7 649.3 L690.9 725.5 L699.1 649.5 L707.3 759.8 L715.5 649.6 L723.7 698.6 L732 650.4 L740.2 709.2 L748.4 649 L756.6 720.3 L764.8 649.2 L773 707.5 L781.3 649.6 L789.5 761.1 L797.7 649.1 L805.9 749.6 L814.1 648.6 L822.4 731.5 L830.6 648.6 L838.8 743 L847 650.3 L855.2 727.7 L863.4 649.7 L871.7 730.2 L879.9 650.5 L888.1 741.8 L896.3 648.8 L904.5 721.9 L912.8 649.2 L921 742.1 L929.2 650.1 L937.4 721.2 L945.6 648.8 L953.8 701.5 L962.1 649 L970.3 673.6 L978.5 649 L986.7 702.9 L994.9 760.6 L1003.1 705.1 L1011.4 649.4 L1019.6 734.2 L1027.8 649.4 L1036 705.6 L1044.2 648.4 L1052.5 703.2 L1060.7 648.6 L1068.9 692.3 L1077.1 649.3 L1085.3 720.8 L1093.5 650.1 L1101.8 707.3 L1110 648.3 L1118.2 741.2 L1126.4 649.9 L1134.6 706.3 L1142.9 649.3" fill="none" stroke="#F29191" stroke-width="1" stroke-linejoin="round"/><path d="M658 649.1 L666.2 740.3 L674.4 648.8 L682.7 735.4 L690.9 648.9 L699.1 699 L707.3 650.8 L715.5 695.2 L723.7 650.7 L732 703.7 L740.2 649.1 L748.4 737.4 L756.6 649.5 L764.8 694.8 L773 650.1 L781.3 752.6 L789.5 649 L797.7 750.8 L805.9 650.6 L814.1 757.6 L822.4 650.7 L830.6 741.5 L838.8 650.4 L847 732.5 L855.2 650.6 L863.4 756.4 L871.7 648.3 L879.9 704.3 L888.1 649 L896.3 757.2 L904.5 649.6 L912.8 724.8 L921 648.5 L929.2 766.9 L937.4 649.9 L945.6 729 L953.8 648.3 L962.1 691.7 L970.3 649 L978.5 677.3 L986.7 648.9 L994.9 741.8 L1003.1 649.4 L1011.4 716.1 L1019.6 649.2 L1027.8 723.3 L1036 649.8 L1044.2 740.9 L1052.5 650.4 L1060.7 706.3 L1068.9 650.7 L1077.1 752.5 L1085.3 650.2 L1093.5 742.5 L1101.8 649.6 L1110 761.3 L1118.2 650.9 L1126.4 700 L1134.6 650.5 L1142.9 728.6" fill="none" stroke="#82B5D8" stroke-width="1" stroke-linejoin="round"/><path d="M658 672.5 L666.2 681.4 L674.4 681.4 L682.7 669.5 L690.9 684.9 L699.1 676.9 L707.3 679.9 L715.5 681.4 L723.7 669.5 L732 673.9 L740.2 683.5 L748.4 676.9 L756.6 679.3 L764.8 682.3 L773 675.4 L781.3 669.5 L789.5 671 L797.7 693.3 L805.9 676.9 L814.1 673.3 L822.4 691.8 L830.6 678.4 L838.8 671.6 L847 671.9 L855.2 681.4 L863.4 673.3 L871.7 672.5 L879.9 694.2 L888.1 671 L896.3 669.5 L904.5 672.5 L912.8 673.9 L921 673.9 L929.2 676.9 L937.4 676.3 L945.6 677.8 L953.8 672.5 L962.1 666.5 L970.3 656.1 L978.5 671 L986.7 682.9 L994.9 685.8 L1003.1 681.4 L1011.4 665.6 L1019.6 672.5 L1027.8 673.3 L1036 672.5 L1044.2 675.4 L1052.5 672.5 L1060.7 666.5 L1068.9 667.4 L1077.1 671 L1085.3 669.5 L1093.5 677.5 L1101.8 672.5 L1110 670.4 L1118.2 669.5 L1126.4 671.9 L1134.6 668 L1142.9 666.5" fill="none" stroke="#E5A8E2" stroke-width="1.5" stroke-linejoin="round"/><path d="M658 630.6 L666.2 622.3 L674.4 632.1 L682.7 627.1 L690.9 624.1 L699.1 634.5 L707.3 625.3 L715.5 627.6 L723.7 632.1 L732 627.6 L740.2 624.7 L748.4 633.6 L756.6 627.6 L764.8 625.3 L773 633.6 L781.3 627.1 L789.5 621.1 L797.7 630.6 L805.9 631.2 L814.1 625.6 L822.4 632.1 L830.6 629.7 L838.8 625.3 L847 627.6 L855.2 623.2 L863.4 624.7 L871.7 627.6 L879.9 631.2 L888.1 623.2 L896.3 627.6 L904.5 627.1 L912.8 623.2 L921 626.2 L929.2 630 L937.4 622.3 L945.6 626.8 L953.8 626.8 L962.1 621.7 L970.3 613.4 L978.5 611.3 L986.7 626.2 L994.9 628.2 L1003.1 636.6 L1011.4 621.7 L1019.6 618.7 L1027.8 626.8 L1036 624.7 L1044.2 622.3 L1052.5 626.8 L1060.7 623.2 L1068.9 614.9 L1077.1 629.1 L1085.3 621.7 L1093.5 621.7 L1101.8 629.1 L1110 622.3 L1118.2 619.3 L1126.4 624.7 L1134.6 623.2 L1142.9 621.7" fill="none" stroke="#AEA2E0" stroke-width="1.5" stroke-linejoin="round"/><path d="M813.8 625.5 L815.1 657.4 L816.4 625.5" fill="none" stroke="#C15C17" stroke-width="1" stroke-opacity="0.85"/><path d="M822.4 633.3 L823.7 655.5 L825 633.3" fill="none" stroke="#705DA0" stroke-width="1" stroke-opacity="0.85"/><path d="M852.2 624.4 L853.5 658.9 L854.8 624.4" fill="none" stroke="#508642" stroke-width="1" stroke-opacity="0.85"/><path d="M862.3 625.3 L863.6 650.4 L864.9 625.3" fill="none" stroke="#CCA300" stroke-width="1" stroke-opacity="0.85"/><path d="M985 626.8 L986.3 649.2 L987.6 626.8" fill="none" stroke="#447EBC" stroke-width="1" stroke-opacity="0.85"/><path d="M1009.5 621.4 L1010.8 657.9 L1012.1 621.4" fill="none" stroke="#BA43A9" stroke-width="1" stroke-opacity="0.85"/><path d="M1053.8 628.2 L1055.1 653.4 L1056.4 628.2" fill="none" stroke="#BA43A9" stroke-width="1" stroke-opacity="0.85"/><path d="M1061.6 623 L1062.9 654.7 L1064.2 623" fill="none" stroke="#508642" stroke-width="1" stroke-opacity="0.85"/><path d="M1081.9 621.4 L1083.2 650.2 L1084.5 621.4" fill="none" stroke="#508642" stroke-width="1" stroke-opacity="0.85"/><path d="M708 625.7 L709.3 651.9 L710.6 625.7" fill="none" stroke="#B7DBAB" stroke-width="1" stroke-opacity="0.85"/><path d="M757.6 629 L758.9 658.2 L760.2 629" fill="none" stroke="#B7DBAB" stroke-width="1" stroke-opacity="0.85"/><path d="M805.7 631.7 L807 651.7 L808.3 631.7" fill="none" stroke="#CCA300" stroke-width="1" stroke-opacity="0.85"/><path d="M860.9 624.8 L862.2 655.6 L863.5 624.8" fill="none" stroke="#C15C17" stroke-width="1" stroke-opacity="0.85"/><path d="M1125.3 624.5 L1126.6 648.3 L1127.9 624.5" fill="none" stroke="#447EBC" stroke-width="1" stroke-opacity="0.85"/><path d="M801.8 632 L803.1 648.9 L804.4 632" fill="none" stroke="#447EBC" stroke-width="1" stroke-opacity="0.85"/><path d="M911.1 623.3 L912.4 657.4 L913.7 623.3" fill="none" stroke="#B7DBAB" stroke-width="1" stroke-opacity="0.85"/><path d="M1041.4 622.1 L1042.7 653.2 L1044 622.1" fill="none" stroke="#BA43A9" stroke-width="1" stroke-opacity="0.85"/><path d="M1052.9 627.1 L1054.2 649.1 L1055.5 627.1" fill="none" stroke="#BA43A9" stroke-width="1" stroke-opacity="0.85"/><path d="M1114.1 619.4 L1115.4 652 L1116.7 619.4" fill="none" stroke="#CCA300" stroke-width="1" stroke-opacity="0.85"/><path d="M674.8 631.7 L676.1 650.8 L677.4 631.7" fill="none" stroke="#CCA300" stroke-width="1" stroke-opacity="0.85"/><path d="M679.4 626.9 L680.7 651.2 L682 626.9" fill="none" stroke="#C15C17" stroke-width="1" stroke-opacity="0.85"/><path d="M692.1 624.2 L693.4 656.6 L694.7 624.2" fill="none" stroke="#508642" stroke-width="1" stroke-opacity="0.85"/><path d="M723.5 634.1 L724.8 656.1 L726.1 634.1" fill="none" stroke="#508642" stroke-width="1" stroke-opacity="0.85"/><path d="M728.2 627.7 L729.5 656.4 L730.8 627.7" fill="none" stroke="#B7DBAB" stroke-width="1" stroke-opacity="0.85"/><path d="M795.5 631 L796.8 655 L798.1 631" fill="none" stroke="#CCA300" stroke-width="1" stroke-opacity="0.85"/><path d="M821.9 631.8 L823.2 653.9 L824.5 631.8" fill="none" stroke="#BA43A9" stroke-width="1" stroke-opacity="0.85"/><path d="M971.7 613.2 L973 649.7 L974.3 613.2" fill="none" stroke="#BA43A9" stroke-width="1" stroke-opacity="0.85"/><path d="M1001.4 636.5 L1002.7 649.1 L1004 636.5" fill="none" stroke="#C15C17" stroke-width="1" stroke-opacity="0.85"/><path d="M1085.1 623.1 L1086.4 656.5 L1087.7 623.1" fill="none" stroke="#447EBC" stroke-width="1" stroke-opacity="0.85"/><path d="M663.4 622.4 L664.7 651.1 L666 622.4" fill="none" stroke="#BA43A9" stroke-width="1" stroke-opacity="0.85"/><path d="M670.2 632.5 L671.5 658.4 L672.8 632.5" fill="none" stroke="#CCA300" stroke-width="1" stroke-opacity="0.85"/><path d="M684.1 627.3 L685.4 655 L686.7 627.3" fill="none" stroke="#BA43A9" stroke-width="1" stroke-opacity="0.85"/><path d="M723.3 632.3 L724.6 653.7 L725.9 632.3" fill="none" stroke="#CCA300" stroke-width="1" stroke-opacity="0.85"/><path d="M731.2 627.6 L732.5 652 L733.8 627.6" fill="none" stroke="#508642" stroke-width="1" stroke-opacity="0.85"/><path d="M764.9 625.2 L766.2 653.5 L767.5 625.2" fill="none" stroke="#705DA0" stroke-width="1" stroke-opacity="0.85"/><path d="M797.8 632.8 L799.1 651 L800.4 632.8" fill="none" stroke="#447EBC" stroke-width="1" stroke-opacity="0.85"/><path d="M844.2 627.4 L845.5 650.7 L846.8 627.4" fill="none" stroke="#B7DBAB" stroke-width="1" stroke-opacity="0.85"/><path d="M904 626.7 L905.3 658.4 L906.6 626.7" fill="none" stroke="#B7DBAB" stroke-width="1" stroke-opacity="0.85"/><path d="M909.6 623.3 L910.9 648.8 L912.2 623.3" fill="none" stroke="#447EBC" stroke-width="1" stroke-opacity="0.85"/><path d="M944.5 627.7 L945.8 650.4 L947.1 627.7" fill="none" stroke="#C15C17" stroke-width="1" stroke-opacity="0.85"/><path d="M951.6 626.4 L952.9 649.8 L954.2 626.4" fill="none" stroke="#447EBC" stroke-width="1" stroke-opacity="0.85"/><path d="M979.9 611.9 L981.2 652.1 L982.5 611.9" fill="none" stroke="#508642" stroke-width="1" stroke-opacity="0.85"/><path d="M1049.2 626.6 L1050.5 650.7 L1051.8 626.6" fill="none" stroke="#BA43A9" stroke-width="1" stroke-opacity="0.85"/><path d="M1102.5 629.3 L1103.8 656.1 L1105.1 629.3" fill="none" stroke="#CCA300" stroke-width="1" stroke-opacity="0.85"/><path d="M732.9 628.1 L734.2 654.9 L735.5 628.1" fill="none" stroke="#CCA300" stroke-width="1" stroke-opacity="0.85"/><path d="M785.3 621.4 L786.6 653.6 L787.9 621.4" fill="none" stroke="#CCA300" stroke-width="1" stroke-opacity="0.85"/><path d="M852.6 624 L853.9 656.6 L855.2 624" fill="none" stroke="#705DA0" stroke-width="1" stroke-opacity="0.85"/><path d="M909 622.9 L910.3 649.7 L911.6 622.9" fill="none" stroke="#B7DBAB" stroke-width="1" stroke-opacity="0.85"/><path d="M954.3 626.6 L955.6 650.6 L956.9 626.6" fill="none" stroke="#705DA0" stroke-width="1" stroke-opacity="0.85"/><path d="M960.3 621.8 L961.6 658.3 L962.9 621.8" fill="none" stroke="#447EBC" stroke-width="1" stroke-opacity="0.85"/><path d="M978.8 612.9 L980.1 651.4 L981.4 612.9" fill="none" stroke="#508642" stroke-width="1" stroke-opacity="0.85"/><path d="M995.7 629.1 L997 656.3 L998.3 629.1" fill="none" stroke="#B7DBAB" stroke-width="1" stroke-opacity="0.85"/><path d="M1012.8 621.8 L1014.1 651.6 L1015.4 621.8" fill="none" stroke="#508642" stroke-width="1" stroke-opacity="0.85"/><path d="M1035.3 624.3 L1036.6 649 L1037.9 624.3" fill="none" stroke="#CCA300" stroke-width="1" stroke-opacity="0.85"/><path d="M1132.3 624 L1133.6 649.7 L1134.9 624" fill="none" stroke="#508642" stroke-width="1" stroke-opacity="0.85"/><path d="M703 626.2 L704.3 656.1 L705.6 626.2" fill="none" stroke="#B7DBAB" stroke-width="1" stroke-opacity="0.85"/><path d="M722 632.5 L723.3 652.9 L724.6 632.5" fill="none" stroke="#705DA0" stroke-width="1" stroke-opacity="0.85"/><path d="M728.8 628.4 L730.1 658.3 L731.4 628.4" fill="none" stroke="#CCA300" stroke-width="1" stroke-opacity="0.85"/><path d="M748.5 634.5 L749.8 655.9 L751.1 634.5" fill="none" stroke="#508642" stroke-width="1" stroke-opacity="0.85"/><path d="M871.6 627.4 L872.9 655.7 L874.2 627.4" fill="none" stroke="#508642" stroke-width="1" stroke-opacity="0.85"/><path d="M986 627.3 L987.3 652 L988.6 627.3" fill="none" stroke="#508642" stroke-width="1" stroke-opacity="0.85"/><path d="M1000.8 637.9 L1002.1 655.5 L1003.4 637.9" fill="none" stroke="#447EBC" stroke-width="1" stroke-opacity="0.85"/><path d="M1090.3 621.6 L1091.6 649.3 L1092.9 621.6" fill="none" stroke="#B7DBAB" stroke-width="1" stroke-opacity="0.85"/><path d="M671.4 632.5 L672.7 656.6 L674 632.5" fill="none" stroke="#508642" stroke-width="1" stroke-opacity="0.85"/><path d="M682.4 628 L683.7 658.1 L685 628" fill="none" stroke="#C15C17" stroke-width="1" stroke-opacity="0.85"/><path d="M757.6 628.2 L758.9 657.3 L760.2 628.2" fill="none" stroke="#447EBC" stroke-width="1" stroke-opacity="0.85"/><path d="M812.3 625.9 L813.6 654.2 L814.9 625.9" fill="none" stroke="#447EBC" stroke-width="1" stroke-opacity="0.85"/><path d="M840.3 626.4 L841.6 648.6 L842.9 626.4" fill="none" stroke="#CCA300" stroke-width="1" stroke-opacity="0.85"/><path d="M896.9 628.2 L898.2 649 L899.5 628.2" fill="none" stroke="#C15C17" stroke-width="1" stroke-opacity="0.85"/><path d="M912.3 623.9 L913.6 658.9 L914.9 623.9" fill="none" stroke="#508642" stroke-width="1" stroke-opacity="0.85"/><path d="M929.9 633.2 L931.2 656.1 L932.5 633.2" fill="none" stroke="#BA43A9" stroke-width="1" stroke-opacity="0.85"/><path d="M1081.4 621.4 L1082.7 648.6 L1084 621.4" fill="none" stroke="#CCA300" stroke-width="1" stroke-opacity="0.85"/><path d="M1125.6 625.9 L1126.9 655.8 L1128.2 625.9" fill="none" stroke="#508642" stroke-width="1" stroke-opacity="0.85"/><path d="M663.9 622.1 L665.2 657.1 L666.5 622.1" fill="none" stroke="#508642" stroke-width="1" stroke-opacity="0.85"/><path d="M723.7 634.1 L725 656 L726.3 634.1" fill="none" stroke="#447EBC" stroke-width="1" stroke-opacity="0.85"/><path d="M745.1 633.6 L746.4 658.7 L747.7 633.6" fill="none" stroke="#447EBC" stroke-width="1" stroke-opacity="0.85"/><path d="M788.4 622 L789.7 650.7 L791 622" fill="none" stroke="#447EBC" stroke-width="1" stroke-opacity="0.85"/><path d="M837.8 627.2 L839.1 653.3 L840.4 627.2" fill="none" stroke="#CCA300" stroke-width="1" stroke-opacity="0.85"/><path d="M886.2 624.1 L887.5 655.4 L888.8 624.1" fill="none" stroke="#508642" stroke-width="1" stroke-opacity="0.85"/><path d="M980 611.8 L981.3 656.4 L982.6 611.8" fill="none" stroke="#B7DBAB" stroke-width="1" stroke-opacity="0.85"/><path d="M983.9 626.4 L985.2 652.7 L986.5 626.4" fill="none" stroke="#CCA300" stroke-width="1" stroke-opacity="0.85"/><path d="M1018.1 618.8 L1019.4 650.6 L1020.7 618.8" fill="none" stroke="#447EBC" stroke-width="1" stroke-opacity="0.85"/><path d="M1117.3 619.8 L1118.6 655.7 L1119.9 619.8" fill="none" stroke="#508642" stroke-width="1" stroke-opacity="0.85"/><path d="M719.6 634.1 L720.9 658.1 L722.2 634.1" fill="none" stroke="#CCA300" stroke-width="1" stroke-opacity="0.85"/><path d="M746.7 634 L748 658.4 L749.3 634" fill="none" stroke="#BA43A9" stroke-width="1" stroke-opacity="0.85"/><path d="M818.8 632.5 L820.1 656.3 L821.4 632.5" fill="none" stroke="#508642" stroke-width="1" stroke-opacity="0.85"/><path d="M885.1 623.3 L886.4 654.8 L887.7 623.3" fill="none" stroke="#CCA300" stroke-width="1" stroke-opacity="0.85"/><path d="M977.7 611.4 L979 648.7 L980.3 611.4" fill="none" stroke="#CCA300" stroke-width="1" stroke-opacity="0.85"/><path d="M1124.7 625.2 L1126 658.2 L1127.3 625.2" fill="none" stroke="#C15C17" stroke-width="1" stroke-opacity="0.85"/><path d="M672.4 631.8 L673.7 652.2 L675 631.8" fill="none" stroke="#C15C17" stroke-width="1" stroke-opacity="0.85"/><path d="M772.8 633.8 L774.1 649.1 L775.4 633.8" fill="none" stroke="#705DA0" stroke-width="1" stroke-opacity="0.85"/><path d="M787.5 621 L788.8 651.7 L790.1 621" fill="none" stroke="#CCA300" stroke-width="1" stroke-opacity="0.85"/><path d="M802.4 631.6 L803.7 651 L805 631.6" fill="none" stroke="#508642" stroke-width="1" stroke-opacity="0.85"/><path d="M828.3 630.5 L829.6 650.3 L830.9 630.5" fill="none" stroke="#447EBC" stroke-width="1" stroke-opacity="0.85"/><path d="M893.8 627.3 L895.1 652.1 L896.4 627.3" fill="none" stroke="#508642" stroke-width="1" stroke-opacity="0.85"/><path d="M902 627.2 L903.3 652.1 L904.6 627.2" fill="none" stroke="#447EBC" stroke-width="1" stroke-opacity="0.85"/><path d="M926.4 631.6 L927.7 658.3 L929 631.6" fill="none" stroke="#BA43A9" stroke-width="1" stroke-opacity="0.85"/><path d="M936.5 623 L937.8 648.3 L939.1 623" fill="none" stroke="#BA43A9" stroke-width="1" stroke-opacity="0.85"/><path d="M969.7 614.4 L971 658.8 L972.3 614.4" fill="none" stroke="#CCA300" stroke-width="1" stroke-opacity="0.85"/><path d="M670.7 631.8 L672 648.5 L673.3 631.8" fill="none" stroke="#705DA0" stroke-width="1" stroke-opacity="0.85"/><path d="M678.8 626.9 L680.1 648.5 L681.4 626.9" fill="none" stroke="#447EBC" stroke-width="1" stroke-opacity="0.85"/><path d="M728.7 628.6 L730 650.4 L731.3 628.6" fill="none" stroke="#CCA300" stroke-width="1" stroke-opacity="0.85"/><path d="M745.1 634.5 L746.4 651.6 L747.7 634.5" fill="none" stroke="#447EBC" stroke-width="1" stroke-opacity="0.85"/><path d="M780.3 626.7 L781.6 656.3 L782.9 626.7" fill="none" stroke="#CCA300" stroke-width="1" stroke-opacity="0.85"/><path d="M798.6 630.6 L799.9 652.8 L801.2 630.6" fill="none" stroke="#CCA300" stroke-width="1" stroke-opacity="0.85"/><path d="M802.6 631.9 L803.9 656.9 L805.2 631.9" fill="none" stroke="#508642" stroke-width="1" stroke-opacity="0.85"/><path d="M840 627.2 L841.3 657.5 L842.6 627.2" fill="none" stroke="#705DA0" stroke-width="1" stroke-opacity="0.85"/><path d="M879.3 634.4 L880.6 655.6 L881.9 634.4" fill="none" stroke="#CCA300" stroke-width="1" stroke-opacity="0.85"/><path d="M921.3 626.1 L922.6 658.7 L923.9 626.1" fill="none" stroke="#508642" stroke-width="1" stroke-opacity="0.85"/><path d="M987.8 625.9 L989.1 649 L990.4 625.9" fill="none" stroke="#BA43A9" stroke-width="1" stroke-opacity="0.85"/><path d="M1042.2 622.3 L1043.5 655.5 L1044.8 622.3" fill="none" stroke="#BA43A9" stroke-width="1" stroke-opacity="0.85"/><path d="M1051.8 627.4 L1053.1 656.4 L1054.4 627.4" fill="none" stroke="#447EBC" stroke-width="1" stroke-opacity="0.85"/><line x1="658" x2="1142.9" y1="648.3" y2="648.3" stroke="#e8b8b0" stroke-width="1.6" stroke-opacity="0.9"/></g><text class="ax" x="0" y="0" transform="translate(621.5,718.5) rotate(-90)" text-anchor="middle">ops/s</text></svg>
<div class="lg" style="left:618px;top:849.5px;letter-spacing:0px"><span class="li"><i style="background:#7EB26D"></i>sdb-w  Avg: -128</span><span class="li"><i style="background:#EAB839"></i>sdc-w  Avg: -120</span><span class="li"><i style="background:#6ED0E0"></i>sdd-w  Avg: -120</span><span class="li"><i style="background:#EF843C"></i>sde-w  Avg: -127</span></div>
<div class="lg" style="left:618px;top:867.5px;letter-spacing:0px"><span class="li"><i style="background:#E24D42"></i>sdf-w  Avg: -125</span><span class="li"><i style="background:#1F78C1"></i>sdg-w  Avg: -157</span><span class="li"><i style="background:#BA43A9"></i>sdb-r  Avg: 107</span><span class="li"><i style="background:#705DA0"></i>sdc-r  Avg: 106</span></div>
<div class="lg" style="left:618px;top:885.5px;letter-spacing:0px"><span class="li"><i style="background:#508642"></i>sdd-r  Avg: 106</span><span class="li"><i style="background:#CCA300"></i>sde-r  Avg: 106</span><span class="li"><i style="background:#447EBC"></i>sdf-r  Avg: 106</span><span class="li"><i style="background:#C15C17"></i>sdg-r  Avg: 106</span><span class="li"><i style="background:#890F02"></i>sdh-r  Avg: 106</span></div>
<div class="lg" style="left:618px;top:903.5px;letter-spacing:0px"><span class="li"><i style="background:#0A437C"></i>sdi-r  Avg: 106</span><span class="li"><i style="background:#6D1F62"></i>sdj-r  Avg: 105</span><span class="li"><i style="background:#584477"></i>sdk-r  Avg: 107</span><span class="li"><i style="background:#B7DBAB"></i>sdl-r  Avg: 107</span><span class="li"><i style="background:#F4D598"></i>sdh-w  Avg: -125</span></div>
<div class="lg" style="left:618px;top:921.5px;letter-spacing:0px"><span class="li"><i style="background:#70DBED"></i>sdi-w  Avg: -126</span><span class="li"><i style="background:#F9BA8F"></i>sdj-w  Avg: -123</span><span class="li"><i style="background:#F29191"></i>sdk-w  Avg: -125</span><span class="li"><i style="background:#82B5D8"></i>sdl-w  Avg: -121</span></div>
<div class="lg" style="left:618px;top:939.5px;letter-spacing:0px"><span class="li"><i style="background:#E5A8E2"></i>Mean-W  Avg: -127</span><span class="li"><i style="background:#AEA2E0"></i>Mean-R  Avg: 106</span></div>
<div class="pn" style="left:1188px;top:555px;width:582px;height:410px"></div>
<div class="pt" style="left:1188px;top:561.8px;width:582px">Disk Utilization</div>
<svg width="1786" height="975"><g stroke="rgba(204,204,220,0.22)" stroke-width="1"><line x1="1232.5" x2="1745" y1="626.5" y2="626.5" /><line x1="1232.5" x2="1745" y1="679.5" y2="679.5" /><line x1="1232.5" x2="1745" y1="731.5" y2="731.5" /><line x1="1232.5" x2="1745" y1="784.5" y2="784.5" /><line x1="1232.5" x2="1745" y1="836.5" y2="836.5" /><line x1="1241.5" x2="1241.5" y1="605" y2="836" /><line x1="1343.5" x2="1343.5" y1="605" y2="836" /><line x1="1444.5" x2="1444.5" y1="605" y2="836" /><line x1="1546.5" x2="1546.5" y1="605" y2="836" /><line x1="1647.5" x2="1647.5" y1="605" y2="836" /></g><g class="ax"><text x="1228.3" y="629.5" text-anchor="end">100%</text><text x="1228.3" y="682" text-anchor="end">75%</text><text x="1228.3" y="734.5" text-anchor="end">50%</text><text x="1228.3" y="787" text-anchor="end">25%</text><text x="1228.3" y="839.5" text-anchor="end">0%</text><text x="1241.8" y="854.9" text-anchor="middle">15:02</text><text x="1343.3" y="854.9" text-anchor="middle">15:04</text><text x="1444.8" y="854.9" text-anchor="middle">15:06</text><text x="1546.3" y="854.9" text-anchor="middle">15:08</text><text x="1647.7" y="854.9" text-anchor="middle">15:10</text></g><path d="M1232.5 836.5 L1241 836.5 L1249.4 836.5 L1257.9 836.5 L1266.3 836.5 L1274.8 836.5 L1283.2 836.5 L1291.7 836.5 L1300.2 836.5 L1308.6 836.5 L1317.1 836.5 L1325.5 836.5 L1334 836.5 L1342.4 836.5 L1350.9 836.5 L1359.4 836.5 L1367.8 836.5 L1376.3 836.5 L1384.7 836.5 L1393.2 836.5 L1401.6 836.5 L1410.1 836.5 L1418.6 836.5 L1427 836.5 L1435.5 836.5 L1443.9 836.5 L1452.4 836.5 L1460.8 836.5 L1469.3 836.5 L1477.8 836.5 L1486.2 836.5 L1494.7 836.5 L1503.1 836.5 L1511.6 836.5 L1520 836.5 L1528.5 836.5 L1537 836.5 L1545.4 836.5 L1553.9 836.5 L1562.3 836.5 L1570.8 836.5 L1579.2 836.5 L1587.7 836.5 L1596.2 836.5 L1604.6 836.5 L1613.1 836.5 L1621.5 836.5 L1630 836.5 L1638.4 836.5 L1646.9 836.5 L1655.4 836.5 L1663.8 836.5 L1672.3 836.5 L1680.7 836.5 L1689.2 836.5 L1697.6 836.5 L1706.1 836.5 L1714.6 836.5 L1723 836.5 L1731.5 836.5 L1731.5 836.5 L1723 836.5 L1714.6 836.5 L1706.1 836.5 L1697.6 836.5 L1689.2 836.5 L1680.7 836.5 L1672.3 836.5 L1663.8 836.5 L1655.4 836.5 L1646.9 836.5 L1638.4 836.5 L1630 836.5 L1621.5 836.5 L1613.1 836.5 L1604.6 836.5 L1596.2 836.5 L1587.7 836.5 L1579.2 836.5 L1570.8 836.5 L1562.3 836.5 L1553.9 836.5 L1545.4 836.5 L1537 836.5 L1528.5 836.5 L1520 836.5 L1511.6 836.5 L1503.1 836.5 L1494.7 836.5 L1486.2 836.5 L1477.8 836.5 L1469.3 836.5 L1460.8 836.5 L1452.4 836.5 L1443.9 836.5 L1435.5 836.5 L1427 836.5 L1418.6 836.5 L1410.1 836.5 L1401.6 836.5 L1393.2 836.5 L1384.7 836.5 L1376.3 836.5 L1367.8 836.5 L1359.4 836.5 L1350.9 836.5 L1342.4 836.5 L1334 836.5 L1325.5 836.5 L1317.1 836.5 L1308.6 836.5 L1300.2 836.5 L1291.7 836.5 L1283.2 836.5 L1274.8 836.5 L1266.3 836.5 L1257.9 836.5 L1249.4 836.5 L1241 836.5 L1232.5 836.5 Z" fill="#7EB26D" fill-opacity="0.1" stroke="none"/><path d="M1232.5 703 L1241 680.6 L1249.4 697.2 L1257.9 685.7 L1266.3 683.3 L1274.8 722.6 L1283.2 685.1 L1291.7 687.4 L1300.2 708.4 L1308.6 697.9 L1317.1 687.7 L1325.5 713.9 L1334 690.6 L1342.4 684.7 L1350.9 716.1 L1359.4 686.2 L1367.8 667.9 L1376.3 705.3 L1384.7 711.2 L1393.2 686.8 L1401.6 712.9 L1410.1 698 L1418.6 689.7 L1427 698.6 L1435.5 675.8 L1443.9 685.3 L1452.4 694.6 L1460.8 706 L1469.3 677.5 L1477.8 696.5 L1486.2 695.2 L1494.7 684.1 L1503.1 686.2 L1511.6 700.8 L1520 670.5 L1528.5 688.4 L1537 692 L1545.4 676.6 L1553.9 648.7 L1562.3 641.6 L1570.8 690.5 L1579.2 692.7 L1587.7 736.4 L1596.2 679.2 L1604.6 663.2 L1613.1 683 L1621.5 680.8 L1630 673.2 L1638.4 691.1 L1646.9 681.5 L1655.4 648.1 L1663.8 700.9 L1672.3 678.5 L1680.7 669.5 L1689.2 698.6 L1697.6 671.7 L1706.1 661.6 L1714.6 684.6 L1723 683.7 L1731.5 669.3 L1731.5 836.5 L1723 836.5 L1714.6 836.5 L1706.1 836.5 L1697.6 836.5 L1689.2 836.5 L1680.7 836.5 L1672.3 836.5 L1663.8 836.5 L1655.4 836.5 L1646.9 836.5 L1638.4 836.5 L1630 836.5 L1621.5 836.5 L1613.1 836.5 L1604.6 836.5 L1596.2 836.5 L1587.7 836.5 L1579.2 836.5 L1570.8 836.5 L1562.3 836.5 L1553.9 836.5 L1545.4 836.5 L1537 836.5 L1528.5 836.5 L1520 836.5 L1511.6 836.5 L1503.1 836.5 L1494.7 836.5 L1486.2 836.5 L1477.8 836.5 L1469.3 836.5 L1460.8 836.5 L1452.4 836.5 L1443.9 836.5 L1435.5 836.5 L1427 836.5 L1418.6 836.5 L1410.1 836.5 L1401.6 836.5 L1393.2 836.5 L1384.7 836.5 L1376.3 836.5 L1367.8 836.5 L1359.4 836.5 L1350.9 836.5 L1342.4 836.5 L1334 836.5 L1325.5 836.5 L1317.1 836.5 L1308.6 836.5 L1300.2 836.5 L1291.7 836.5 L1283.2 836.5 L1274.8 836.5 L1266.3 836.5 L1257.9 836.5 L1249.4 836.5 L1241 836.5 L1232.5 836.5 Z" fill="#EAB839" fill-opacity="0.1" stroke="none"/><path d="M1232.5 701.9 L1241 676.6 L1249.4 697.6 L1257.9 678.6 L1266.3 678.4 L1274.8 717.2 L1283.2 678.6 L1291.7 689.3 L1300.2 711.5 L1308.6 702.3 L1317.1 680.5 L1325.5 712.3 L1334 692.5 L1342.4 687.1 L1350.9 711.2 L1359.4 694.4 L1367.8 665.3 L1376.3 707.9 L1384.7 705.4 L1393.2 688.3 L1401.6 715.1 L1410.1 703.5 L1418.6 687.4 L1427 694.9 L1435.5 675.4 L1443.9 680.9 L1452.4 698.1 L1460.8 702.1 L1469.3 666.1 L1477.8 696.9 L1486.2 694.2 L1494.7 677.9 L1503.1 692.8 L1511.6 697.1 L1520 670.9 L1528.5 687 L1537 693 L1545.4 674.4 L1553.9 652.4 L1562.3 645.8 L1570.8 690.6 L1579.2 691.2 L1587.7 730.3 L1596.2 679.6 L1604.6 662.9 L1613.1 691.1 L1621.5 683.6 L1630 676.7 L1638.4 691.1 L1646.9 680.2 L1655.4 654.5 L1663.8 697.3 L1672.3 672.5 L1680.7 668.9 L1689.2 701.1 L1697.6 678.1 L1706.1 659.5 L1714.6 682.9 L1723 682.7 L1731.5 669.8 L1731.5 836.5 L1723 836.5 L1714.6 836.5 L1706.1 836.5 L1697.6 836.5 L1689.2 836.5 L1680.7 836.5 L1672.3 836.5 L1663.8 836.5 L1655.4 836.5 L1646.9 836.5 L1638.4 836.5 L1630 836.5 L1621.5 836.5 L1613.1 836.5 L1604.6 836.5 L1596.2 836.5 L1587.7 836.5 L1579.2 836.5 L1570.8 836.5 L1562.3 836.5 L1553.9 836.5 L1545.4 836.5 L1537 836.5 L1528.5 836.5 L1520 836.5 L1511.6 836.5 L1503.1 836.5 L1494.7 836.5 L1486.2 836.5 L1477.8 836.5 L1469.3 836.5 L1460.8 836.5 L1452.4 836.5 L1443.9 836.5 L1435.5 836.5 L1427 836.5 L1418.6 836.5 L1410.1 836.5 L1401.6 836.5 L1393.2 836.5 L1384.7 836.5 L1376.3 836.5 L1367.8 836.5 L1359.4 836.5 L1350.9 836.5 L1342.4 836.5 L1334 836.5 L1325.5 836.5 L1317.1 836.5 L1308.6 836.5 L1300.2 836.5 L1291.7 836.5 L1283.2 836.5 L1274.8 836.5 L1266.3 836.5 L1257.9 836.5 L1249.4 836.5 L1241 836.5 L1232.5 836.5 Z" fill="#6ED0E0" fill-opacity="0.1" stroke="none"/><path d="M1232.5 703.5 L1241 671.5 L1249.4 702.8 L1257.9 685.5 L1266.3 678.3 L1274.8 719 L1283.2 685.3 L1291.7 688.8 L1300.2 708.2 L1308.6 697.4 L1317.1 684.7 L1325.5 713.4 L1334 688.5 L1342.4 678 L1350.9 719.7 L1359.4 689.1 L1367.8 663.9 L1376.3 699.4 L1384.7 703.8 L1393.2 685.6 L1401.6 703.1 L1410.1 705.7 L1418.6 688.3 L1427 697 L1435.5 678.5 L1443.9 686.1 L1452.4 695.1 L1460.8 707.4 L1469.3 678.2 L1477.8 696.6 L1486.2 689.1 L1494.7 677.5 L1503.1 687.3 L1511.6 698.9 L1520 670.3 L1528.5 685.4 L1537 692.7 L1545.4 677.5 L1553.9 643.5 L1562.3 646.8 L1570.8 689.1 L1579.2 694.5 L1587.7 728.2 L1596.2 674.2 L1604.6 663.9 L1613.1 682.9 L1621.5 688.9 L1630 675.9 L1638.4 693.5 L1646.9 681 L1655.4 649.4 L1663.8 707.3 L1672.3 672.5 L1680.7 677.5 L1689.2 700.8 L1697.6 670.9 L1706.1 662.5 L1714.6 685.5 L1723 682.7 L1731.5 667.8 L1731.5 836.5 L1723 836.5 L1714.6 836.5 L1706.1 836.5 L1697.6 836.5 L1689.2 836.5 L1680.7 836.5 L1672.3 836.5 L1663.8 836.5 L1655.4 836.5 L1646.9 836.5 L1638.4 836.5 L1630 836.5 L1621.5 836.5 L1613.1 836.5 L1604.6 836.5 L1596.2 836.5 L1587.7 836.5 L1579.2 836.5 L1570.8 836.5 L1562.3 836.5 L1553.9 836.5 L1545.4 836.5 L1537 836.5 L1528.5 836.5 L1520 836.5 L1511.6 836.5 L1503.1 836.5 L1494.7 836.5 L1486.2 836.5 L1477.8 836.5 L1469.3 836.5 L1460.8 836.5 L1452.4 836.5 L1443.9 836.5 L1435.5 836.5 L1427 836.5 L1418.6 836.5 L1410.1 836.5 L1401.6 836.5 L1393.2 836.5 L1384.7 836.5 L1376.3 836.5 L1367.8 836.5 L1359.4 836.5 L1350.9 836.5 L1342.4 836.5 L1334 836.5 L1325.5 836.5 L1317.1 836.5 L1308.6 836.5 L1300.2 836.5 L1291.7 836.5 L1283.2 836.5 L1274.8 836.5 L1266.3 836.5 L1257.9 836.5 L1249.4 836.5 L1241 836.5 L1232.5 836.5 Z" fill="#EF843C" fill-opacity="0.1" stroke="none"/><path d="M1232.5 696.5 L1241 676.3 L1249.4 701 L1257.9 688 L1266.3 679 L1274.8 714.8 L1283.2 682.9 L1291.7 682.7 L1300.2 708.9 L1308.6 702.6 L1317.1 680.6 L1325.5 713.2 L1334 697 L1342.4 687.6 L1350.9 718.4 L1359.4 688 L1367.8 663.6 L1376.3 713.5 L1384.7 706.9 L1393.2 687.7 L1401.6 715 L1410.1 703.8 L1418.6 687.1 L1427 694.5 L1435.5 676.9 L1443.9 684.8 L1452.4 689.5 L1460.8 704.2 L1469.3 671 L1477.8 691.3 L1486.2 688.2 L1494.7 680.3 L1503.1 693.3 L1511.6 700.6 L1520 672.7 L1528.5 690.3 L1537 693.7 L1545.4 671.1 L1553.9 644.9 L1562.3 644 L1570.8 687.3 L1579.2 697.3 L1587.7 724.2 L1596.2 674.5 L1604.6 666.2 L1613.1 690.3 L1621.5 680.2 L1630 676 L1638.4 692.8 L1646.9 675.4 L1655.4 643.4 L1663.8 698.9 L1672.3 669.5 L1680.7 667.1 L1689.2 699.6 L1697.6 665.4 L1706.1 664.8 L1714.6 690.8 L1723 677.2 L1731.5 672.3 L1731.5 836.5 L1723 836.5 L1714.6 836.5 L1706.1 836.5 L1697.6 836.5 L1689.2 836.5 L1680.7 836.5 L1672.3 836.5 L1663.8 836.5 L1655.4 836.5 L1646.9 836.5 L1638.4 836.5 L1630 836.5 L1621.5 836.5 L1613.1 836.5 L1604.6 836.5 L1596.2 836.5 L1587.7 836.5 L1579.2 836.5 L1570.8 836.5 L1562.3 836.5 L1553.9 836.5 L1545.4 836.5 L1537 836.5 L1528.5 836.5 L1520 836.5 L1511.6 836.5 L1503.1 836.5 L1494.7 836.5 L1486.2 836.5 L1477.8 836.5 L1469.3 836.5 L1460.8 836.5 L1452.4 836.5 L1443.9 836.5 L1435.5 836.5 L1427 836.5 L1418.6 836.5 L1410.1 836.5 L1401.6 836.5 L1393.2 836.5 L1384.7 836.5 L1376.3 836.5 L1367.8 836.5 L1359.4 836.5 L1350.9 836.5 L1342.4 836.5 L1334 836.5 L1325.5 836.5 L1317.1 836.5 L1308.6 836.5 L1300.2 836.5 L1291.7 836.5 L1283.2 836.5 L1274.8 836.5 L1266.3 836.5 L1257.9 836.5 L1249.4 836.5 L1241 836.5 L1232.5 836.5 Z" fill="#E24D42" fill-opacity="0.1" stroke="none"/><path d="M1232.5 704.3 L1241 669 L1249.4 699.9 L1257.9 688.4 L1266.3 681 L1274.8 719.6 L1283.2 682.3 L1291.7 692.1 L1300.2 709.5 L1308.6 697.6 L1317.1 682.2 L1325.5 721.1 L1334 691.5 L1342.4 681.7 L1350.9 721.7 L1359.4 693.5 L1367.8 667.2 L1376.3 702.3 L1384.7 703.6 L1393.2 690.8 L1401.6 708.7 L1410.1 698.9 L1418.6 689.6 L1427 697.1 L1435.5 677.2 L1443.9 691.5 L1452.4 694.4 L1460.8 710.9 L1469.3 675.5 L1477.8 695.7 L1486.2 689.5 L1494.7 682 L1503.1 693.4 L1511.6 698.3 L1520 668.5 L1528.5 687 L1537 691.3 L1545.4 677.7 L1553.9 645.2 L1562.3 645 L1570.8 693.1 L1579.2 702.4 L1587.7 735.5 L1596.2 681.8 L1604.6 667.6 L1613.1 686.5 L1621.5 689 L1630 676.2 L1638.4 692.7 L1646.9 680 L1655.4 646.4 L1663.8 700.5 L1672.3 676.6 L1680.7 672.8 L1689.2 703.5 L1697.6 671.6 L1706.1 658.1 L1714.6 685.6 L1723 679.3 L1731.5 670.7 L1731.5 836.5 L1723 836.5 L1714.6 836.5 L1706.1 836.5 L1697.6 836.5 L1689.2 836.5 L1680.7 836.5 L1672.3 836.5 L1663.8 836.5 L1655.4 836.5 L1646.9 836.5 L1638.4 836.5 L1630 836.5 L1621.5 836.5 L1613.1 836.5 L1604.6 836.5 L1596.2 836.5 L1587.7 836.5 L1579.2 836.5 L1570.8 836.5 L1562.3 836.5 L1553.9 836.5 L1545.4 836.5 L1537 836.5 L1528.5 836.5 L1520 836.5 L1511.6 836.5 L1503.1 836.5 L1494.7 836.5 L1486.2 836.5 L1477.8 836.5 L1469.3 836.5 L1460.8 836.5 L1452.4 836.5 L1443.9 836.5 L1435.5 836.5 L1427 836.5 L1418.6 836.5 L1410.1 836.5 L1401.6 836.5 L1393.2 836.5 L1384.7 836.5 L1376.3 836.5 L1367.8 836.5 L1359.4 836.5 L1350.9 836.5 L1342.4 836.5 L1334 836.5 L1325.5 836.5 L1317.1 836.5 L1308.6 836.5 L1300.2 836.5 L1291.7 836.5 L1283.2 836.5 L1274.8 836.5 L1266.3 836.5 L1257.9 836.5 L1249.4 836.5 L1241 836.5 L1232.5 836.5 Z" fill="#1F78C1" fill-opacity="0.1" stroke="none"/><path d="M1232.5 702.1 L1241 670.6 L1249.4 698.6 L1257.9 688.3 L1266.3 683.3 L1274.8 720.1 L1283.2 681.5 L1291.7 690.3 L1300.2 712.7 L1308.6 692.2 L1317.1 690.6 L1325.5 710.9 L1334 695.8 L1342.4 685.7 L1350.9 721.5 L1359.4 691.8 L1367.8 667.7 L1376.3 698.9 L1384.7 706.4 L1393.2 687.9 L1401.6 711.5 L1410.1 697.2 L1418.6 684.2 L1427 695.5 L1435.5 678.2 L1443.9 682.5 L1452.4 691.3 L1460.8 709.9 L1469.3 672.8 L1477.8 695.9 L1486.2 691 L1494.7 678.1 L1503.1 693.5 L1511.6 701.2 L1520 671.7 L1528.5 683.4 L1537 691.5 L1545.4 676.9 L1553.9 650.8 L1562.3 644.2 L1570.8 688.1 L1579.2 690.6 L1587.7 730.6 L1596.2 681.8 L1604.6 666.6 L1613.1 686.8 L1621.5 681.2 L1630 678.4 L1638.4 687.9 L1646.9 675.1 L1655.4 652.4 L1663.8 705.6 L1672.3 672.8 L1680.7 673.5 L1689.2 698.8 L1697.6 673.2 L1706.1 663.3 L1714.6 682.3 L1723 679.6 L1731.5 665.8 L1731.5 836.5 L1723 836.5 L1714.6 836.5 L1706.1 836.5 L1697.6 836.5 L1689.2 836.5 L1680.7 836.5 L1672.3 836.5 L1663.8 836.5 L1655.4 836.5 L1646.9 836.5 L1638.4 836.5 L1630 836.5 L1621.5 836.5 L1613.1 836.5 L1604.6 836.5 L1596.2 836.5 L1587.7 836.5 L1579.2 836.5 L1570.8 836.5 L1562.3 836.5 L1553.9 836.5 L1545.4 836.5 L1537 836.5 L1528.5 836.5 L1520 836.5 L1511.6 836.5 L1503.1 836.5 L1494.7 836.5 L1486.2 836.5 L1477.8 836.5 L1469.3 836.5 L1460.8 836.5 L1452.4 836.5 L1443.9 836.5 L1435.5 836.5 L1427 836.5 L1418.6 836.5 L1410.1 836.5 L1401.6 836.5 L1393.2 836.5 L1384.7 836.5 L1376.3 836.5 L1367.8 836.5 L1359.4 836.5 L1350.9 836.5 L1342.4 836.5 L1334 836.5 L1325.5 836.5 L1317.1 836.5 L1308.6 836.5 L1300.2 836.5 L1291.7 836.5 L1283.2 836.5 L1274.8 836.5 L1266.3 836.5 L1257.9 836.5 L1249.4 836.5 L1241 836.5 L1232.5 836.5 Z" fill="#BA43A9" fill-opacity="0.1" stroke="none"/><path d="M1232.5 703.8 L1241 681.7 L1249.4 702 L1257.9 681.9 L1266.3 681.1 L1274.8 715 L1283.2 684.9 L1291.7 684.2 L1300.2 703.9 L1308.6 696.5 L1317.1 687.8 L1325.5 713.3 L1334 698.7 L1342.4 682.6 L1350.9 715.6 L1359.4 688 L1367.8 665.2 L1376.3 707.9 L1384.7 701.7 L1393.2 683.5 L1401.6 708.6 L1410.1 699.7 L1418.6 690.5 L1427 696.3 L1435.5 678.9 L1443.9 683.8 L1452.4 695.7 L1460.8 706.8 L1469.3 675 L1477.8 686.5 L1486.2 692.3 L1494.7 676.9 L1503.1 692.9 L1511.6 701.2 L1520 674.3 L1528.5 688.9 L1537 692.8 L1545.4 673 L1553.9 647.7 L1562.3 643.9 L1570.8 686.3 L1579.2 696.8 L1587.7 734.4 L1596.2 681.3 L1604.6 663.4 L1613.1 689.9 L1621.5 688.8 L1630 674 L1638.4 691.5 L1646.9 676.6 L1655.4 648.9 L1663.8 704.4 L1672.3 668.5 L1680.7 674.7 L1689.2 701.9 L1697.6 664.7 L1706.1 663.2 L1714.6 681.7 L1723 677.7 L1731.5 670.7 L1731.5 836.5 L1723 836.5 L1714.6 836.5 L1706.1 836.5 L1697.6 836.5 L1689.2 836.5 L1680.7 836.5 L1672.3 836.5 L1663.8 836.5 L1655.4 836.5 L1646.9 836.5 L1638.4 836.5 L1630 836.5 L1621.5 836.5 L1613.1 836.5 L1604.6 836.5 L1596.2 836.5 L1587.7 836.5 L1579.2 836.5 L1570.8 836.5 L1562.3 836.5 L1553.9 836.5 L1545.4 836.5 L1537 836.5 L1528.5 836.5 L1520 836.5 L1511.6 836.5 L1503.1 836.5 L1494.7 836.5 L1486.2 836.5 L1477.8 836.5 L1469.3 836.5 L1460.8 836.5 L1452.4 836.5 L1443.9 836.5 L1435.5 836.5 L1427 836.5 L1418.6 836.5 L1410.1 836.5 L1401.6 836.5 L1393.2 836.5 L1384.7 836.5 L1376.3 836.5 L1367.8 836.5 L1359.4 836.5 L1350.9 836.5 L1342.4 836.5 L1334 836.5 L1325.5 836.5 L1317.1 836.5 L1308.6 836.5 L1300.2 836.5 L1291.7 836.5 L1283.2 836.5 L1274.8 836.5 L1266.3 836.5 L1257.9 836.5 L1249.4 836.5 L1241 836.5 L1232.5 836.5 Z" fill="#705DA0" fill-opacity="0.1" stroke="none"/><path d="M1232.5 698 L1241 676.5 L1249.4 696.1 L1257.9 687.6 L1266.3 687.9 L1274.8 718.4 L1283.2 678.8 L1291.7 688 L1300.2 710.3 L1308.6 692.8 L1317.1 687.8 L1325.5 713.8 L1334 691.4 L1342.4 685.5 L1350.9 713.3 L1359.4 684.8 L1367.8 657.9 L1376.3 699.2 L1384.7 706.7 L1393.2 689 L1401.6 709.2 L1410.1 695.3 L1418.6 685.8 L1427 698.1 L1435.5 673.2 L1443.9 689.6 L1452.4 688.1 L1460.8 706.9 L1469.3 670.7 L1477.8 694.5 L1486.2 686 L1494.7 676.1 L1503.1 693.6 L1511.6 695.6 L1520 670.9 L1528.5 687 L1537 692.8 L1545.4 670.2 L1553.9 649.1 L1562.3 642.4 L1570.8 693.9 L1579.2 689.3 L1587.7 732.2 L1596.2 681.8 L1604.6 661.8 L1613.1 687.1 L1621.5 686.5 L1630 673.6 L1638.4 687.4 L1646.9 676.5 L1655.4 647.6 L1663.8 704.9 L1672.3 667.5 L1680.7 672.6 L1689.2 702.1 L1697.6 674.8 L1706.1 662.3 L1714.6 687.7 L1723 679.1 L1731.5 670.9 L1731.5 836.5 L1723 836.5 L1714.6 836.5 L1706.1 836.5 L1697.6 836.5 L1689.2 836.5 L1680.7 836.5 L1672.3 836.5 L1663.8 836.5 L1655.4 836.5 L1646.9 836.5 L1638.4 836.5 L1630 836.5 L1621.5 836.5 L1613.1 836.5 L1604.6 836.5 L1596.2 836.5 L1587.7 836.5 L1579.2 836.5 L1570.8 836.5 L1562.3 836.5 L1553.9 836.5 L1545.4 836.5 L1537 836.5 L1528.5 836.5 L1520 836.5 L1511.6 836.5 L1503.1 836.5 L1494.7 836.5 L1486.2 836.5 L1477.8 836.5 L1469.3 836.5 L1460.8 836.5 L1452.4 836.5 L1443.9 836.5 L1435.5 836.5 L1427 836.5 L1418.6 836.5 L1410.1 836.5 L1401.6 836.5 L1393.2 836.5 L1384.7 836.5 L1376.3 836.5 L1367.8 836.5 L1359.4 836.5 L1350.9 836.5 L1342.4 836.5 L1334 836.5 L1325.5 836.5 L1317.1 836.5 L1308.6 836.5 L1300.2 836.5 L1291.7 836.5 L1283.2 836.5 L1274.8 836.5 L1266.3 836.5 L1257.9 836.5 L1249.4 836.5 L1241 836.5 L1232.5 836.5 Z" fill="#508642" fill-opacity="0.1" stroke="none"/><path d="M1232.5 701.2 L1241 677.2 L1249.4 698.5 L1257.9 685.3 L1266.3 686.8 L1274.8 721.7 L1283.2 683.3 L1291.7 690.5 L1300.2 710 L1308.6 693.7 L1317.1 681.1 L1325.5 715.2 L1334 694.6 L1342.4 684.6 L1350.9 712.5 L1359.4 685 L1367.8 665.8 L1376.3 706.6 L1384.7 706.1 L1393.2 682.3 L1401.6 706 L1410.1 702.2 L1418.6 687.8 L1427 703.6 L1435.5 681.9 L1443.9 685.9 L1452.4 689.5 L1460.8 707.5 L1469.3 670.5 L1477.8 689.4 L1486.2 693.2 L1494.7 680.9 L1503.1 693 L1511.6 704.5 L1520 671.2 L1528.5 687.8 L1537 691.9 L1545.4 676.7 L1553.9 647.9 L1562.3 645 L1570.8 685.6 L1579.2 690.5 L1587.7 730.1 L1596.2 682 L1604.6 661.5 L1613.1 688.1 L1621.5 680.8 L1630 678.8 L1638.4 689.9 L1646.9 683.7 L1655.4 645.8 L1663.8 702.4 L1672.3 672.8 L1680.7 676.9 L1689.2 702.9 L1697.6 671.3 L1706.1 659.4 L1714.6 681 L1723 675.8 L1731.5 668.8 L1731.5 836.5 L1723 836.5 L1714.6 836.5 L1706.1 836.5 L1697.6 836.5 L1689.2 836.5 L1680.7 836.5 L1672.3 836.5 L1663.8 836.5 L1655.4 836.5 L1646.9 836.5 L1638.4 836.5 L1630 836.5 L1621.5 836.5 L1613.1 836.5 L1604.6 836.5 L1596.2 836.5 L1587.7 836.5 L1579.2 836.5 L1570.8 836.5 L1562.3 836.5 L1553.9 836.5 L1545.4 836.5 L1537 836.5 L1528.5 836.5 L1520 836.5 L1511.6 836.5 L1503.1 836.5 L1494.7 836.5 L1486.2 836.5 L1477.8 836.5 L1469.3 836.5 L1460.8 836.5 L1452.4 836.5 L1443.9 836.5 L1435.5 836.5 L1427 836.5 L1418.6 836.5 L1410.1 836.5 L1401.6 836.5 L1393.2 836.5 L1384.7 836.5 L1376.3 836.5 L1367.8 836.5 L1359.4 836.5 L1350.9 836.5 L1342.4 836.5 L1334 836.5 L1325.5 836.5 L1317.1 836.5 L1308.6 836.5 L1300.2 836.5 L1291.7 836.5 L1283.2 836.5 L1274.8 836.5 L1266.3 836.5 L1257.9 836.5 L1249.4 836.5 L1241 836.5 L1232.5 836.5 Z" fill="#CCA300" fill-opacity="0.1" stroke="none"/><path d="M1232.5 703.2 L1241 676.5 L1249.4 696.6 L1257.9 694.9 L1266.3 678.6 L1274.8 721.4 L1283.2 687.4 L1291.7 691.8 L1300.2 715 L1308.6 694.5 L1317.1 682.9 L1325.5 712.9 L1334 692.8 L1342.4 684.7 L1350.9 720.9 L1359.4 687.2 L1367.8 667.1 L1376.3 700.5 L1384.7 707.4 L1393.2 689.4 L1401.6 707.3 L1410.1 697.2 L1418.6 682.5 L1427 701.7 L1435.5 679.8 L1443.9 686.2 L1452.4 694 L1460.8 708.4 L1469.3 675.6 L1477.8 686.5 L1486.2 691.7 L1494.7 681.1 L1503.1 693.6 L1511.6 702.6 L1520 670.4 L1528.5 686.1 L1537 687.1 L1545.4 680.3 L1553.9 642.8 L1562.3 645.6 L1570.8 687.5 L1579.2 692.2 L1587.7 726.9 L1596.2 679.5 L1604.6 664.2 L1613.1 692 L1621.5 684.3 L1630 678.4 L1638.4 691.2 L1646.9 685.5 L1655.4 645.2 L1663.8 703.7 L1672.3 674.8 L1680.7 673 L1689.2 703.1 L1697.6 667.9 L1706.1 663.5 L1714.6 681.7 L1723 678.5 L1731.5 666.6 L1731.5 836.5 L1723 836.5 L1714.6 836.5 L1706.1 836.5 L1697.6 836.5 L1689.2 836.5 L1680.7 836.5 L1672.3 836.5 L1663.8 836.5 L1655.4 836.5 L1646.9 836.5 L1638.4 836.5 L1630 836.5 L1621.5 836.5 L1613.1 836.5 L1604.6 836.5 L1596.2 836.5 L1587.7 836.5 L1579.2 836.5 L1570.8 836.5 L1562.3 836.5 L1553.9 836.5 L1545.4 836.5 L1537 836.5 L1528.5 836.5 L1520 836.5 L1511.6 836.5 L1503.1 836.5 L1494.7 836.5 L1486.2 836.5 L1477.8 836.5 L1469.3 836.5 L1460.8 836.5 L1452.4 836.5 L1443.9 836.5 L1435.5 836.5 L1427 836.5 L1418.6 836.5 L1410.1 836.5 L1401.6 836.5 L1393.2 836.5 L1384.7 836.5 L1376.3 836.5 L1367.8 836.5 L1359.4 836.5 L1350.9 836.5 L1342.4 836.5 L1334 836.5 L1325.5 836.5 L1317.1 836.5 L1308.6 836.5 L1300.2 836.5 L1291.7 836.5 L1283.2 836.5 L1274.8 836.5 L1266.3 836.5 L1257.9 836.5 L1249.4 836.5 L1241 836.5 L1232.5 836.5 Z" fill="#447EBC" fill-opacity="0.1" stroke="none"/><path d="M1232.5 700.2 L1241 672.5 L1249.4 697.7 L1257.9 690.3 L1266.3 677.1 L1274.8 713.7 L1283.2 682.4 L1291.7 687.6 L1300.2 707.5 L1308.6 703.9 L1317.1 685.7 L1325.5 712.4 L1334 689.3 L1342.4 680.3 L1350.9 711.8 L1359.4 681.1 L1367.8 669.5 L1376.3 702.7 L1384.7 708.8 L1393.2 686.8 L1401.6 703.4 L1410.1 707.2 L1418.6 688.5 L1427 700.8 L1435.5 675.5 L1443.9 683.5 L1452.4 691 L1460.8 712.5 L1469.3 670.1 L1477.8 688.2 L1486.2 691.7 L1494.7 672.6 L1503.1 694.7 L1511.6 695.9 L1520 676.3 L1528.5 684.8 L1537 690.5 L1545.4 672.1 L1553.9 651.7 L1562.3 642.4 L1570.8 685.8 L1579.2 696.8 L1587.7 729.3 L1596.2 682.1 L1604.6 661.7 L1613.1 689.6 L1621.5 686.7 L1630 675.8 L1638.4 683.2 L1646.9 680.5 L1655.4 651.5 L1663.8 704.1 L1672.3 675.5 L1680.7 675 L1689.2 700.2 L1697.6 673.4 L1706.1 663.8 L1714.6 680.5 L1723 676.5 L1731.5 672.6 L1731.5 836.5 L1723 836.5 L1714.6 836.5 L1706.1 836.5 L1697.6 836.5 L1689.2 836.5 L1680.7 836.5 L1672.3 836.5 L1663.8 836.5 L1655.4 836.5 L1646.9 836.5 L1638.4 836.5 L1630 836.5 L1621.5 836.5 L1613.1 836.5 L1604.6 836.5 L1596.2 836.5 L1587.7 836.5 L1579.2 836.5 L1570.8 836.5 L1562.3 836.5 L1553.9 836.5 L1545.4 836.5 L1537 836.5 L1528.5 836.5 L1520 836.5 L1511.6 836.5 L1503.1 836.5 L1494.7 836.5 L1486.2 836.5 L1477.8 836.5 L1469.3 836.5 L1460.8 836.5 L1452.4 836.5 L1443.9 836.5 L1435.5 836.5 L1427 836.5 L1418.6 836.5 L1410.1 836.5 L1401.6 836.5 L1393.2 836.5 L1384.7 836.5 L1376.3 836.5 L1367.8 836.5 L1359.4 836.5 L1350.9 836.5 L1342.4 836.5 L1334 836.5 L1325.5 836.5 L1317.1 836.5 L1308.6 836.5 L1300.2 836.5 L1291.7 836.5 L1283.2 836.5 L1274.8 836.5 L1266.3 836.5 L1257.9 836.5 L1249.4 836.5 L1241 836.5 L1232.5 836.5 Z" fill="#C15C17" fill-opacity="0.1" stroke="none"/><path d="M1232.5 700.5 L1241 676.4 L1249.4 699.6 L1257.9 688.5 L1266.3 682.1 L1274.8 717.1 L1283.2 683.7 L1291.7 691 L1300.2 710.7 L1308.6 698 L1317.1 684.6 L1325.5 713.9 L1334 691.6 L1342.4 685.3 L1350.9 715.5 L1359.4 688.5 L1367.8 667.8 L1376.3 704.3 L1384.7 705.9 L1393.2 686.9 L1401.6 709.8 L1410.1 701.2 L1418.6 686.9 L1427 698 L1435.5 677.3 L1443.9 685.3 L1452.4 691.6 L1460.8 706.9 L1469.3 674.2 L1477.8 691.6 L1486.2 690 L1494.7 678.9 L1503.1 690 L1511.6 699.6 L1520 672.6 L1528.5 685.3 L1537 691.6 L1545.4 675.7 L1553.9 647.2 L1562.3 643.3 L1570.8 690 L1579.2 694.8 L1587.7 729.8 L1596.2 680.5 L1604.6 663 L1613.1 688.5 L1621.5 685.3 L1630 675.7 L1638.4 688.5 L1646.9 678.9 L1655.4 647.2 L1663.8 702.8 L1672.3 672.6 L1680.7 672.6 L1689.2 701.2 L1697.6 670 L1706.1 664.6 L1714.6 683.7 L1723 680.5 L1731.5 669.4 L1731.5 836.5 L1723 836.5 L1714.6 836.5 L1706.1 836.5 L1697.6 836.5 L1689.2 836.5 L1680.7 836.5 L1672.3 836.5 L1663.8 836.5 L1655.4 836.5 L1646.9 836.5 L1638.4 836.5 L1630 836.5 L1621.5 836.5 L1613.1 836.5 L1604.6 836.5 L1596.2 836.5 L1587.7 836.5 L1579.2 836.5 L1570.8 836.5 L1562.3 836.5 L1553.9 836.5 L1545.4 836.5 L1537 836.5 L1528.5 836.5 L1520 836.5 L1511.6 836.5 L1503.1 836.5 L1494.7 836.5 L1486.2 836.5 L1477.8 836.5 L1469.3 836.5 L1460.8 836.5 L1452.4 836.5 L1443.9 836.5 L1435.5 836.5 L1427 836.5 L1418.6 836.5 L1410.1 836.5 L1401.6 836.5 L1393.2 836.5 L1384.7 836.5 L1376.3 836.5 L1367.8 836.5 L1359.4 836.5 L1350.9 836.5 L1342.4 836.5 L1334 836.5 L1325.5 836.5 L1317.1 836.5 L1308.6 836.5 L1300.2 836.5 L1291.7 836.5 L1283.2 836.5 L1274.8 836.5 L1266.3 836.5 L1257.9 836.5 L1249.4 836.5 L1241 836.5 L1232.5 836.5 Z" fill="#890F02" fill-opacity="0.1" stroke="none"/><path d="M1232.5 836.5 L1241 836.5 L1249.4 836.5 L1257.9 836.5 L1266.3 836.5 L1274.8 836.5 L1283.2 836.5 L1291.7 836.5 L1300.2 836.5 L1308.6 836.5 L1317.1 836.5 L1325.5 836.5 L1334 836.5 L1342.4 836.5 L1350.9 836.5 L1359.4 836.5 L1367.8 836.5 L1376.3 836.5 L1384.7 836.5 L1393.2 836.5 L1401.6 836.5 L1410.1 836.5 L1418.6 836.5 L1427 836.5 L1435.5 836.5 L1443.9 836.5 L1452.4 836.5 L1460.8 836.5 L1469.3 836.5 L1477.8 836.5 L1486.2 836.5 L1494.7 836.5 L1503.1 836.5 L1511.6 836.5 L1520 836.5 L1528.5 836.5 L1537 836.5 L1545.4 836.5 L1553.9 836.5 L1562.3 836.5 L1570.8 836.5 L1579.2 836.5 L1587.7 836.5 L1596.2 836.5 L1604.6 836.5 L1613.1 836.5 L1621.5 836.5 L1630 836.5 L1638.4 836.5 L1646.9 836.5 L1655.4 836.5 L1663.8 836.5 L1672.3 836.5 L1680.7 836.5 L1689.2 836.5 L1697.6 836.5 L1706.1 836.5 L1714.6 836.5 L1723 836.5 L1731.5 836.5" fill="none" stroke="#7EB26D" stroke-width="1" stroke-linejoin="round"/><path d="M1232.5 703 L1241 680.6 L1249.4 697.2 L1257.9 685.7 L1266.3 683.3 L1274.8 722.6 L1283.2 685.1 L1291.7 687.4 L1300.2 708.4 L1308.6 697.9 L1317.1 687.7 L1325.5 713.9 L1334 690.6 L1342.4 684.7 L1350.9 716.1 L1359.4 686.2 L1367.8 667.9 L1376.3 705.3 L1384.7 711.2 L1393.2 686.8 L1401.6 712.9 L1410.1 698 L1418.6 689.7 L1427 698.6 L1435.5 675.8 L1443.9 685.3 L1452.4 694.6 L1460.8 706 L1469.3 677.5 L1477.8 696.5 L1486.2 695.2 L1494.7 684.1 L1503.1 686.2 L1511.6 700.8 L1520 670.5 L1528.5 688.4 L1537 692 L1545.4 676.6 L1553.9 648.7 L1562.3 641.6 L1570.8 690.5 L1579.2 692.7 L1587.7 736.4 L1596.2 679.2 L1604.6 663.2 L1613.1 683 L1621.5 680.8 L1630 673.2 L1638.4 691.1 L1646.9 681.5 L1655.4 648.1 L1663.8 700.9 L1672.3 678.5 L1680.7 669.5 L1689.2 698.6 L1697.6 671.7 L1706.1 661.6 L1714.6 684.6 L1723 683.7 L1731.5 669.3" fill="none" stroke="#EAB839" stroke-width="1" stroke-linejoin="round"/><path d="M1232.5 701.9 L1241 676.6 L1249.4 697.6 L1257.9 678.6 L1266.3 678.4 L1274.8 717.2 L1283.2 678.6 L1291.7 689.3 L1300.2 711.5 L1308.6 702.3 L1317.1 680.5 L1325.5 712.3 L1334 692.5 L1342.4 687.1 L1350.9 711.2 L1359.4 694.4 L1367.8 665.3 L1376.3 707.9 L1384.7 705.4 L1393.2 688.3 L1401.6 715.1 L1410.1 703.5 L1418.6 687.4 L1427 694.9 L1435.5 675.4 L1443.9 680.9 L1452.4 698.1 L1460.8 702.1 L1469.3 666.1 L1477.8 696.9 L1486.2 694.2 L1494.7 677.9 L1503.1 692.8 L1511.6 697.1 L1520 670.9 L1528.5 687 L1537 693 L1545.4 674.4 L1553.9 652.4 L1562.3 645.8 L1570.8 690.6 L1579.2 691.2 L1587.7 730.3 L1596.2 679.6 L1604.6 662.9 L1613.1 691.1 L1621.5 683.6 L1630 676.7 L1638.4 691.1 L1646.9 680.2 L1655.4 654.5 L1663.8 697.3 L1672.3 672.5 L1680.7 668.9 L1689.2 701.1 L1697.6 678.1 L1706.1 659.5 L1714.6 682.9 L1723 682.7 L1731.5 669.8" fill="none" stroke="#6ED0E0" stroke-width="1" stroke-linejoin="round"/><path d="M1232.5 703.5 L1241 671.5 L1249.4 702.8 L1257.9 685.5 L1266.3 678.3 L1274.8 719 L1283.2 685.3 L1291.7 688.8 L1300.2 708.2 L1308.6 697.4 L1317.1 684.7 L1325.5 713.4 L1334 688.5 L1342.4 678 L1350.9 719.7 L1359.4 689.1 L1367.8 663.9 L1376.3 699.4 L1384.7 703.8 L1393.2 685.6 L1401.6 703.1 L1410.1 705.7 L1418.6 688.3 L1427 697 L1435.5 678.5 L1443.9 686.1 L1452.4 695.1 L1460.8 707.4 L1469.3 678.2 L1477.8 696.6 L1486.2 689.1 L1494.7 677.5 L1503.1 687.3 L1511.6 698.9 L1520 670.3 L1528.5 685.4 L1537 692.7 L1545.4 677.5 L1553.9 643.5 L1562.3 646.8 L1570.8 689.1 L1579.2 694.5 L1587.7 728.2 L1596.2 674.2 L1604.6 663.9 L1613.1 682.9 L1621.5 688.9 L1630 675.9 L1638.4 693.5 L1646.9 681 L1655.4 649.4 L1663.8 707.3 L1672.3 672.5 L1680.7 677.5 L1689.2 700.8 L1697.6 670.9 L1706.1 662.5 L1714.6 685.5 L1723 682.7 L1731.5 667.8" fill="none" stroke="#EF843C" stroke-width="1" stroke-linejoin="round"/><path d="M1232.5 696.5 L1241 676.3 L1249.4 701 L1257.9 688 L1266.3 679 L1274.8 714.8 L1283.2 682.9 L1291.7 682.7 L1300.2 708.9 L1308.6 702.6 L1317.1 680.6 L1325.5 713.2 L1334 697 L1342.4 687.6 L1350.9 718.4 L1359.4 688 L1367.8 663.6 L1376.3 713.5 L1384.7 706.9 L1393.2 687.7 L1401.6 715 L1410.1 703.8 L1418.6 687.1 L1427 694.5 L1435.5 676.9 L1443.9 684.8 L1452.4 689.5 L1460.8 704.2 L1469.3 671 L1477.8 691.3 L1486.2 688.2 L1494.7 680.3 L1503.1 693.3 L1511.6 700.6 L1520 672.7 L1528.5 690.3 L1537 693.7 L1545.4 671.1 L1553.9 644.9 L1562.3 644 L1570.8 687.3 L1579.2 697.3 L1587.7 724.2 L1596.2 674.5 L1604.6 666.2 L1613.1 690.3 L1621.5 680.2 L1630 676 L1638.4 692.8 L1646.9 675.4 L1655.4 643.4 L1663.8 698.9 L1672.3 669.5 L1680.7 667.1 L1689.2 699.6 L1697.6 665.4 L1706.1 664.8 L1714.6 690.8 L1723 677.2 L1731.5 672.3" fill="none" stroke="#E24D42" stroke-width="1" stroke-linejoin="round"/><path d="M1232.5 704.3 L1241 669 L1249.4 699.9 L1257.9 688.4 L1266.3 681 L1274.8 719.6 L1283.2 682.3 L1291.7 692.1 L1300.2 709.5 L1308.6 697.6 L1317.1 682.2 L1325.5 721.1 L1334 691.5 L1342.4 681.7 L1350.9 721.7 L1359.4 693.5 L1367.8 667.2 L1376.3 702.3 L1384.7 703.6 L1393.2 690.8 L1401.6 708.7 L1410.1 698.9 L1418.6 689.6 L1427 697.1 L1435.5 677.2 L1443.9 691.5 L1452.4 694.4 L1460.8 710.9 L1469.3 675.5 L1477.8 695.7 L1486.2 689.5 L1494.7 682 L1503.1 693.4 L1511.6 698.3 L1520 668.5 L1528.5 687 L1537 691.3 L1545.4 677.7 L1553.9 645.2 L1562.3 645 L1570.8 693.1 L1579.2 702.4 L1587.7 735.5 L1596.2 681.8 L1604.6 667.6 L1613.1 686.5 L1621.5 689 L1630 676.2 L1638.4 692.7 L1646.9 680 L1655.4 646.4 L1663.8 700.5 L1672.3 676.6 L1680.7 672.8 L1689.2 703.5 L1697.6 671.6 L1706.1 658.1 L1714.6 685.6 L1723 679.3 L1731.5 670.7" fill="none" stroke="#1F78C1" stroke-width="1" stroke-linejoin="round"/><path d="M1232.5 702.1 L1241 670.6 L1249.4 698.6 L1257.9 688.3 L1266.3 683.3 L1274.8 720.1 L1283.2 681.5 L1291.7 690.3 L1300.2 712.7 L1308.6 692.2 L1317.1 690.6 L1325.5 710.9 L1334 695.8 L1342.4 685.7 L1350.9 721.5 L1359.4 691.8 L1367.8 667.7 L1376.3 698.9 L1384.7 706.4 L1393.2 687.9 L1401.6 711.5 L1410.1 697.2 L1418.6 684.2 L1427 695.5 L1435.5 678.2 L1443.9 682.5 L1452.4 691.3 L1460.8 709.9 L1469.3 672.8 L1477.8 695.9 L1486.2 691 L1494.7 678.1 L1503.1 693.5 L1511.6 701.2 L1520 671.7 L1528.5 683.4 L1537 691.5 L1545.4 676.9 L1553.9 650.8 L1562.3 644.2 L1570.8 688.1 L1579.2 690.6 L1587.7 730.6 L1596.2 681.8 L1604.6 666.6 L1613.1 686.8 L1621.5 681.2 L1630 678.4 L1638.4 687.9 L1646.9 675.1 L1655.4 652.4 L1663.8 705.6 L1672.3 672.8 L1680.7 673.5 L1689.2 698.8 L1697.6 673.2 L1706.1 663.3 L1714.6 682.3 L1723 679.6 L1731.5 665.8" fill="none" stroke="#BA43A9" stroke-width="1" stroke-linejoin="round"/><path d="M1232.5 703.8 L1241 681.7 L1249.4 702 L1257.9 681.9 L1266.3 681.1 L1274.8 715 L1283.2 684.9 L1291.7 684.2 L1300.2 703.9 L1308.6 696.5 L1317.1 687.8 L1325.5 713.3 L1334 698.7 L1342.4 682.6 L1350.9 715.6 L1359.4 688 L1367.8 665.2 L1376.3 707.9 L1384.7 701.7 L1393.2 683.5 L1401.6 708.6 L1410.1 699.7 L1418.6 690.5 L1427 696.3 L1435.5 678.9 L1443.9 683.8 L1452.4 695.7 L1460.8 706.8 L1469.3 675 L1477.8 686.5 L1486.2 692.3 L1494.7 676.9 L1503.1 692.9 L1511.6 701.2 L1520 674.3 L1528.5 688.9 L1537 692.8 L1545.4 673 L1553.9 647.7 L1562.3 643.9 L1570.8 686.3 L1579.2 696.8 L1587.7 734.4 L1596.2 681.3 L1604.6 663.4 L1613.1 689.9 L1621.5 688.8 L1630 674 L1638.4 691.5 L1646.9 676.6 L1655.4 648.9 L1663.8 704.4 L1672.3 668.5 L1680.7 674.7 L1689.2 701.9 L1697.6 664.7 L1706.1 663.2 L1714.6 681.7 L1723 677.7 L1731.5 670.7" fill="none" stroke="#705DA0" stroke-width="1" stroke-linejoin="round"/><path d="M1232.5 698 L1241 676.5 L1249.4 696.1 L1257.9 687.6 L1266.3 687.9 L1274.8 718.4 L1283.2 678.8 L1291.7 688 L1300.2 710.3 L1308.6 692.8 L1317.1 687.8 L1325.5 713.8 L1334 691.4 L1342.4 685.5 L1350.9 713.3 L1359.4 684.8 L1367.8 657.9 L1376.3 699.2 L1384.7 706.7 L1393.2 689 L1401.6 709.2 L1410.1 695.3 L1418.6 685.8 L1427 698.1 L1435.5 673.2 L1443.9 689.6 L1452.4 688.1 L1460.8 706.9 L1469.3 670.7 L1477.8 694.5 L1486.2 686 L1494.7 676.1 L1503.1 693.6 L1511.6 695.6 L1520 670.9 L1528.5 687 L1537 692.8 L1545.4 670.2 L1553.9 649.1 L1562.3 642.4 L1570.8 693.9 L1579.2 689.3 L1587.7 732.2 L1596.2 681.8 L1604.6 661.8 L1613.1 687.1 L1621.5 686.5 L1630 673.6 L1638.4 687.4 L1646.9 676.5 L1655.4 647.6 L1663.8 704.9 L1672.3 667.5 L1680.7 672.6 L1689.2 702.1 L1697.6 674.8 L1706.1 662.3 L1714.6 687.7 L1723 679.1 L1731.5 670.9" fill="none" stroke="#508642" stroke-width="1" stroke-linejoin="round"/><path d="M1232.5 701.2 L1241 677.2 L1249.4 698.5 L1257.9 685.3 L1266.3 686.8 L1274.8 721.7 L1283.2 683.3 L1291.7 690.5 L1300.2 710 L1308.6 693.7 L1317.1 681.1 L1325.5 715.2 L1334 694.6 L1342.4 684.6 L1350.9 712.5 L1359.4 685 L1367.8 665.8 L1376.3 706.6 L1384.7 706.1 L1393.2 682.3 L1401.6 706 L1410.1 702.2 L1418.6 687.8 L1427 703.6 L1435.5 681.9 L1443.9 685.9 L1452.4 689.5 L1460.8 707.5 L1469.3 670.5 L1477.8 689.4 L1486.2 693.2 L1494.7 680.9 L1503.1 693 L1511.6 704.5 L1520 671.2 L1528.5 687.8 L1537 691.9 L1545.4 676.7 L1553.9 647.9 L1562.3 645 L1570.8 685.6 L1579.2 690.5 L1587.7 730.1 L1596.2 682 L1604.6 661.5 L1613.1 688.1 L1621.5 680.8 L1630 678.8 L1638.4 689.9 L1646.9 683.7 L1655.4 645.8 L1663.8 702.4 L1672.3 672.8 L1680.7 676.9 L1689.2 702.9 L1697.6 671.3 L1706.1 659.4 L1714.6 681 L1723 675.8 L1731.5 668.8" fill="none" stroke="#CCA300" stroke-width="1" stroke-linejoin="round"/><path d="M1232.5 703.2 L1241 676.5 L1249.4 696.6 L1257.9 694.9 L1266.3 678.6 L1274.8 721.4 L1283.2 687.4 L1291.7 691.8 L1300.2 715 L1308.6 694.5 L1317.1 682.9 L1325.5 712.9 L1334 692.8 L1342.4 684.7 L1350.9 720.9 L1359.4 687.2 L1367.8 667.1 L1376.3 700.5 L1384.7 707.4 L1393.2 689.4 L1401.6 707.3 L1410.1 697.2 L1418.6 682.5 L1427 701.7 L1435.5 679.8 L1443.9 686.2 L1452.4 694 L1460.8 708.4 L1469.3 675.6 L1477.8 686.5 L1486.2 691.7 L1494.7 681.1 L1503.1 693.6 L1511.6 702.6 L1520 670.4 L1528.5 686.1 L1537 687.1 L1545.4 680.3 L1553.9 642.8 L1562.3 645.6 L1570.8 687.5 L1579.2 692.2 L1587.7 726.9 L1596.2 679.5 L1604.6 664.2 L1613.1 692 L1621.5 684.3 L1630 678.4 L1638.4 691.2 L1646.9 685.5 L1655.4 645.2 L1663.8 703.7 L1672.3 674.8 L1680.7 673 L1689.2 703.1 L1697.6 667.9 L1706.1 663.5 L1714.6 681.7 L1723 678.5 L1731.5 666.6" fill="none" stroke="#447EBC" stroke-width="1" stroke-linejoin="round"/><path d="M1232.5 700.2 L1241 672.5 L1249.4 697.7 L1257.9 690.3 L1266.3 677.1 L1274.8 713.7 L1283.2 682.4 L1291.7 687.6 L1300.2 707.5 L1308.6 703.9 L1317.1 685.7 L1325.5 712.4 L1334 689.3 L1342.4 680.3 L1350.9 711.8 L1359.4 681.1 L1367.8 669.5 L1376.3 702.7 L1384.7 708.8 L1393.2 686.8 L1401.6 703.4 L1410.1 707.2 L1418.6 688.5 L1427 700.8 L1435.5 675.5 L1443.9 683.5 L1452.4 691 L1460.8 712.5 L1469.3 670.1 L1477.8 688.2 L1486.2 691.7 L1494.7 672.6 L1503.1 694.7 L1511.6 695.9 L1520 676.3 L1528.5 684.8 L1537 690.5 L1545.4 672.1 L1553.9 651.7 L1562.3 642.4 L1570.8 685.8 L1579.2 696.8 L1587.7 729.3 L1596.2 682.1 L1604.6 661.7 L1613.1 689.6 L1621.5 686.7 L1630 675.8 L1638.4 683.2 L1646.9 680.5 L1655.4 651.5 L1663.8 704.1 L1672.3 675.5 L1680.7 675 L1689.2 700.2 L1697.6 673.4 L1706.1 663.8 L1714.6 680.5 L1723 676.5 L1731.5 672.6" fill="none" stroke="#C15C17" stroke-width="1" stroke-linejoin="round"/><path d="M1232.5 700.5 L1241 676.4 L1249.4 699.6 L1257.9 688.5 L1266.3 682.1 L1274.8 717.1 L1283.2 683.7 L1291.7 691 L1300.2 710.7 L1308.6 698 L1317.1 684.6 L1325.5 713.9 L1334 691.6 L1342.4 685.3 L1350.9 715.5 L1359.4 688.5 L1367.8 667.8 L1376.3 704.3 L1384.7 705.9 L1393.2 686.9 L1401.6 709.8 L1410.1 701.2 L1418.6 686.9 L1427 698 L1435.5 677.3 L1443.9 685.3 L1452.4 691.6 L1460.8 706.9 L1469.3 674.2 L1477.8 691.6 L1486.2 690 L1494.7 678.9 L1503.1 690 L1511.6 699.6 L1520 672.6 L1528.5 685.3 L1537 691.6 L1545.4 675.7 L1553.9 647.2 L1562.3 643.3 L1570.8 690 L1579.2 694.8 L1587.7 729.8 L1596.2 680.5 L1604.6 663 L1613.1 688.5 L1621.5 685.3 L1630 675.7 L1638.4 688.5 L1646.9 678.9 L1655.4 647.2 L1663.8 702.8 L1672.3 672.6 L1680.7 672.6 L1689.2 701.2 L1697.6 670 L1706.1 664.6 L1714.6 683.7 L1723 680.5 L1731.5 669.4" fill="none" stroke="#890F02" stroke-width="1.5" stroke-linejoin="round"/></svg>
<div class="lg" style="left:1207px;top:867.5px;letter-spacing:-0.13px"><span class="li"><i style="background:#7EB26D"></i>sda  Max: 0%  Avg: 0%</span><span class="li"><i style="background:#EAB839"></i>sdb  Max: 92.8%  Avg: 69.5%</span><span class="li"><i style="background:#6ED0E0"></i>sdc  Max: 92.8%  Avg: 71.5%</span></div>
<div class="lg" style="left:1207px;top:885.5px;letter-spacing:-0.13px"><span class="li"><i style="background:#EF843C"></i>sdd  Max: 91.2%  Avg: 71.8%</span><span class="li"><i style="background:#E24D42"></i>sde  Max: 92.5%  Avg: 70.0%</span><span class="li"><i style="background:#1F78C1"></i>sdf  Max: 92.1%  Avg: 69.9%</span></div>
<div class="lg" style="left:1207px;top:903.5px;letter-spacing:-0.13px"><span class="li"><i style="background:#BA43A9"></i>sdg  Max: 93.8%  Avg: 71.2%</span><span class="li"><i style="background:#705DA0"></i>sdh  Max: 91.4%  Avg: 71.7%</span><span class="li"><i style="background:#508642"></i>sdi  Max: 92.7%  Avg: 69.5%</span></div>
<div class="lg" style="left:1207px;top:921.5px;letter-spacing:-0.13px"><span class="li"><i style="background:#CCA300"></i>sdj  Max: 92.4%  Avg: 69.7%</span><span class="li"><i style="background:#447EBC"></i>sdk  Max: 90.5%  Avg: 71.4%</span><span class="li"><i style="background:#C15C17"></i>sdl  Max: 92.2%  Avg: 69.9%</span></div>
<div class="lg" style="left:1207px;top:939.5px;letter-spacing:-0.13px"><span class="li"><i style="background:#890F02"></i>Mean  Max: 91.6%  Avg: 70.5%</span></div>
<div class="pn" style="left:9px;top:973px;width:582px;height:100px"></div>
<div class="pn" style="left:599px;top:973px;width:582px;height:100px"></div>
<div class="pn" style="left:1188px;top:973px;width:582px;height:100px"></div>
</body></html>
